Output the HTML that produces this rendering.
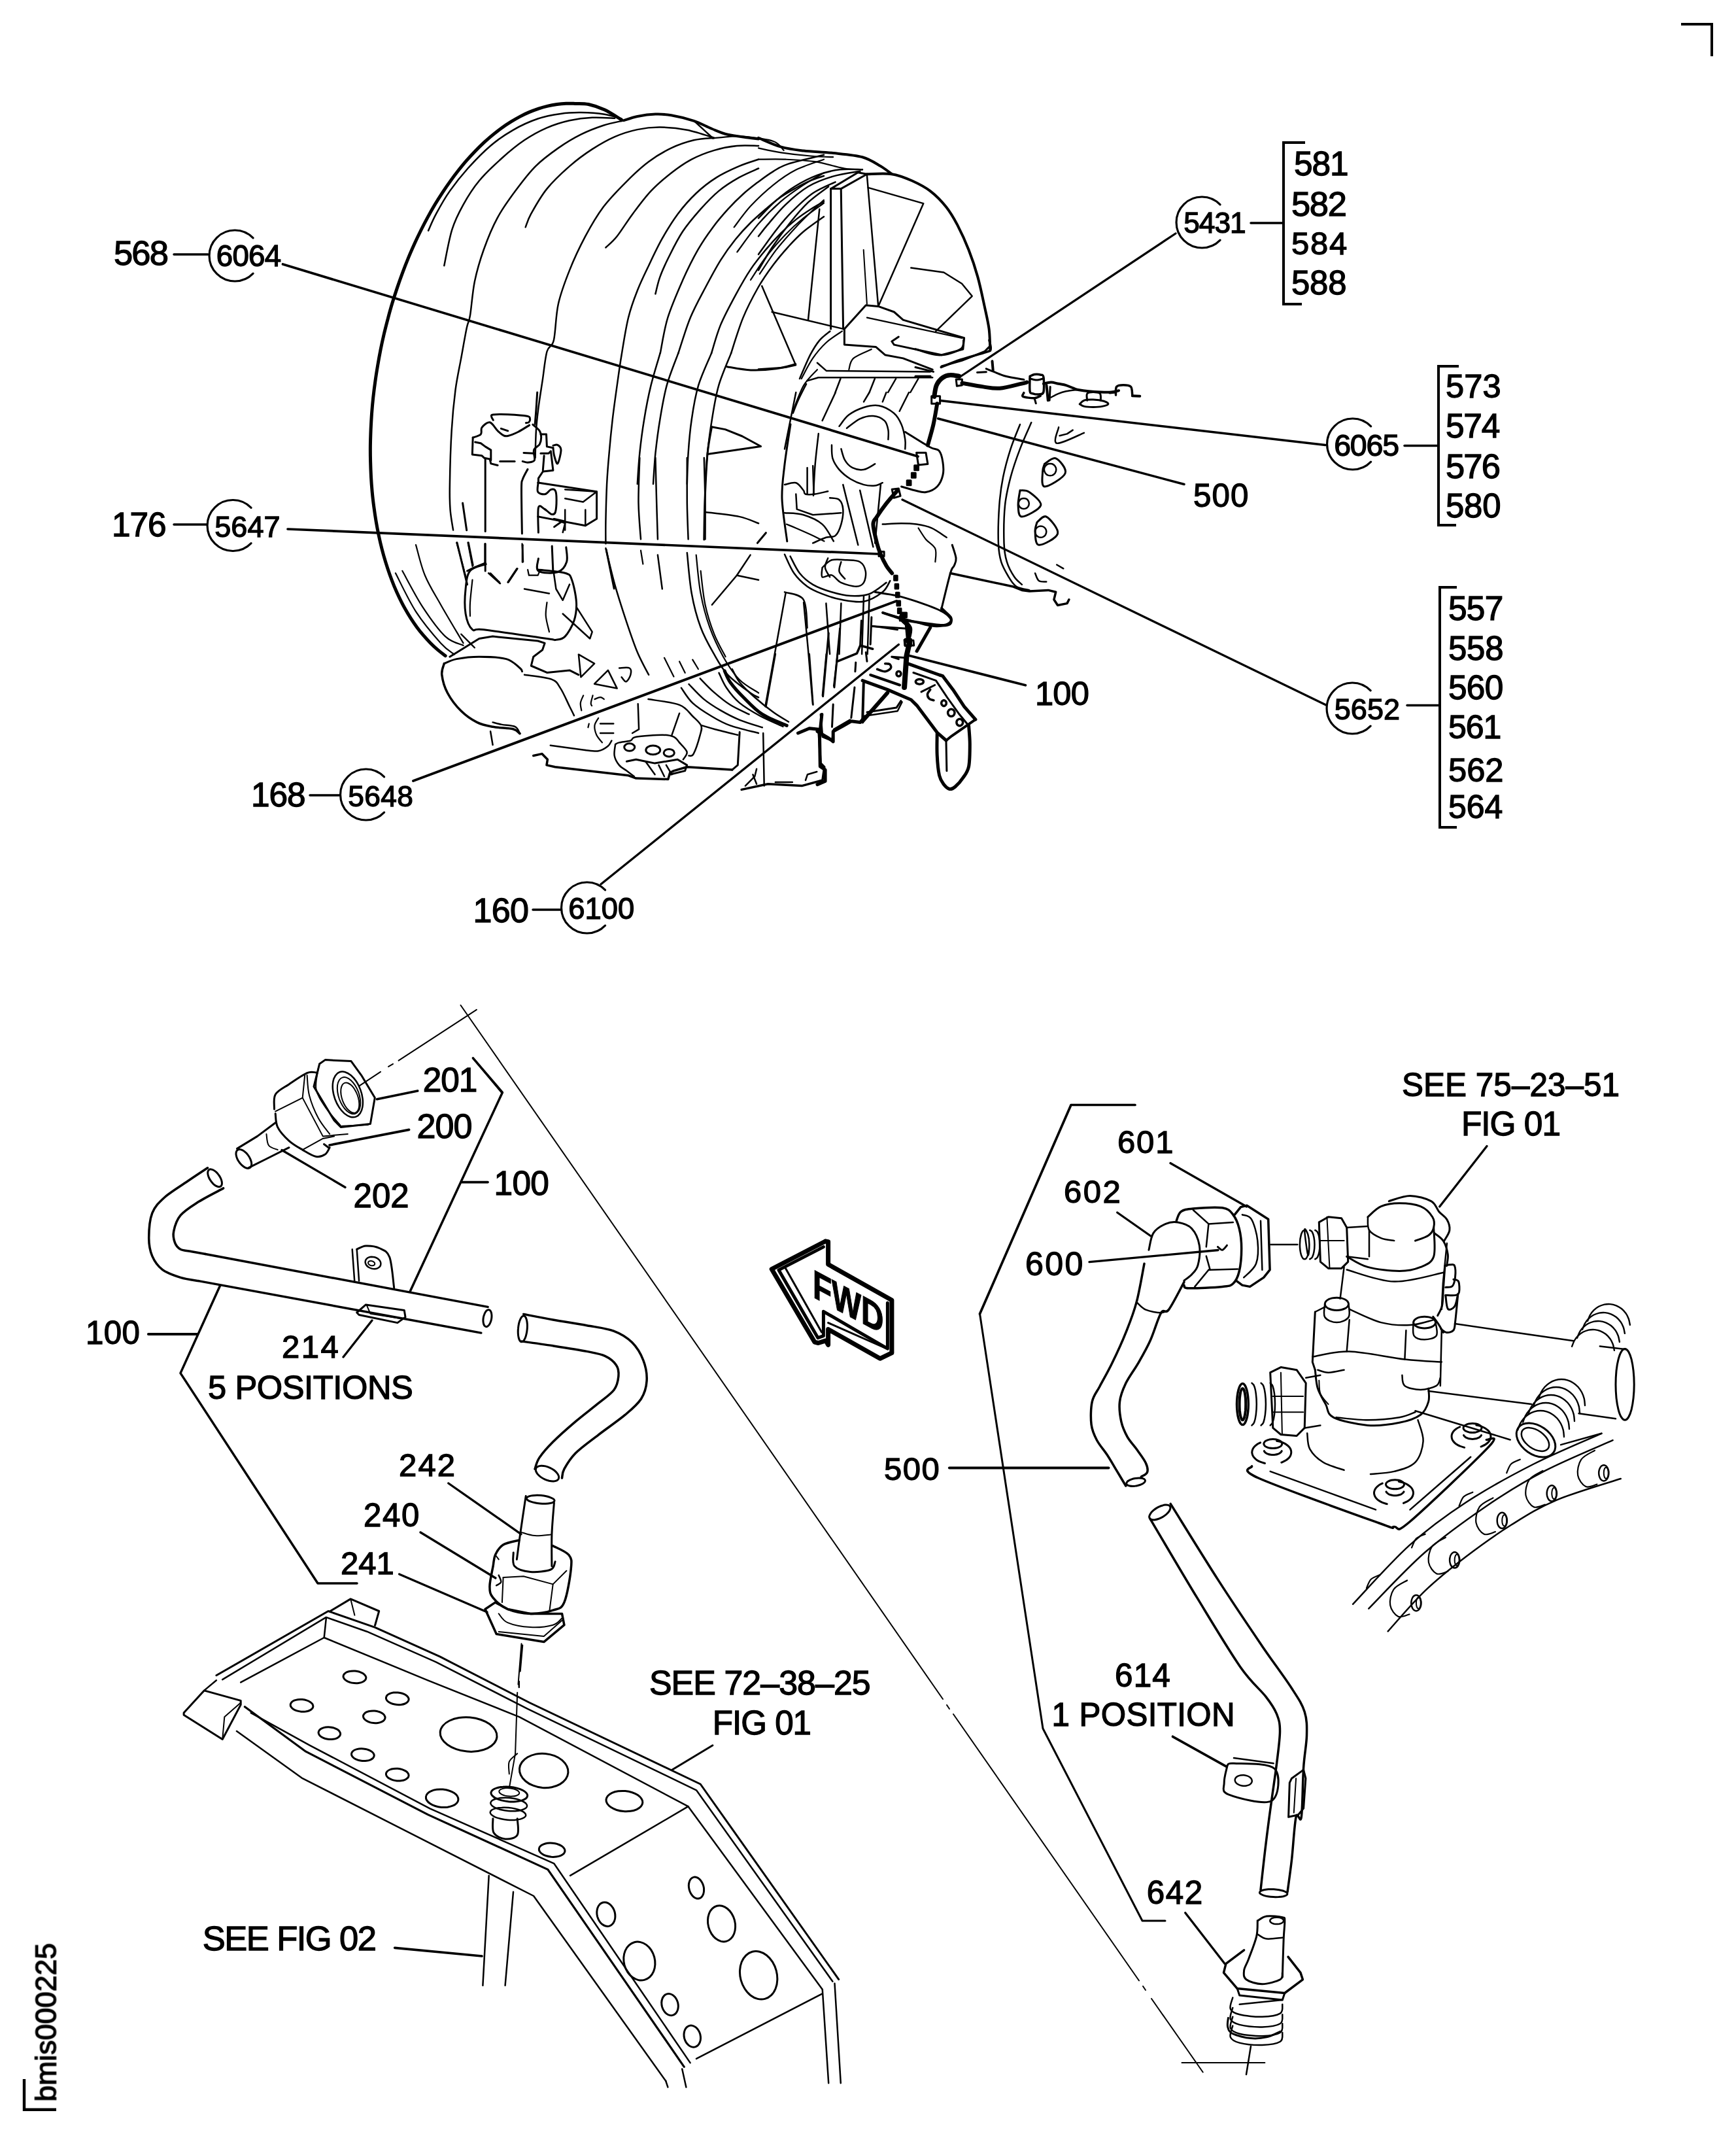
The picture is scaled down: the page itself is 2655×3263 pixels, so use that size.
<!DOCTYPE html>
<html><head><meta charset="utf-8"><style>
html,body{margin:0;padding:0;background:#fff;}
svg{display:block;}
.t{will-change:transform;}
text{font-family:"Liberation Sans",sans-serif;fill:#000;stroke:#000;stroke-width:1.3px;}
</style></head><body>
<svg width="2655" height="3263" viewBox="0 0 2655 3263">
<rect width="2655" height="3263" fill="#fff"/>
<g fill="none" stroke="#000" stroke-linecap="round" stroke-linejoin="round">
<path d="M2571.0,37.0 L2618.0,37.0 L2618.0,86.0" stroke-width="4" stroke-linecap="butt" stroke-linejoin="miter"/>
<path d="M37.0,3179.0 L37.0,3225.7 L86.0,3225.7" stroke-width="4.4" stroke-linecap="butt" stroke-linejoin="miter"/>
<path d="M1996.0,218.0 L1963.0,218.0 L1963.0,465.0 L1991.0,465.0" stroke-width="4" stroke-linecap="butt" stroke-linejoin="miter"/>
<path d="M2231.0,560.0 L2200.0,560.0 L2200.0,803.0 L2227.0,803.0" stroke-width="4" stroke-linecap="butt" stroke-linejoin="miter"/>
<path d="M2228.0,898.0 L2202.0,898.0 L2202.0,1265.0 L2228.0,1265.0" stroke-width="4" stroke-linecap="butt" stroke-linejoin="miter"/>
<path d="M387.1,363.9 A39.0,39.0 0 1 0 387.1,418.1" stroke-width="3.2"/>
<path d="M1866.1,312.9 A39.0,39.0 0 1 0 1866.1,367.1" stroke-width="3.2"/>
<path d="M2096.6,651.9 A39.0,39.0 0 1 0 2096.6,706.1" stroke-width="3.2"/>
<path d="M2096.1,1055.9 A39.0,39.0 0 1 0 2096.1,1110.1" stroke-width="3.2"/>
<path d="M384.1,776.4 A39.0,39.0 0 1 0 384.1,830.6" stroke-width="3.2"/>
<path d="M587.6,1187.9 A39.0,39.0 0 1 0 587.6,1242.1" stroke-width="3.2"/>
<path d="M925.6,1360.9 A39.0,39.0 0 1 0 925.6,1415.1" stroke-width="3.2"/>
<path d="M266.0,389.0 L318.0,389.0" stroke-width="3.5"/>
<path d="M266.0,802.0 L316.0,802.0" stroke-width="3.5"/>
<path d="M474.0,1216.0 L519.0,1216.0" stroke-width="3.5"/>
<path d="M815.0,1391.0 L858.0,1391.0" stroke-width="3.5"/>
<path d="M1913.0,341.0 L1961.0,341.0" stroke-width="3.5"/>
<path d="M2148.0,681.5 L2198.0,681.5" stroke-width="3.5"/>
<path d="M2152.0,1078.6 L2200.0,1078.6" stroke-width="3.5"/>
<path d="M432.5,404.0 L1404.0,698.0" stroke-width="3.7"/>
<path d="M440.0,809.0 L1342.0,847.0" stroke-width="3.7"/>
<path d="M632.0,1194.0 L1371.0,919.0" stroke-width="3.9"/>
<path d="M919.0,1352.0 L1374.4,985.5" stroke-width="3.3"/>
<path d="M1798.0,357.0 L1467.0,577.0" stroke-width="3.3"/>
<path d="M2027.0,680.5 L1438.0,612.6" stroke-width="3.5"/>
<path d="M1811.0,740.5 L1434.6,640.0" stroke-width="3.5"/>
<path d="M2028.0,1078.0 L1380.0,764.0" stroke-width="3.3"/>
<path d="M1568.4,1047.8 L1388.7,1002.0" stroke-width="3.7"/>
<path d="M638.7,1668.0 L576.5,1680.7" stroke-width="3.7"/>
<path d="M625.6,1727.4 L504.0,1751.0" stroke-width="3.7"/>
<path d="M528.0,1815.5 L431.0,1758.5" stroke-width="3.3"/>
<path d="M706.0,1807.6 L746.0,1807.6" stroke-width="3.7"/>
<path d="M723.4,1617.8 L768.4,1670.4 L627.0,1975.0" stroke-width="3.5"/>
<path d="M336.5,1966.0 L276.0,2099.6 L486.0,2421.0 L546.0,2421.0" stroke-width="3.5"/>
<path d="M227.0,2040.0 L302.0,2040.0" stroke-width="4.2"/>
<path d="M525.0,2075.0 L569.0,2019.0" stroke-width="3.3"/>
<path d="M685.8,2268.0 L797.0,2345.8" stroke-width="3.3"/>
<path d="M643.0,2343.0 L758.0,2413.0" stroke-width="3.3"/>
<path d="M610.6,2407.0 L745.0,2465.0" stroke-width="3.3"/>
<path d="M603.7,2978.3 L737.0,2991.0" stroke-width="3.7"/>
<path d="M1736.0,1689.5 L1638.0,1689.5 L1498.5,2009.0" stroke-width="3.7"/>
<path d="M2274.0,1752.5 L2201.7,1845.0" stroke-width="3.3"/>
<path d="M1790.0,1778.5 L1906.5,1845.0" stroke-width="3.3"/>
<path d="M1708.7,1854.0 L1760.0,1890.0" stroke-width="3.3"/>
<path d="M1666.0,1929.7 L1863.0,1911.5" stroke-width="3.3"/>
<path d="M1452.0,2244.5 L1695.4,2244.5" stroke-width="4.2"/>
<path d="M1812.7,2924.8 L1873.0,3002.6" stroke-width="3.3"/>
<path d="M1793.5,2655.3 L1875.5,2701.2" stroke-width="3.7"/>
<path d="M950.6,183.2 C946.3,180.7 933.4,171.9 925.0,168.0 C916.6,164.1 907.6,161.1 900.0,159.5 C892.4,157.9 885.2,158.6 879.5,158.4 C873.8,158.2 870.4,158.0 865.8,158.2 C861.2,158.4 856.6,158.8 851.9,159.5 C847.2,160.2 842.5,161.0 837.8,162.1 C833.1,163.2 828.4,164.5 823.7,166.1 C819.0,167.7 814.3,169.4 809.6,171.4 C804.9,173.4 800.2,175.6 795.5,178.1 C790.8,180.6 786.2,183.3 781.5,186.2 C776.8,189.1 772.1,192.2 767.5,195.5 C762.9,198.8 758.3,202.4 753.8,206.1 C749.2,209.8 744.7,213.8 740.2,217.9 C735.7,222.1 731.3,226.4 726.9,231.0 C722.5,235.6 718.1,240.3 713.8,245.2 C709.5,250.1 705.3,255.2 701.1,260.5 C696.9,265.8 692.8,271.3 688.8,276.9 C684.8,282.5 680.7,288.4 676.8,294.3 C672.9,300.2 669.0,306.3 665.3,312.6 C661.5,318.9 657.9,325.3 654.3,331.9 C650.7,338.5 647.2,345.2 643.8,352.0 C640.4,358.8 637.1,365.7 633.9,372.8 C630.7,379.9 627.5,387.1 624.5,394.4 C621.5,401.7 618.6,409.1 615.8,416.6 C613.0,424.1 610.3,431.7 607.7,439.4 C605.1,447.1 602.6,454.8 600.2,462.6 C597.8,470.4 595.6,478.4 593.5,486.3 C591.4,494.2 589.3,502.2 587.4,510.3 C585.5,518.4 583.7,526.5 582.1,534.6 C580.5,542.7 579.0,550.9 577.6,559.1 C576.2,567.3 574.9,575.4 573.8,583.6 C572.6,591.8 571.6,600.1 570.7,608.3 C569.8,616.5 569.1,624.6 568.5,632.8 C567.9,641.0 567.5,649.2 567.1,657.3 C566.8,665.4 566.5,673.5 566.4,681.5 C566.3,689.5 566.4,697.6 566.6,705.5 C566.8,713.4 567.1,721.3 567.5,729.1 C567.9,736.9 568.5,744.7 569.2,752.3 C569.9,759.9 570.8,767.4 571.8,774.9 C572.8,782.4 573.9,789.8 575.1,797.0 C576.3,804.2 577.7,811.4 579.2,818.4 C580.7,825.4 582.3,832.4 584.0,839.2 C585.7,846.0 587.6,852.6 589.6,859.1 C591.6,865.6 593.7,872.0 595.9,878.2 C598.1,884.4 600.4,890.5 602.9,896.4 C605.4,902.3 607.9,908.0 610.6,913.6 C613.3,919.2 616.0,924.6 618.9,929.8 C621.8,935.0 624.8,940.0 627.9,944.9 C631.0,949.8 634.2,954.4 637.5,958.9 C640.8,963.4 644.2,967.6 647.7,971.7 C651.2,975.8 654.7,979.6 658.3,983.3 C661.9,987.0 665.7,990.5 669.5,993.7 C673.3,997.0 679.2,1001.3 681.2,1002.8" stroke-width="5"/>
<path d="M954.1,184.2 C957.5,183.2 966.7,179.6 974.8,178.0 C982.9,176.4 993.8,174.9 1002.4,174.6 C1011.1,174.3 1016.8,174.6 1026.6,176.3 C1036.4,178.0 1050.8,181.5 1061.2,184.9 C1071.6,188.4 1080.2,193.6 1088.9,197.0 C1097.5,200.5 1103.3,203.4 1113.1,205.7 C1122.9,208.0 1139.8,209.7 1147.6,210.9 C1155.5,212.0 1158.0,212.3 1160.1,212.6" stroke-width="4"/>
<path d="M950.6,181.5 C946.0,180.3 933.3,176.1 922.9,174.6 C912.6,173.0 899.3,172.3 888.4,172.1 C877.4,172.0 868.2,172.3 857.3,173.9 C846.3,175.4 834.8,177.3 822.7,181.5 C810.6,185.6 796.8,191.8 784.7,198.8 C772.6,205.7 761.6,213.2 750.1,223.0 C738.6,232.8 725.9,246.0 715.5,257.5 C705.2,269.0 696.0,280.6 687.9,292.1 C679.8,303.6 672.6,316.6 667.2,326.7 C661.7,336.7 657.1,348.3 655.1,352.6" stroke-width="2.5"/>
<path d="M940.2,180.8 C934.5,180.6 917.2,179.2 905.7,179.8 C894.1,180.3 882.6,181.7 871.1,184.2 C859.6,186.8 848.1,190.3 836.5,195.3 C825.0,200.3 813.5,206.5 802.0,214.3 C790.4,222.1 778.9,231.6 767.4,242.0 C755.9,252.3 742.6,264.7 732.8,276.5 C723.0,288.3 715.5,300.4 708.6,312.8 C701.7,325.2 696.2,335.3 691.4,350.9 C686.5,366.4 681.3,396.9 679.3,406.2" stroke-width="2.5"/>
<path d="M954.1,184.2 C948.9,185.5 933.9,188.3 922.9,191.8 C912.0,195.4 899.9,199.9 888.4,205.7 C876.9,211.4 865.3,218.4 853.8,226.4 C842.3,234.5 830.2,243.1 819.2,254.1 C808.3,265.0 797.9,278.8 788.1,292.1 C778.3,305.3 768.5,318.6 760.5,333.6 C752.4,348.5 745.5,365.8 739.7,382.0 C734.0,398.1 729.4,413.6 725.9,430.4 C722.5,447.1 721.0,470.4 719.0,482.2 C717.0,494.0 716.1,490.3 713.8,501.2 C711.5,512.2 708.1,532.0 705.2,547.9 C702.3,563.7 699.0,577.8 696.5,596.3 C694.1,614.7 692.1,634.5 690.7,658.5 C689.2,682.5 688.2,719.9 687.9,740.1 C687.5,760.2 687.7,767.7 688.6,779.5 C689.5,791.2 692.3,805.4 693.1,810.6" stroke-width="2.5"/>
<path d="M1092.3,210.9 C1085.4,208.8 1064.7,201.5 1050.8,198.8 C1037.0,196.1 1022.0,194.7 1009.4,194.6 C996.7,194.5 986.3,195.7 974.8,198.1 C963.3,200.5 951.8,204.1 940.2,209.1 C928.7,214.1 917.2,220.7 905.7,228.1 C894.1,235.6 882.6,244.0 871.1,254.1 C859.6,264.2 846.3,276.5 836.5,288.6 C826.7,300.7 817.8,316.9 812.3,326.7 C806.9,336.5 805.1,343.9 803.7,347.4" stroke-width="2.5"/>
<path d="M1092.3,210.9 C1087.1,211.4 1072.2,211.7 1061.2,214.3 C1050.3,216.9 1038.2,220.9 1026.6,226.4 C1015.1,231.9 1003.6,238.5 992.1,247.2 C980.6,255.8 969.0,266.7 957.5,278.3 C946.0,289.8 933.3,302.5 922.9,316.3 C912.6,330.1 903.9,345.1 895.3,361.2 C886.7,377.4 878.0,395.8 871.1,413.1 C864.2,430.4 857.8,447.1 853.8,464.9 C849.8,482.8 849.8,508.1 846.9,520.2 C844.0,532.3 839.4,527.1 836.5,537.5 C833.6,547.9 831.8,568.0 829.6,582.4 C827.4,596.8 825.0,611.3 823.4,623.9 C821.8,636.6 820.7,645.8 819.9,658.5 C819.1,671.2 818.8,693.1 818.6,700.0" stroke-width="2.5"/>
<path d="M1160.1,223.0 C1154.5,223.0 1138.2,221.8 1126.9,223.0 C1115.6,224.1 1103.8,226.4 1092.3,229.9 C1080.8,233.3 1068.7,237.9 1057.8,243.7 C1046.8,249.5 1037.0,256.4 1026.6,264.4 C1016.3,272.5 1005.3,281.7 995.5,292.1 C985.7,302.5 976.5,315.1 967.9,326.7 C959.2,338.2 950.6,352.6 943.7,361.2 C936.8,369.9 929.3,375.6 926.4,378.5" stroke-width="2.5"/>
<path d="M1160.1,243.7 C1155.1,245.4 1141.1,249.5 1130.3,254.1 C1119.6,258.7 1106.7,264.4 1095.8,271.4 C1084.8,278.3 1074.5,286.3 1064.7,295.5 C1054.9,304.8 1045.7,315.1 1037.0,326.7 C1028.4,338.2 1020.3,351.4 1012.8,364.7 C1005.3,377.9 998.4,392.9 992.1,406.2 C985.7,419.4 980.0,430.9 974.8,444.2 C969.6,457.4 965.0,469.2 961.0,485.7 C956.9,502.1 953.5,525.4 950.6,542.7 C947.7,560.0 946.0,572.9 943.7,589.4 C941.4,605.8 938.8,623.9 936.8,641.2 C934.8,658.5 933.0,676.6 931.6,693.1 C930.1,709.5 929.0,722.8 928.1,740.1 C927.3,757.4 926.7,781.5 926.4,796.8 C926.1,812.0 926.4,825.6 926.4,831.3" stroke-width="2.5"/>
<path d="M1160.1,257.5 C1155.1,259.8 1140.5,265.6 1130.3,271.4 C1120.2,277.1 1109.0,284.0 1099.2,292.1 C1089.4,300.2 1080.8,309.4 1071.6,319.7 C1062.4,330.1 1052.0,342.2 1043.9,354.3 C1035.9,366.4 1028.9,380.8 1023.2,392.3 C1017.4,403.9 1012.8,413.9 1009.4,423.4 C1005.9,432.9 1003.6,445.0 1002.4,449.4" stroke-width="2.5"/>
<path d="M1062.8,186.1 L1090.4,211.4" stroke-width="2.5"/>
<path d="M1090.4,211.4 C1094.3,211.0 1105.8,209.6 1113.5,209.1 C1121.1,208.7 1125.0,207.5 1136.5,208.7 C1148.0,209.8 1172.2,212.5 1182.6,216.0 C1192.9,219.6 1196.0,227.6 1198.7,229.9" stroke-width="2.2"/>
<path d="M1009.8,540.0 C1011.7,530.9 1015.5,504.3 1021.3,485.6 C1027.1,467.0 1036.7,445.3 1044.3,428.0 C1052.0,410.7 1059.7,395.4 1067.4,381.9 C1075.1,368.5 1082.7,357.7 1090.4,347.4 C1098.1,337.0 1105.8,328.2 1113.5,319.7 C1121.1,311.3 1128.8,303.6 1136.5,296.7 C1144.2,289.8 1151.9,284.0 1159.5,278.2 C1167.2,272.5 1174.9,266.7 1182.6,262.1 C1190.3,257.5 1192.7,254.8 1205.6,250.6 C1218.5,246.4 1250.9,239.1 1260.0,236.8" stroke-width="2.5"/>
<path d="M1037.4,540.0 C1040.5,530.9 1048.9,502.4 1055.9,485.6 C1062.8,468.9 1071.2,454.1 1078.9,439.5 C1086.6,424.9 1094.3,410.4 1101.9,398.1 C1109.6,385.8 1117.3,375.4 1125.0,365.8 C1132.7,356.2 1140.3,348.1 1148.0,340.5 C1155.7,332.8 1163.4,326.3 1171.1,319.7 C1178.7,313.2 1186.4,306.7 1194.1,301.3 C1201.8,295.9 1209.5,291.7 1217.1,287.5 C1224.8,283.2 1233.0,279.0 1240.2,275.9 C1247.3,272.9 1256.7,270.2 1260.0,269.0" stroke-width="2.5"/>
<path d="M1088.1,540.0 C1090.4,532.9 1095.8,512.0 1101.9,497.1 C1108.1,482.3 1117.3,465.3 1125.0,451.1 C1132.7,436.9 1140.3,423.4 1148.0,411.9 C1155.7,400.4 1163.4,391.2 1171.1,381.9 C1178.7,372.7 1186.4,364.3 1194.1,356.6 C1201.8,348.9 1209.5,342.0 1217.1,335.9 C1224.8,329.7 1233.0,324.3 1240.2,319.7 C1247.3,315.1 1256.7,310.1 1260.0,308.2" stroke-width="2.5"/>
<path d="M1118.1,540.0 C1121.1,530.9 1129.6,502.4 1136.5,485.6 C1143.4,468.9 1151.9,453.0 1159.5,439.5 C1167.2,426.1 1174.9,415.3 1182.6,405.0 C1190.3,394.6 1197.9,385.8 1205.6,377.3 C1213.3,368.9 1219.6,362.0 1228.7,354.3 C1237.7,346.6 1254.8,335.1 1260.0,331.2" stroke-width="2.5"/>
<path d="M1122.7,347.4 C1126.9,342.0 1138.0,325.9 1148.0,315.1 C1158.0,304.4 1171.1,292.1 1182.6,282.9 C1194.1,273.6 1204.2,266.3 1217.1,259.8 C1230.0,253.3 1252.9,246.4 1260.0,243.7" stroke-width="2.2"/>
<path d="M1127.3,385.4 C1132.7,378.3 1148.4,355.6 1159.5,342.8 C1170.7,329.9 1182.6,318.2 1194.1,308.2 C1205.6,298.2 1217.7,290.2 1228.7,282.9 C1239.6,275.6 1254.8,267.5 1260.0,264.4" stroke-width="2.2"/>
<path d="M1148.0,428.0 C1151.9,422.3 1162.2,405.0 1171.1,393.5 C1179.9,381.9 1191.4,368.9 1201.0,358.9 C1210.6,348.9 1218.8,341.6 1228.7,333.5 C1238.5,325.5 1254.8,314.3 1260.0,310.5" stroke-width="2.2"/>
<path d="M1161.8,418.8 C1166.1,412.7 1178.0,393.8 1187.2,381.9 C1196.4,370.0 1208.3,357.0 1217.1,347.4 C1226.0,337.8 1233.0,331.2 1240.2,324.3 C1247.3,317.4 1256.7,309.0 1260.0,305.9" stroke-width="2.2"/>
<path d="M1009.7,539.9 C1007.3,548.2 999.6,572.5 995.5,589.4 C991.4,606.2 988.0,623.9 985.2,641.2 C982.3,658.5 980.0,676.6 978.3,693.1 C976.5,709.5 975.4,732.2 974.8,740.1" stroke-width="2.5"/>
<path d="M1037.4,539.9 C1034.4,548.2 1024.4,572.5 1019.7,589.4 C1015.1,606.2 1012.2,623.9 1009.4,641.2 C1006.5,658.5 1004.2,676.6 1002.4,693.1 C1000.7,709.5 999.6,732.2 999.0,740.1" stroke-width="2.5"/>
<path d="M1088.2,539.9 C1084.8,548.2 1073.2,572.5 1068.1,589.4 C1063.1,606.2 1060.3,623.9 1057.8,641.2 C1055.2,658.5 1053.7,676.6 1052.6,693.1 C1051.4,709.5 1051.1,732.2 1050.8,740.1" stroke-width="2.5"/>
<path d="M1118.2,539.9 C1115.1,548.2 1104.1,572.5 1099.2,589.4 C1094.3,606.2 1091.7,623.9 1088.9,641.2 C1086.0,658.5 1083.7,676.6 1081.9,693.1 C1080.2,709.5 1079.1,732.2 1078.5,740.1" stroke-width="2.5"/>
<path d="M1160.0,210.9 C1165.8,213.2 1183.0,221.4 1194.6,224.7 C1206.1,228.0 1215.9,229.0 1229.1,230.6 C1242.4,232.1 1259.1,232.4 1274.1,234.0 C1289.0,235.6 1306.9,236.9 1319.0,240.2 C1331.1,243.6 1339.2,249.7 1346.7,254.1 C1354.1,258.4 1361.1,264.2 1363.9,266.2" stroke-width="4"/>
<path d="M1325.9,266.2 C1332.3,266.2 1352.4,264.4 1363.9,266.2 C1375.5,267.9 1385.3,272.2 1395.1,276.5 C1404.8,280.9 1414.1,285.5 1422.7,292.1 C1431.3,298.7 1440.0,307.6 1446.9,316.3 C1453.8,324.9 1458.4,333.0 1464.2,343.9 C1469.9,354.9 1476.3,368.7 1481.5,382.0 C1486.7,395.2 1491.3,409.0 1495.3,423.4 C1499.3,437.8 1502.8,455.1 1505.7,468.4 C1508.5,481.6 1511.1,492.0 1512.6,502.9 C1514.0,513.9 1514.0,528.9 1514.3,534.1" stroke-width="4"/>
<path d="M1319.0,259.3 C1313.2,259.3 1296.0,257.8 1284.4,259.3 C1272.9,260.7 1261.4,263.6 1249.9,267.9 C1238.4,272.2 1225.7,278.8 1215.3,285.2 C1204.9,291.5 1196.9,297.9 1187.7,305.9 C1178.4,314.0 1164.6,329.0 1160.0,333.6" stroke-width="2.5"/>
<path d="M1315.5,261.7 C1308.6,263.0 1287.3,265.7 1274.1,269.6 C1260.8,273.5 1248.1,278.0 1236.0,285.2 C1223.9,292.4 1211.8,303.0 1201.5,312.8 C1191.1,322.6 1180.7,335.9 1173.8,343.9 C1166.9,352.0 1162.3,358.3 1160.0,361.2" stroke-width="2.5"/>
<path d="M1277.5,278.3 C1271.8,281.1 1253.9,288.1 1243.0,295.5 C1232.0,303.0 1221.1,314.0 1211.8,323.2 C1202.6,332.4 1196.3,339.9 1187.7,350.9 C1179.0,361.8 1164.6,382.5 1160.0,388.9" stroke-width="2.5"/>
<path d="M1267.2,285.2 C1262.0,289.2 1245.8,300.2 1236.0,309.4 C1226.3,318.6 1217.6,329.0 1208.4,340.5 C1199.2,352.0 1188.8,366.4 1180.7,378.5 C1172.7,390.6 1163.5,407.3 1160.0,413.1" stroke-width="2.5"/>
<path d="M1160.0,226.4 C1165.8,227.6 1181.3,231.3 1194.6,233.3 C1207.8,235.3 1226.3,237.4 1239.5,238.5 C1252.8,239.7 1268.3,240.0 1274.1,240.2" stroke-width="2.2"/>
<path d="M1160.0,243.7 C1166.9,243.7 1187.1,243.1 1201.5,243.7 C1215.9,244.3 1231.4,244.9 1246.4,247.2 C1261.4,249.5 1279.3,255.5 1291.4,257.5 C1303.4,259.5 1314.4,259.0 1319.0,259.3" stroke-width="2.2"/>
<path d="M1270.6,288.6 L1286.2,288.6 L1325.9,266.2 L1312.1,263.7 L1270.6,288.6" stroke-width="3"/>
<path d="M1270.6,288.6 L1270.6,502.9" stroke-width="3"/>
<path d="M1286.2,288.6 L1289.6,502.9" stroke-width="3"/>
<path d="M1325.9,267.9 L1343.2,468.4" stroke-width="2.5"/>
<path d="M1253.3,319.7 L1236.0,489.1" stroke-width="2.5"/>
<path d="M1320.7,382.0 L1325.9,464.9" stroke-width="2"/>
<path d="M1327.6,286.9 L1412.3,311.1 L1343.2,468.4" stroke-width="2.5"/>
<path d="M1393.3,409.6 L1443.4,416.5 L1471.1,433.8 L1486.7,452.8 L1431.3,506.4" stroke-width="2.5"/>
<path d="M1180.7,477.0 L1289.6,502.9" stroke-width="2.5"/>
<path d="M1165.2,437.3 L1217.0,558.3 L1201.5,561.7 L1160.0,564.5" stroke-width="2.5"/>
<path d="M1291.4,502.9 L1324.2,466.7 L1343.2,468.4 L1367.4,477.0 L1381.2,489.1 L1474.6,516.8 L1472.8,534.1 L1440.0,542.7 L1367.4,527.1 L1363.9,522.0 L1374.3,515.0" stroke-width="3"/>
<path d="M1291.4,502.9 L1291.4,527.1 L1339.7,530.6 L1353.6,542.7 L1381.2,547.9 L1426.2,565.2" stroke-width="3"/>
<path d="M1325.9,485.7 L1471.1,516.8" stroke-width="2.2"/>
<path d="M1249.9,554.8 L1263.7,566.9 L1422.7,568.6" stroke-width="2.5"/>
<path d="M1234.3,582.4 L1251.6,577.3 L1426.2,577.3" stroke-width="2.5"/>
<path d="M1440.0,560.0 L1471.1,551.3 L1505.7,537.5 L1512.6,530.6" stroke-width="3"/>
<path d="M1225.7,579.0 C1228.6,573.8 1236.6,557.1 1243.0,547.9 C1249.3,538.7 1256.2,530.6 1263.7,523.7 C1271.2,516.8 1283.9,509.3 1287.9,506.4" stroke-width="2.2"/>
<path d="M1211.8,630.8 C1214.7,623.9 1222.8,600.3 1229.1,589.4 C1235.5,578.4 1246.4,569.2 1249.9,565.2" stroke-width="2.2"/>
<path d="M1298.3,565.2 C1299.4,562.3 1299.4,553.1 1305.2,547.9 C1310.9,542.7 1328.2,536.4 1332.8,534.1" stroke-width="2.2"/>
<path d="M1201.5,907.4 L1185.9,993.8 L1170.4,1080.2" stroke-width="2.5"/>
<path d="M1229.1,921.2 L1236.0,993.8 L1243.0,1076.8" stroke-width="2.5"/>
<path d="M604.9,876.3 C610.1,886.1 624.5,917.2 636.0,935.1 C647.6,952.9 664.3,972.5 674.1,983.4 C683.9,994.4 691.4,997.8 694.8,1000.7" stroke-width="2.2"/>
<path d="M615.3,872.8 C620.5,882.0 635.5,911.4 646.4,928.1 C657.4,944.8 670.6,963.3 681.0,973.1 C691.4,982.9 704.0,984.6 708.6,986.9" stroke-width="2.2"/>
<path d="M636.0,833.1 C638.4,840.9 643.5,864.5 649.9,879.7 C656.2,895.0 664.3,907.4 674.1,924.7 C683.9,942.0 702.9,973.6 708.6,983.4" stroke-width="2.2"/>
<path d="M698.3,829.6 L713.8,886.7" stroke-width="2.2"/>
<path d="M715.5,829.6 L722.5,865.9" stroke-width="2.2"/>
<path d="M741.5,831.4 L741.5,862.5" stroke-width="2.2"/>
<path d="M798.5,831.4 L800.2,859.0" stroke-width="2.2"/>
<path d="M687.9,1004.2 L732.8,976.5 L753.6,973.1 L822.7,980.0 L833.1,983.4 L829.6,993.8 L815.8,1004.2 L812.3,1018.0 L836.5,1028.4 L853.8,1026.7 L871.1,1024.9 L884.9,1031.8" stroke-width="3"/>
<path d="M679.3,1014.6 C678.7,1017.4 674.9,1024.3 675.8,1031.8 C676.7,1039.3 679.5,1050.3 684.4,1059.5 C689.3,1068.7 697.7,1079.7 705.2,1087.1 C712.7,1094.6 721.3,1100.4 729.4,1104.4 C737.4,1108.5 744.4,1109.6 753.6,1111.3 C762.8,1113.1 777.8,1113.1 784.7,1114.8 C791.6,1116.5 793.3,1120.6 795.1,1121.7" stroke-width="3.5"/>
<path d="M679.3,1014.6 C682.4,1013.4 689.3,1009.4 698.3,1007.6 C707.2,1005.9 720.2,1004.2 732.8,1004.2 C745.5,1004.2 763.9,1004.8 774.3,1007.6 C784.7,1010.5 791.0,1018.3 795.1,1021.5 C799.1,1024.6 797.9,1025.8 798.5,1026.7" stroke-width="3"/>
<path d="M802.0,1031.8 C808.9,1033.0 834.2,1035.3 843.4,1038.7 C852.7,1042.2 852.7,1045.7 857.3,1052.6 C861.9,1059.5 867.6,1073.3 871.1,1080.2 C874.6,1087.1 876.9,1091.8 878.0,1094.1" stroke-width="2.5"/>
<path d="M725.9,990.4 L705.2,969.6" stroke-width="2.2"/>
<path d="M753.6,1104.4 C755.9,1105.0 761.6,1106.7 767.4,1107.9 C773.2,1109.0 783.5,1109.0 788.1,1111.3 C792.7,1113.6 793.9,1120.0 795.1,1121.7" stroke-width="2.5"/>
<path d="M750.1,1118.3 L753.6,1139.0" stroke-width="2.5"/>
<path d="M743.2,862.5 C739.2,864.2 724.2,866.5 719.0,872.8 C713.8,879.2 713.2,889.5 712.1,900.5 C710.9,911.4 710.4,928.1 712.1,938.5 C713.8,948.9 717.9,958.7 722.5,962.7 C727.1,966.7 720.7,960.4 739.7,962.7 C758.8,965.0 818.1,973.9 836.5,976.5 C855.0,979.1 845.7,978.8 850.4,978.3 C855.0,977.7 859.6,978.0 864.2,973.1 C868.8,968.2 875.1,957.5 878.0,948.9 C880.9,940.2 882.0,931.6 881.5,921.2 C880.9,910.9 877.4,894.1 874.6,886.7 C871.7,879.2 872.8,878.9 864.2,876.3 C855.5,873.7 829.6,872.0 822.7,871.1" stroke-width="3"/>
<path d="M846.9,876.3 L850.4,900.5 L860.7,917.8 L871.1,893.6" stroke-width="2.5"/>
<path d="M860.7,938.5 L902.2,976.5 L905.7,966.2 L881.5,928.1" stroke-width="2.5"/>
<path d="M802.0,900.5 L840.0,907.4" stroke-width="2.5"/>
<path d="M836.5,921.2 C836.2,924.7 834.2,934.5 834.8,942.0 C835.4,949.5 839.1,962.1 840.0,966.2" stroke-width="2.2"/>
<path d="M722.5,886.7 C721.9,892.4 719.6,912.0 719.0,921.2 C718.4,930.4 719.0,938.5 719.0,942.0" stroke-width="2.2"/>
<path d="M750.1,876.3 L763.9,890.1" stroke-width="2.2"/>
<path d="M777.8,890.1 L791.6,869.4" stroke-width="2.2"/>
<path d="M807.1,871.1 L808.9,879.7 L822.7,879.7 L826.2,871.1" stroke-width="2.2"/>
<path d="M822.7,738.0 L912.6,751.8 L912.6,793.3 L895.3,803.7 L822.7,789.9" stroke-width="3"/>
<path d="M864.2,748.4 L912.6,751.8 L891.8,767.4 L864.2,762.2" stroke-width="2.5"/>
<path d="M895.3,779.5 L895.3,803.7" stroke-width="2.5"/>
<path d="M846.9,793.3 L864.2,800.2 L860.7,814.1" stroke-width="2.5"/>
<path d="M864.2,779.5 L864.2,810.6" stroke-width="2.5"/>
<path d="M884.9,1000.7 L888.4,1035.3 L909.1,1014.6 L884.9,1000.7" stroke-width="2.5"/>
<path d="M909.1,1045.7 L929.9,1024.9 L943.7,1052.6 L909.1,1045.7" stroke-width="2.5"/>
<path d="M947.1,1021.5 C949.7,1021.5 959.8,1019.7 962.7,1021.5 C965.6,1023.2 965.3,1028.4 964.4,1031.8 C963.6,1035.3 959.8,1041.6 957.5,1042.2 C955.2,1042.8 951.8,1036.4 950.6,1035.3" stroke-width="2.5"/>
<path d="M926.4,838.3 C928.7,847.5 935.0,875.1 940.2,893.6 C945.4,912.0 951.8,931.6 957.5,948.9 C963.3,966.2 969.0,983.4 974.8,997.3 C980.6,1011.1 989.2,1026.1 992.1,1031.8" stroke-width="2.5"/>
<path d="M1005.9,848.6 L1012.8,900.5" stroke-width="2.5"/>
<path d="M980.0,841.7 L983.4,862.5" stroke-width="2.2"/>
<path d="M1050.8,845.2 C1052.0,855.5 1054.3,888.4 1057.8,907.4 C1061.2,926.4 1065.8,943.7 1071.6,959.2 C1077.3,974.8 1085.4,988.6 1092.3,1000.7 C1099.2,1012.8 1103.8,1022.0 1113.1,1031.8 C1122.3,1041.6 1139.8,1053.7 1147.6,1059.5 C1155.5,1065.2 1158.0,1065.2 1160.1,1066.4" stroke-width="2.5"/>
<path d="M1064.7,848.6 C1065.8,858.4 1068.1,889.0 1071.6,907.4 C1075.0,925.8 1079.6,943.1 1085.4,959.2 C1091.2,975.4 1098.7,990.9 1106.1,1004.2 C1113.6,1017.4 1121.4,1029.5 1130.3,1038.7 C1139.3,1048.0 1155.1,1056.0 1160.1,1059.5" stroke-width="2.2"/>
<path d="M1071.6,872.8 C1072.7,881.5 1075.0,908.5 1078.5,924.7 C1081.9,940.8 1087.1,956.4 1092.3,969.6 C1097.5,982.9 1106.7,998.4 1109.6,1004.2" stroke-width="2.2"/>
<path d="M1076.8,700.0 C1077.1,711.5 1078.2,748.4 1078.5,769.1 C1078.8,789.9 1078.5,815.2 1078.5,824.4" stroke-width="2.5"/>
<path d="M1050.8,700.0 C1050.8,711.5 1050.6,748.4 1050.8,769.1 C1051.1,789.9 1052.3,815.2 1052.6,824.4" stroke-width="2.5"/>
<path d="M1002.4,700.0 C1002.7,711.5 1003.6,748.4 1004.2,769.1 C1004.8,789.9 1005.6,815.2 1005.9,824.4" stroke-width="2.5"/>
<path d="M978.3,700.0 C978.0,711.5 976.2,748.4 976.5,769.1 C976.8,789.9 979.4,815.2 980.0,824.4" stroke-width="2.5"/>
<path d="M1078.5,783.0 C1087.1,784.1 1116.7,787.0 1130.3,789.9 C1143.9,792.8 1155.1,798.5 1160.1,800.2" stroke-width="2.5"/>
<path d="M1147.6,848.6 L1126.9,879.7 L1088.9,924.7" stroke-width="2.5"/>
<path d="M1126.9,879.7 L1160.1,886.7" stroke-width="2.5"/>
<path d="M754.3,642.3 C753.9,641.5 751.7,638.5 751.7,637.2 C751.7,635.8 750.1,634.6 754.3,634.0 C758.5,633.5 768.1,633.3 776.8,633.7 C785.4,634.1 800.5,635.1 806.1,636.3 C811.8,637.4 810.0,639.0 810.5,640.6 C810.9,642.2 809.7,644.8 808.7,645.8 C807.7,646.8 805.1,646.5 804.4,646.7" stroke-width="3"/>
<path d="M723.2,669.1 C725.2,668.3 733.0,666.5 735.3,663.9 C737.6,661.3 734.7,656.6 737.0,653.6 C739.3,650.5 745.1,644.9 749.1,645.8 C753.2,646.7 757.8,655.4 761.2,658.8 C764.7,662.1 767.3,664.4 769.9,665.7 C772.4,667.0 773.0,667.4 776.8,666.5 C780.5,665.7 786.8,663.2 792.3,660.5 C797.8,657.7 806.7,651.8 809.6,650.1" stroke-width="3"/>
<path d="M723.2,669.1 L722.3,695.0 L737.0,696.8 L740.5,700.2 L749.1,702.0 L750.8,708.9 L761.2,711.5" stroke-width="3"/>
<path d="M814.8,649.2 C816.5,650.8 823.0,655.4 825.2,658.8 C827.3,662.1 827.7,665.7 827.7,669.1 C827.7,672.6 827.0,676.3 825.2,679.5 C823.3,682.7 817.8,684.1 816.5,688.1 C815.2,692.2 818.8,700.5 817.4,703.7 C815.9,706.8 810.9,706.8 807.9,707.1 C804.8,707.4 800.7,705.7 799.2,705.4" stroke-width="3"/>
<path d="M764.7,705.4 L787.1,705.4" stroke-width="3"/>
<path d="M801.0,692.4 L816.5,693.3" stroke-width="3"/>
<path d="M766.4,655.3 L776.8,658.8" stroke-width="3"/>
<path d="M726.7,676.0 L735.3,677.8 L742.2,682.9 L750.8,688.1 L750.8,703.7" stroke-width="3"/>
<path d="M742.2,702.0 L742.2,812.5" stroke-width="3"/>
<path d="M807.0,717.5 C805.7,720.1 800.8,728.2 799.2,733.1 C797.6,738.0 797.6,733.1 797.5,746.9 C797.4,760.7 798.2,804.5 798.4,816.0" stroke-width="3"/>
<path d="M826.9,663.9 L835.5,663.9 L836.4,682.9 L845.9,684.7" stroke-width="3"/>
<path d="M845.9,681.2 C847.0,681.1 850.8,679.2 852.8,680.4 C854.8,681.5 858.0,683.4 858.0,688.1 C858.0,692.9 854.5,707.4 852.8,708.9 C851.1,710.3 848.8,700.8 847.6,696.8 C846.5,692.7 846.2,686.7 845.9,684.7" stroke-width="3"/>
<path d="M826.9,693.3 L839.0,693.3 L842.4,689.9 L845.9,719.2 L830.3,721.0 L823.4,731.3 L823.4,736.5" stroke-width="3"/>
<path d="M832.1,696.8 L830.3,719.2" stroke-width="3"/>
<path d="M823.4,736.5 C823.3,739.1 820.8,748.9 822.6,752.1 C824.3,755.2 830.5,756.1 833.8,755.5 C837.1,754.9 839.8,749.5 842.4,748.6 C845.0,747.7 847.9,747.7 849.3,750.3 C850.8,752.9 851.1,758.7 851.1,764.2 C851.1,769.6 850.5,779.4 849.3,783.2 C848.2,786.9 845.9,786.6 844.2,786.6 C842.4,786.6 841.0,784.6 839.0,783.2 C837.0,781.7 834.7,779.1 832.1,778.0 C829.5,776.8 824.9,770.2 823.4,776.3 C822.0,782.3 823.4,807.9 823.4,814.3" stroke-width="3"/>
<path d="M707.6,769.3 L713.7,810.8" stroke-width="3"/>
<path d="M821.7,600.0 C821.4,604.3 820.5,617.9 820.0,625.9 C819.4,634.0 818.5,644.6 818.2,648.4" stroke-width="3"/>
<path d="M699.0,829.8 L714.6,893.8" stroke-width="3"/>
<path d="M716.3,829.8 L723.2,864.4" stroke-width="3"/>
<path d="M742.2,831.6 L742.2,873.0" stroke-width="3"/>
<path d="M799.2,833.3 L799.2,859.2" stroke-width="3"/>
<path d="M823.4,854.0 C823.4,857.2 818.5,869.6 823.4,873.0 C828.3,876.5 845.6,877.1 852.8,874.8 C860.0,872.4 864.5,865.5 866.6,859.2 C868.8,852.9 865.9,840.5 865.8,836.7" stroke-width="3"/>
<path d="M844.2,835.0 L845.9,874.8" stroke-width="3"/>
<path d="M927.1,840.2 L939.2,900.0" stroke-width="3"/>
<path d="M714.6,873.0 L724.9,867.8 L742.2,860.9" stroke-width="3"/>
<path d="M747.4,876.5 L764.7,892.0" stroke-width="3"/>
<path d="M776.8,890.3 L790.6,869.6" stroke-width="3"/>
<path d="M847.6,793.5 L863.2,797.0" stroke-width="3"/>
<path d="M847.6,805.6 L859.7,797.0" stroke-width="3"/>
<path d="M815.8,1155.5 L828.8,1152.6 L837.4,1161.3 L836.0,1169.9 L849.0,1172.8 L961.3,1185.8 L972.8,1190.1 L1021.8,1191.5 L1024.7,1181.5 L1030.4,1178.6 L1050.6,1172.8 L1119.7,1177.1" stroke-width="3.5"/>
<path d="M841.8,1139.7 L895.0,1146.9" stroke-width="2.5"/>
<path d="M895.0,1146.9 C898.4,1147.1 909.4,1149.3 915.2,1148.3 C921.0,1147.4 926.2,1143.8 929.6,1141.1 C933.0,1138.5 934.4,1133.9 935.4,1132.5" stroke-width="2.5"/>
<path d="M941.1,1138.2 C942.1,1137.8 943.0,1136.3 946.9,1135.4 C950.7,1134.4 959.9,1133.9 964.2,1132.5 C968.5,1131.0 964.7,1128.2 972.8,1126.7 C981.0,1125.3 1003.5,1123.8 1013.1,1123.8 C1022.7,1123.8 1026.1,1124.8 1030.4,1126.7 C1034.7,1128.6 1037.6,1133.9 1039.1,1135.4" stroke-width="2.5"/>
<path d="M941.1,1138.2 C940.9,1141.1 938.7,1150.2 939.7,1155.5 C940.6,1160.8 943.8,1166.1 946.9,1169.9 C950.0,1173.8 954.6,1175.7 958.4,1178.6 C962.3,1181.5 968.0,1185.8 969.9,1187.2" stroke-width="2.5"/>
<path d="M958.4,1164.2 L972.8,1161.3 L987.2,1164.2 L1001.6,1167.1 L1036.2,1161.3 L1050.6,1169.9 L1047.7,1178.6 L1024.7,1184.3" stroke-width="3"/>
<path d="M987.2,1164.2 L1001.6,1184.3" stroke-width="2.5"/>
<path d="M1007.4,1169.9 L1016.0,1187.2" stroke-width="2.5"/>
<path d="M1018.9,1169.9 L1027.5,1184.3" stroke-width="2.5"/>
<path d="M1039.1,1135.4 C1041.0,1137.8 1049.6,1145.4 1050.6,1149.8 C1051.5,1154.1 1045.8,1159.4 1044.8,1161.3" stroke-width="2.5"/>
<path d="M970.8,1142.6 C970.8,1143.9 969.8,1145.7 968.4,1146.6 C967.1,1147.6 964.6,1148.3 962.7,1148.3 C960.8,1148.3 958.4,1147.6 957.0,1146.6 C955.7,1145.7 954.7,1143.9 954.7,1142.6 C954.7,1141.2 955.7,1139.5 957.0,1138.5 C958.4,1137.5 960.8,1136.8 962.7,1136.8 C964.6,1136.8 967.1,1137.5 968.4,1138.5 C969.8,1139.5 970.8,1141.2 970.8,1142.6 Z" stroke-width="3"/>
<path d="M1009.7,1146.9 C1009.7,1148.5 1008.3,1150.6 1006.5,1151.8 C1004.6,1152.9 1001.3,1153.8 998.7,1153.8 C996.2,1153.8 992.8,1152.9 991.0,1151.8 C989.2,1150.6 987.8,1148.5 987.8,1146.9 C987.8,1145.3 989.2,1143.2 991.0,1142.0 C992.8,1140.8 996.2,1140.0 998.7,1140.0 C1001.3,1140.0 1004.6,1140.8 1006.5,1142.0 C1008.3,1143.2 1009.7,1145.3 1009.7,1146.9 Z" stroke-width="3"/>
<path d="M1031.3,1151.2 C1031.3,1152.6 1030.3,1154.3 1028.9,1155.3 C1027.6,1156.2 1025.1,1157.0 1023.2,1157.0 C1021.3,1157.0 1018.9,1156.2 1017.5,1155.3 C1016.2,1154.3 1015.1,1152.6 1015.1,1151.2 C1015.1,1149.9 1016.2,1148.1 1017.5,1147.1 C1018.9,1146.2 1021.3,1145.4 1023.2,1145.4 C1025.1,1145.4 1027.6,1146.2 1028.9,1147.1 C1030.3,1148.1 1031.3,1149.9 1031.3,1151.2 Z" stroke-width="3"/>
<path d="M892.2,1063.4 C891.4,1065.3 888.3,1071.0 887.8,1074.9 C887.4,1078.7 889.0,1084.5 889.3,1086.4" stroke-width="2.2"/>
<path d="M906.6,1063.4 C906.1,1065.3 903.9,1072.2 903.7,1074.9 C903.4,1077.5 904.9,1078.5 905.1,1079.2" stroke-width="2.2"/>
<path d="M909.4,1069.1 C910.9,1068.6 915.7,1066.2 918.1,1066.2 C920.5,1066.2 922.9,1068.6 923.8,1069.1" stroke-width="2.2"/>
<path d="M915.2,1097.9 C914.2,1099.8 909.9,1105.1 909.4,1109.4 C909.0,1113.8 910.4,1119.5 912.3,1123.8 C914.2,1128.2 919.5,1133.4 921.0,1135.4" stroke-width="2.2"/>
<path d="M900.8,1106.6 L899.4,1112.3" stroke-width="2.2"/>
<path d="M918.1,1106.6 L938.2,1106.6" stroke-width="2.5"/>
<path d="M918.1,1121.0 L938.2,1121.0" stroke-width="2.5"/>
<path d="M975.7,1076.3 L977.1,1115.2 L967.1,1121.0" stroke-width="2.5"/>
<path d="M1039.1,1090.7 L1027.5,1123.8" stroke-width="2.5"/>
<path d="M991.5,1069.1 C999.5,1070.6 1027.8,1073.4 1039.1,1077.8 C1050.3,1082.1 1053.7,1089.8 1059.2,1095.0 C1064.7,1100.3 1070.3,1104.6 1072.2,1109.4 C1074.1,1114.2 1072.7,1116.6 1070.7,1123.8 C1068.8,1131.0 1063.5,1147.4 1060.7,1152.6 C1057.8,1157.9 1054.7,1155.0 1053.5,1155.5" stroke-width="2.5"/>
<path d="M1041.9,1051.8 C1044.8,1055.7 1051.5,1067.7 1059.2,1074.9 C1066.9,1082.1 1078.4,1089.3 1088.0,1095.0 C1097.6,1100.8 1104.8,1105.1 1116.8,1109.4 C1128.8,1113.8 1152.8,1119.0 1160.0,1121.0" stroke-width="2.5"/>
<path d="M1053.5,1046.1 C1057.3,1049.9 1068.3,1062.4 1076.5,1069.1 C1084.7,1075.8 1093.3,1081.1 1102.4,1086.4 C1111.5,1091.7 1120.7,1096.5 1131.2,1100.8 C1141.8,1105.1 1160.0,1110.4 1165.8,1112.3" stroke-width="2.5"/>
<path d="M1108.2,1025.9 C1109.6,1028.8 1112.0,1036.5 1116.8,1043.2 C1121.6,1049.9 1128.8,1058.1 1137.0,1066.2 C1145.1,1074.4 1154.7,1085.0 1165.8,1092.2 C1176.8,1099.4 1197.0,1106.6 1203.2,1109.4" stroke-width="5"/>
<path d="M1099.5,1028.8 C1101.5,1032.6 1105.8,1044.2 1111.1,1051.8 C1116.3,1059.5 1122.6,1067.7 1131.2,1074.9 C1139.9,1082.1 1151.9,1089.0 1162.9,1095.0 C1173.9,1101.0 1191.7,1108.2 1197.5,1110.9" stroke-width="2.5"/>
<path d="M1119.7,1023.0 C1121.6,1026.4 1125.5,1036.0 1131.2,1043.2 C1137.0,1050.4 1145.6,1058.6 1154.3,1066.2 C1162.9,1073.9 1174.4,1083.0 1183.1,1089.3 C1191.7,1095.5 1202.3,1101.3 1206.1,1103.7" stroke-width="2.5"/>
<path d="M1070.7,1037.4 C1074.1,1040.8 1083.2,1050.9 1090.9,1057.6 C1098.6,1064.3 1107.7,1072.0 1116.8,1077.8 C1125.9,1083.5 1140.8,1089.8 1145.6,1092.2" stroke-width="2.5"/>
<path d="M1016.0,1005.8 L1030.4,1034.6" stroke-width="2.2"/>
<path d="M1039.1,1011.5 L1047.7,1028.8" stroke-width="2.2"/>
<path d="M1059.2,1008.6 L1067.9,1023.0" stroke-width="2.2"/>
<path d="M1073.6,1109.4 C1077.0,1110.4 1084.7,1112.8 1093.8,1115.2 C1102.9,1117.6 1122.6,1122.4 1128.3,1123.8" stroke-width="2.5"/>
<path d="M1131.2,1119.5 L1128.3,1169.9 L1119.7,1177.1" stroke-width="3"/>
<path d="M1167.2,1121.0 L1168.7,1201.6" stroke-width="2.5"/>
<path d="M1134.1,1207.4 L1174.4,1198.7 L1226.3,1201.6 L1257.9,1193.0 L1260.8,1172.8 L1255.1,1167.1 L1252.2,1121.0" stroke-width="3.5"/>
<path d="M1185.9,1195.9 L1211.9,1195.9" stroke-width="2.5"/>
<path d="M1232.0,1193.0 L1234.9,1184.3 L1249.3,1180.0" stroke-width="2.5"/>
<path d="M1185.9,1000.0 L1171.5,1080.6" stroke-width="2.5"/>
<path d="M1237.8,1000.0 L1243.5,1077.8" stroke-width="2.5"/>
<path d="M1263.7,1000.0 L1257.9,1063.4" stroke-width="2.5"/>
<path d="M1281.0,1000.0 L1275.2,1049.0" stroke-width="2.5"/>
<path d="M1255.1,1092.2 L1257.9,1126.7 L1272.4,1132.5 L1275.2,1115.2 L1300.0,1100.8" stroke-width="3"/>
<path d="M1220.5,1121.0 L1237.8,1113.8 L1252.2,1115.2" stroke-width="5"/>
<path d="M1139.9,1201.6 L1154.3,1187.2 L1157.1,1175.7" stroke-width="2.5"/>
<path d="M1151.4,1184.3 L1157.1,1198.7" stroke-width="2.5"/>
<path d="M1433.3,617.3 C1432.3,622.6 1429.9,638.4 1427.5,649.0 C1425.1,659.5 1420.3,675.4 1418.9,680.6" stroke-width="6"/>
<path d="M1424.7,605.8 L1437.6,605.8 L1437.6,617.3 L1424.7,617.3 L1424.7,605.8" stroke-width="3"/>
<path d="M1372.8,749.8 C1369.9,753.1 1360.8,763.2 1355.5,769.9 C1350.2,776.7 1344.5,784.8 1341.1,790.1 C1337.8,795.4 1335.4,794.9 1335.4,801.6 C1335.4,808.3 1339.2,822.7 1341.1,830.4 C1343.0,838.1 1344.5,841.9 1346.9,847.7 C1349.3,853.5 1352.6,860.2 1355.5,865.0 C1358.4,869.8 1362.7,874.6 1364.2,876.5" stroke-width="6"/>
<path d="M1364.2,748.3 L1374.3,746.9 L1377.1,758.4 L1367.1,761.3 L1364.2,748.3" stroke-width="3"/>
<path d="M1344.0,843.4 L1352.1,843.4 L1352.1,850.6 L1344.0,850.6 L1344.0,843.4" stroke-width="3"/>
<path d="M1367.6,880.2 L1372.2,880.2 L1372.2,887.2 L1367.6,887.2 L1367.6,880.2 Z" fill="#000" stroke-width="3"/>
<path d="M1369.1,893.2 L1373.7,893.2 L1373.7,900.1 L1369.1,900.1 L1369.1,893.2 Z" fill="#000" stroke-width="3"/>
<path d="M1370.5,906.2 L1375.1,906.2 L1375.1,913.1 L1370.5,913.1 L1370.5,906.2 Z" fill="#000" stroke-width="3"/>
<path d="M1371.9,919.1 L1376.6,919.1 L1376.6,926.0 L1371.9,926.0 L1371.9,919.1 Z" fill="#000" stroke-width="3"/>
<path d="M1373.4,930.6 L1378.0,930.6 L1378.0,937.6 L1373.4,937.6 L1373.4,930.6 Z" fill="#000" stroke-width="3"/>
<path d="M1376.3,942.2 L1380.9,942.2 L1380.9,949.1 L1376.3,949.1 L1376.3,942.2 Z" fill="#000" stroke-width="3"/>
<path d="M1387.2,954.3 L1390.1,985.9" stroke-width="7"/>
<path d="M1384.3,977.3 L1393.5,977.3 L1393.5,987.4 L1384.3,987.4 L1384.3,977.3" stroke-width="3"/>
<path d="M1401.6,692.2 L1416.0,692.2 L1418.9,709.4 L1404.5,710.9 L1401.6,692.2" stroke-width="3"/>
<path d="M1398.7,711.8 L1404.5,711.8 L1404.5,718.7 L1398.7,718.7 L1398.7,711.8 Z" fill="#000" stroke-width="3"/>
<path d="M1394.4,723.3 L1400.2,723.3 L1400.2,730.2 L1394.4,730.2 L1394.4,723.3 Z" fill="#000" stroke-width="3"/>
<path d="M1387.2,734.8 L1393.0,734.8 L1393.0,741.7 L1387.2,741.7 L1387.2,734.8 Z" fill="#000" stroke-width="3"/>
<path d="M1384.3,660.5 C1390.6,664.3 1413.1,678.7 1421.8,683.5 C1430.4,688.3 1432.8,685.4 1436.2,689.3 C1439.5,693.1 1441.0,700.3 1441.9,706.6 C1442.9,712.8 1443.4,720.5 1441.9,726.7 C1440.5,733.0 1437.6,739.7 1433.3,744.0 C1429.0,748.3 1421.8,751.7 1416.0,752.6 C1410.3,753.6 1405.0,751.2 1398.7,749.8 C1392.5,748.3 1381.9,745.0 1378.6,744.0" stroke-width="3"/>
<path d="M1283.5,651.8 C1285.9,649.0 1291.7,639.4 1297.9,634.6 C1304.2,629.8 1313.3,625.4 1321.0,623.0 C1328.6,620.6 1336.3,618.7 1344.0,620.2 C1351.7,621.6 1361.3,626.9 1367.1,631.7 C1372.8,636.5 1375.7,642.2 1378.6,649.0 C1381.5,655.7 1383.4,665.8 1384.3,672.0 C1385.3,678.2 1384.3,684.0 1384.3,686.4" stroke-width="2.5"/>
<path d="M1295.0,654.7 C1298.4,652.3 1308.5,643.4 1315.2,640.3 C1321.9,637.2 1329.1,635.5 1335.4,636.0 C1341.6,636.5 1348.8,639.6 1352.6,643.2 C1356.5,646.8 1357.5,652.8 1358.4,657.6 C1359.4,662.4 1358.4,669.6 1358.4,672.0" stroke-width="2.5"/>
<path d="M1272.0,680.6 C1272.2,684.0 1271.5,694.6 1273.4,700.8 C1275.4,707.0 1279.0,712.8 1283.5,718.1 C1288.1,723.4 1294.6,728.6 1300.8,732.5 C1307.0,736.3 1314.7,739.4 1321.0,741.1 C1327.2,742.8 1333.4,743.0 1338.2,742.6 C1343.0,742.1 1347.8,739.0 1349.8,738.2" stroke-width="2.5"/>
<path d="M1286.4,686.4 C1287.4,689.3 1289.3,698.9 1292.2,703.7 C1295.0,708.5 1298.9,712.8 1303.7,715.2 C1308.5,717.6 1315.2,719.0 1321.0,718.1 C1326.7,717.1 1335.4,710.9 1338.2,709.4" stroke-width="2.5"/>
<path d="M1349.8,801.6 C1354.6,801.4 1369.9,800.2 1378.6,800.2 C1387.2,800.2 1393.9,800.4 1401.6,801.6 C1409.3,802.8 1417.0,804.0 1424.7,807.4 C1432.3,810.7 1443.9,819.4 1447.7,821.8" stroke-width="2.5"/>
<path d="M1456.3,833.3 C1457.3,836.7 1461.6,848.2 1462.1,853.5 C1462.6,858.7 1460.7,861.1 1459.2,865.0 C1457.8,868.8 1456.8,865.0 1453.5,876.5 C1450.1,888.0 1441.5,924.5 1439.1,934.1" stroke-width="3"/>
<path d="M1404.5,807.4 C1406.4,810.3 1411.7,819.4 1416.0,824.7 C1420.3,829.9 1428.0,833.3 1430.4,839.1 C1432.8,844.8 1430.4,855.9 1430.4,859.2" stroke-width="2.2"/>
<path d="M1338.2,905.3 C1344.0,906.3 1362.3,908.7 1372.8,911.1 C1383.4,913.5 1390.6,915.9 1401.6,919.7 C1412.7,923.5 1430.4,929.8 1439.1,934.1 C1447.7,938.4 1451.1,942.3 1453.5,945.6 C1455.9,949.0 1455.4,952.3 1453.5,954.3 C1451.5,956.2 1446.7,956.7 1441.9,957.1 C1437.1,957.6 1431.4,958.1 1424.7,957.1 C1417.9,956.2 1414.1,954.7 1401.6,951.4 C1389.1,948.0 1358.4,939.4 1349.8,937.0" stroke-width="3"/>
<path d="M1200.0,741.1 C1202.9,740.6 1212.5,736.8 1217.3,738.2 C1222.1,739.7 1226.4,746.9 1228.8,749.8 C1231.2,752.6 1228.8,754.6 1231.7,755.5 C1234.6,756.5 1240.3,756.3 1246.1,755.5 C1251.8,754.8 1262.9,751.9 1266.2,751.2" stroke-width="2.5"/>
<path d="M1217.3,755.5 L1218.7,778.6 L1243.2,787.2 L1286.4,784.3" stroke-width="2.5"/>
<path d="M1269.1,761.3 C1271.5,761.8 1280.2,761.3 1283.5,764.2 C1286.9,767.1 1288.8,772.3 1289.3,778.6 C1289.8,784.8 1288.3,794.9 1286.4,801.6 C1284.5,808.3 1281.6,815.5 1277.8,818.9 C1273.9,822.3 1269.1,819.9 1263.4,821.8 C1257.6,823.7 1246.6,829.0 1243.2,830.4" stroke-width="2.5"/>
<path d="M1234.6,715.2 L1234.6,755.5" stroke-width="2.5"/>
<path d="M1243.2,712.3 L1244.6,755.5" stroke-width="2.5"/>
<path d="M1200.0,784.3 C1204.8,784.8 1219.2,784.3 1228.8,787.2 C1238.4,790.1 1249.9,794.9 1257.6,801.6 C1265.3,808.3 1272.0,823.2 1274.9,827.5" stroke-width="2.5"/>
<path d="M1202.9,801.6 C1205.3,802.6 1210.6,804.5 1217.3,807.4 C1224.0,810.3 1236.0,815.5 1243.2,818.9 C1250.4,822.3 1257.6,826.1 1260.5,827.5" stroke-width="2.2"/>
<path d="M1200.0,847.7 C1202.4,852.5 1208.6,868.3 1214.4,876.5 C1220.2,884.7 1227.4,891.4 1234.6,896.7 C1241.8,901.9 1249.0,904.8 1257.6,908.2 C1266.2,911.5 1275.8,914.9 1286.4,916.8 C1297.0,918.7 1310.4,921.6 1321.0,919.7 C1331.5,917.8 1343.0,910.6 1349.8,905.3 C1356.5,900.0 1359.4,890.9 1361.3,888.0" stroke-width="2.5"/>
<path d="M1208.6,850.6 C1211.0,854.9 1217.3,869.3 1223.0,876.5 C1228.8,883.7 1235.0,889.0 1243.2,893.8 C1251.4,898.6 1262.4,902.4 1272.0,905.3 C1281.6,908.2 1291.2,910.6 1300.8,911.1 C1310.4,911.5 1320.5,911.5 1329.6,908.2 C1338.7,904.8 1351.2,893.8 1355.5,890.9" stroke-width="2.5"/>
<path d="M1257.6,867.9 C1260.0,865.9 1265.8,858.3 1272.0,856.3 C1278.2,854.4 1287.8,855.9 1295.0,856.3 C1302.2,856.8 1310.4,856.3 1315.2,859.2 C1320.0,862.1 1322.9,868.3 1323.8,873.6 C1324.8,878.9 1323.4,887.1 1321.0,890.9 C1318.6,894.7 1315.2,896.7 1309.4,896.7 C1303.7,896.7 1292.6,893.8 1286.4,890.9 C1280.2,888.0 1276.8,880.8 1272.0,879.4 C1267.2,877.9 1260.0,884.2 1257.6,882.3 C1255.2,880.3 1257.6,870.3 1257.6,867.9" stroke-width="2.5"/>
<path d="M1266.2,853.5 C1265.5,855.9 1261.4,863.1 1261.9,867.9 C1262.4,872.7 1267.9,879.9 1269.1,882.3" stroke-width="2.5"/>
<path d="M1286.4,859.2 C1285.9,861.6 1282.6,869.3 1283.5,873.6 C1284.5,877.9 1290.7,883.2 1292.2,885.1" stroke-width="2.5"/>
<path d="M1289.3,741.1 L1312.3,833.3" stroke-width="2.5"/>
<path d="M1315.2,749.8 L1335.4,836.2" stroke-width="2.5"/>
<path d="M1346.9,741.1 L1338.2,830.4" stroke-width="2.5"/>
<path d="M1560.0,649.0 C1557.6,655.2 1549.9,673.0 1545.6,686.4 C1541.3,699.8 1537.0,715.2 1534.1,729.6 C1531.2,744.0 1529.5,756.0 1528.3,772.8 C1527.1,789.6 1526.4,816.0 1526.9,830.4 C1527.4,844.8 1528.6,850.6 1531.2,859.2 C1533.9,867.9 1538.9,876.0 1542.7,882.3 C1546.6,888.5 1549.0,893.3 1554.3,896.7 C1559.5,900.0 1571.1,901.5 1574.4,902.4" stroke-width="2.5"/>
<path d="M1577.3,646.1 C1574.4,652.8 1565.3,672.5 1560.0,686.4 C1554.7,700.3 1549.5,715.2 1545.6,729.6 C1541.8,744.0 1538.7,756.0 1537.0,772.8 C1535.3,789.6 1535.1,816.0 1535.5,830.4 C1536.0,844.8 1537.2,850.6 1539.9,859.2 C1542.5,867.9 1547.5,876.5 1551.4,882.3 C1555.2,888.0 1561.0,891.9 1562.9,893.8" stroke-width="2.5"/>
<path d="M1453.5,876.5 L1548.5,896.7 L1562.9,902.4 L1574.4,903.9 L1603.2,902.4 L1614.7,905.3 L1611.9,916.8 L1617.6,925.5 L1632.0,922.6 L1634.9,916.8" stroke-width="3.5"/>
<path d="M1597.5,709.4 C1600.3,708.0 1609.5,698.4 1614.7,700.8 C1620.0,703.2 1632.0,716.6 1629.1,723.8 C1626.3,731.0 1603.2,744.5 1597.5,744.0 C1591.7,743.5 1594.6,726.7 1594.6,721.0 C1594.6,715.2 1597.0,711.4 1597.5,709.4" stroke-width="3"/>
<path d="M1560.0,749.8 C1562.4,750.2 1569.1,748.8 1574.4,752.6 C1579.7,756.5 1593.6,766.6 1591.7,772.8 C1589.8,779.1 1568.7,790.1 1562.9,790.1 C1557.1,790.1 1557.6,779.5 1557.1,772.8 C1556.7,766.1 1559.5,753.6 1560.0,749.8" stroke-width="3"/>
<path d="M1585.9,798.7 C1588.3,797.3 1595.1,787.2 1600.3,790.1 C1605.6,793.0 1619.5,808.8 1617.6,816.0 C1615.7,823.2 1594.6,833.8 1588.8,833.3 C1583.1,832.8 1583.5,818.9 1583.1,813.1 C1582.6,807.4 1585.5,801.1 1585.9,798.7" stroke-width="3"/>
<path d="M1615.3,718.1 C1615.3,719.9 1614.6,722.0 1613.6,723.5 C1612.5,725.0 1610.7,726.3 1609.0,726.9 C1607.2,727.4 1605.0,727.4 1603.3,726.9 C1601.5,726.3 1599.7,725.0 1598.7,723.5 C1597.6,722.0 1596.9,719.9 1596.9,718.1 C1596.9,716.3 1597.6,714.1 1598.6,712.7 C1599.7,711.2 1601.5,709.9 1603.3,709.3 C1605.0,708.8 1607.2,708.8 1609.0,709.3 C1610.7,709.9 1612.5,711.2 1613.6,712.7 C1614.6,714.1 1615.3,716.3 1615.3,718.1 Z" stroke-width="2.5"/>
<path d="M1573.8,769.9 C1573.8,771.5 1573.2,773.4 1572.3,774.7 C1571.4,775.9 1569.8,777.1 1568.3,777.6 C1566.8,778.1 1564.8,778.1 1563.3,777.6 C1561.8,777.1 1560.2,775.9 1559.3,774.7 C1558.3,773.4 1557.7,771.5 1557.7,769.9 C1557.7,768.4 1558.3,766.5 1559.3,765.2 C1560.2,763.9 1561.8,762.7 1563.3,762.3 C1564.8,761.8 1566.8,761.8 1568.3,762.3 C1569.8,762.7 1571.4,763.9 1572.3,765.2 C1573.2,766.5 1573.8,768.4 1573.8,769.9 Z" stroke-width="2.5"/>
<path d="M1600.3,813.1 C1600.3,814.8 1599.7,816.8 1598.7,818.2 C1597.7,819.6 1596.0,820.8 1594.4,821.4 C1592.8,821.9 1590.6,821.9 1589.0,821.4 C1587.4,820.8 1585.7,819.6 1584.7,818.2 C1583.7,816.8 1583.1,814.8 1583.1,813.1 C1583.1,811.4 1583.7,809.4 1584.7,808.1 C1585.7,806.7 1587.4,805.4 1589.0,804.9 C1590.6,804.4 1592.8,804.4 1594.4,804.9 C1596.0,805.4 1597.7,806.7 1598.7,808.1 C1599.7,809.4 1600.3,811.4 1600.3,813.1 Z" stroke-width="2.5"/>
<path d="M1619.1,653.3 C1618.6,657.4 1609.7,676.3 1616.2,677.8 C1622.7,679.2 1651.0,664.6 1657.9,661.9" stroke-width="2.5"/>
<path d="M1620.5,666.2 L1632.0,663.4 L1640.7,657.6" stroke-width="2.5"/>
<path d="M1583.1,876.5 C1584.0,878.4 1585.9,885.9 1588.8,888.0 C1591.7,890.2 1598.4,889.2 1600.3,889.5" stroke-width="2.5"/>
<path d="M1616.2,863.5 L1626.3,869.3" stroke-width="2.5"/>
<path d="M1332.5,957.1 L1372.8,962.9" stroke-width="2.5"/>
<path d="M1257.6,643.2 L1277.8,600.0" stroke-width="2.5"/>
<path d="M1321.0,614.4 L1329.6,600.0" stroke-width="2.5"/>
<path d="M1349.8,614.4 L1355.5,600.0" stroke-width="2.5"/>
<path d="M1375.7,628.8 L1390.1,600.0" stroke-width="2.5"/>
<path d="M1217.3,600.0 L1200.0,686.4" stroke-width="2.5"/>
<path d="M1200.0,905.3 C1204.8,907.2 1223.0,907.7 1228.8,916.8 C1234.6,925.9 1233.6,952.8 1234.6,960.0" stroke-width="2.5"/>
<path d="M1263.4,922.6 L1269.1,1000.1" stroke-width="2.5"/>
<path d="M1286.4,922.6 L1283.5,1000.1" stroke-width="2.5"/>
<path d="M1321.0,911.1 L1318.1,1000.1" stroke-width="2.5"/>
<path d="M1329.6,911.1 L1326.7,1000.1" stroke-width="2.5"/>
<path d="M1381.3,949.0 C1383.1,951.0 1390.5,955.9 1391.7,961.1 C1392.8,966.3 1388.8,976.9 1388.2,980.1" stroke-width="7"/>
<path d="M1383.1,978.4 L1396.9,979.2 L1397.7,987.0 L1383.9,987.0 L1383.1,978.4" stroke-width="3"/>
<path d="M1390.0,987.0 L1386.5,1002.6 L1383.1,1051.0" stroke-width="8"/>
<path d="M1350.2,936.9 C1353.7,938.1 1364.6,941.8 1371.0,943.8 C1377.3,945.8 1379.6,947.3 1388.2,949.0 C1396.9,950.7 1413.6,953.0 1422.8,954.2 C1432.0,955.3 1438.4,956.5 1443.5,955.9 C1448.7,955.3 1452.2,952.8 1453.9,950.7 C1455.6,948.7 1455.3,946.4 1453.9,943.8 C1452.5,941.2 1447.6,937.5 1445.3,935.2 C1443.0,932.9 1440.9,930.9 1440.1,930.0" stroke-width="4"/>
<path d="M1377.0,936.9 L1386.5,936.9 L1386.5,943.8 L1377.9,943.8 Z" fill="#000" stroke-width="3"/>
<path d="M1332.9,957.6 L1384.8,961.1" stroke-width="3"/>
<path d="M1332.9,943.8 L1331.2,985.3" stroke-width="3"/>
<path d="M1317.4,949.0 L1315.7,985.3" stroke-width="3"/>
<path d="M1422.8,959.4 L1402.1,995.7" stroke-width="5"/>
<path d="M1364.0,1004.3 L1388.2,1006.0" stroke-width="3"/>
<path d="M1388.2,1014.7 L1436.6,1032.0 L1441.8,1033.7 L1457.4,1054.4 L1474.6,1080.3 L1491.9,1100.2" stroke-width="5"/>
<path d="M1319.1,1040.6 L1357.1,1054.4 L1393.4,1070.0 L1402.1,1078.6 L1433.2,1120.1 L1447.0,1132.2" stroke-width="5"/>
<path d="M1447.0,1132.2 L1455.6,1125.3 L1491.9,1100.2" stroke-width="4"/>
<path d="M1331.2,1032.0 L1376.1,1047.5" stroke-width="4"/>
<path d="M1396.9,1028.5 L1431.4,1040.6 L1448.7,1066.5 L1466.0,1090.7 L1481.6,1109.7" stroke-width="3"/>
<path d="M1409.0,1057.9 L1429.7,1047.5" stroke-width="3"/>
<path d="M1364.0,1004.3 L1374.4,1007.8" stroke-width="3"/>
<path d="M1377.9,1030.2 C1377.9,1031.0 1377.6,1031.9 1377.2,1032.5 C1376.8,1033.1 1376.1,1033.6 1375.5,1033.8 C1374.8,1034.1 1374.0,1034.1 1373.3,1033.8 C1372.7,1033.6 1372.0,1033.1 1371.6,1032.5 C1371.2,1031.9 1371.0,1031.0 1371.0,1030.2 C1371.0,1029.5 1371.2,1028.6 1371.6,1028.0 C1372.0,1027.4 1372.7,1026.8 1373.3,1026.6 C1374.0,1026.4 1374.8,1026.4 1375.5,1026.6 C1376.1,1026.8 1376.8,1027.4 1377.2,1028.0 C1377.6,1028.6 1377.9,1029.5 1377.9,1030.2 Z" stroke-width="3.5"/>
<path d="M1412.4,1042.3 C1412.4,1043.1 1412.0,1044.0 1411.3,1044.6 C1410.6,1045.2 1409.4,1045.7 1408.3,1045.9 C1407.1,1046.2 1405.6,1046.2 1404.5,1045.9 C1403.4,1045.7 1402.2,1045.2 1401.5,1044.6 C1400.8,1044.0 1400.3,1043.1 1400.3,1042.3 C1400.3,1041.6 1400.8,1040.7 1401.5,1040.1 C1402.2,1039.5 1403.4,1038.9 1404.5,1038.7 C1405.6,1038.5 1407.1,1038.5 1408.3,1038.7 C1409.4,1038.9 1410.6,1039.5 1411.3,1040.1 C1412.0,1040.7 1412.4,1041.6 1412.4,1042.3 Z" stroke-width="3.5"/>
<path d="M1447.3,1075.2 C1447.3,1076.0 1447.1,1077.0 1446.6,1077.7 C1446.2,1078.4 1445.4,1079.0 1444.7,1079.3 C1444.0,1079.5 1443.1,1079.5 1442.4,1079.3 C1441.7,1079.0 1440.9,1078.4 1440.5,1077.7 C1440.0,1077.0 1439.7,1076.0 1439.7,1075.2 C1439.7,1074.3 1440.0,1073.3 1440.5,1072.6 C1440.9,1071.9 1441.7,1071.3 1442.4,1071.0 C1443.1,1070.8 1444.0,1070.8 1444.7,1071.0 C1445.4,1071.3 1446.2,1071.9 1446.6,1072.6 C1447.1,1073.3 1447.3,1074.3 1447.3,1075.2 Z" stroke-width="3.5"/>
<path d="M1460.0,1089.8 C1460.0,1090.9 1459.6,1092.2 1459.0,1093.1 C1458.4,1094.0 1457.3,1094.8 1456.4,1095.1 C1455.4,1095.4 1454.1,1095.4 1453.2,1095.1 C1452.2,1094.8 1451.2,1094.0 1450.6,1093.1 C1450.0,1092.2 1449.6,1090.9 1449.6,1089.8 C1449.6,1088.8 1450.0,1087.5 1450.6,1086.6 C1451.2,1085.7 1452.2,1084.9 1453.2,1084.6 C1454.1,1084.2 1455.4,1084.2 1456.4,1084.6 C1457.3,1084.9 1458.4,1085.7 1459.0,1086.6 C1459.6,1087.5 1460.0,1088.8 1460.0,1089.8 Z" stroke-width="3.5"/>
<path d="M1472.6,1104.5 C1472.6,1105.5 1472.2,1106.8 1471.6,1107.6 C1471.1,1108.4 1470.1,1109.1 1469.2,1109.5 C1468.3,1109.8 1467.1,1109.8 1466.2,1109.5 C1465.3,1109.1 1464.4,1108.4 1463.8,1107.6 C1463.3,1106.8 1462.9,1105.5 1462.9,1104.5 C1462.9,1103.5 1463.3,1102.3 1463.8,1101.5 C1464.4,1100.7 1465.3,1099.9 1466.2,1099.6 C1467.1,1099.3 1468.3,1099.3 1469.2,1099.6 C1470.1,1099.9 1471.1,1100.7 1471.6,1101.5 C1472.2,1102.3 1472.6,1103.5 1472.6,1104.5 Z" stroke-width="3.5"/>
<path d="M1422.8,1054.4 C1422.1,1055.6 1418.8,1059.0 1418.5,1061.3 C1418.2,1063.6 1419.5,1066.7 1421.1,1068.2 C1422.7,1069.8 1426.8,1070.4 1428.0,1070.8" stroke-width="3.5"/>
<path d="M1341.6,1023.3 C1343.6,1023.9 1350.2,1027.1 1353.7,1026.8 C1357.1,1026.5 1361.2,1023.5 1362.3,1021.6 C1363.5,1019.7 1362.0,1016.7 1360.6,1015.5 C1359.2,1014.4 1354.8,1014.8 1353.7,1014.7" stroke-width="3.5"/>
<path d="M1433.2,1121.8 C1433.2,1127.3 1432.6,1144.0 1433.2,1154.6 C1433.7,1165.3 1434.9,1178.3 1436.6,1185.7 C1438.4,1193.2 1440.9,1196.1 1443.5,1199.6 C1446.1,1203.0 1449.3,1205.9 1452.2,1206.5 C1455.1,1207.1 1457.4,1205.9 1460.8,1203.0 C1464.3,1200.1 1469.5,1194.4 1472.9,1189.2 C1476.4,1184.0 1479.8,1180.6 1481.6,1171.9 C1483.3,1163.3 1483.3,1147.7 1483.3,1137.4 C1483.3,1127.0 1481.8,1114.3 1481.6,1109.7" stroke-width="5"/>
<path d="M1447.0,1133.9 L1447.9,1178.8" stroke-width="3"/>
<path d="M1250.0,1118.4 L1267.3,1128.7 L1274.2,1133.9 L1274.2,1118.4 L1289.7,1109.7 L1301.8,1102.8 L1315.7,1104.5 L1322.6,1095.9" stroke-width="5"/>
<path d="M1256.9,1092.4 L1253.5,1125.3 L1254.3,1171.9 L1262.1,1177.1 L1262.1,1194.4 L1250.0,1199.6" stroke-width="5"/>
<path d="M1267.3,968.0 L1258.6,1064.8" stroke-width="3"/>
<path d="M1284.6,961.1 L1275.9,1051.0" stroke-width="3"/>
<path d="M1307.0,1051.0 L1301.8,1097.6" stroke-width="3"/>
<path d="M1320.8,1044.0 L1319.1,1104.5" stroke-width="4"/>
<path d="M1319.1,1102.8 L1357.1,1059.6" stroke-width="6"/>
<path d="M1326.0,1089.0 L1371.0,1082.1 L1377.9,1071.7" stroke-width="3"/>
<path d="M1326.0,1094.2 L1372.7,1087.2 L1379.6,1073.4" stroke-width="2.5"/>
<path d="M1281.1,1011.2 L1310.5,999.1 L1315.7,987.0 L1334.7,992.2" stroke-width="3.5"/>
<path d="M1324.3,997.4 L1326.0,1011.2" stroke-width="3"/>
<path d="M1308.8,1012.9 L1307.9,1026.8" stroke-width="3"/>
<path d="M1274.2,1076.9 L1272.5,1111.4" stroke-width="3"/>
<path d="M1466.8,575.3 C1464.5,575.0 1457.2,573.1 1453.0,573.5 C1448.8,573.8 1444.9,575.0 1441.5,577.6 C1438.0,580.2 1434.4,584.3 1432.3,589.1 C1430.1,593.9 1429.4,603.5 1428.8,606.4" stroke-width="7"/>
<path d="M1462.2,579.9 L1471.4,579.9 L1471.4,589.1 L1463.4,590.3 L1462.2,579.9" stroke-width="3"/>
<path d="M1471.4,585.7 C1476.8,586.6 1494.1,590.1 1503.7,591.4 C1513.3,592.8 1519.4,594.5 1529.0,593.7 C1538.6,593.0 1554.4,588.4 1561.3,586.8 C1568.2,585.3 1569.0,584.9 1570.5,584.5" stroke-width="6"/>
<path d="M1575.1,575.3 C1576.3,574.8 1579.3,572.9 1582.0,572.5 C1584.7,572.2 1588.9,572.3 1591.2,573.0 C1593.5,573.6 1595.1,572.0 1595.9,576.5 C1596.6,580.9 1597.0,595.1 1595.9,599.5 C1594.7,603.9 1591.6,602.6 1588.9,602.9 C1586.3,603.3 1582.0,602.6 1579.7,601.8 C1577.4,601.0 1575.9,602.8 1575.1,598.3 C1574.3,593.9 1575.1,579.1 1575.1,575.3" stroke-width="3.5"/>
<path d="M1575.1,578.8 C1576.8,579.1 1582.0,581.1 1585.5,581.1 C1588.9,581.1 1594.1,579.1 1595.9,578.8" stroke-width="3"/>
<path d="M1565.9,600.6 C1565.7,601.6 1562.1,605.1 1564.7,606.4 C1567.4,607.7 1577.6,608.9 1582.0,608.7 C1586.4,608.5 1589.7,605.8 1591.2,605.3" stroke-width="3.5"/>
<path d="M1582.0,608.7 L1584.3,616.8" stroke-width="3"/>
<path d="M1595.9,586.8 C1597.8,586.4 1603.5,584.5 1607.4,584.5 C1611.2,584.5 1615.1,586.1 1618.9,586.8 C1622.7,587.6 1626.6,588.0 1630.4,589.1 C1634.3,590.3 1638.9,592.6 1641.9,593.7 C1645.0,594.9 1645.0,595.3 1648.8,596.0 C1652.7,596.8 1659.2,597.8 1665.0,598.3 C1670.7,598.9 1677.6,599.3 1683.4,599.5 C1689.2,599.7 1694.9,599.9 1699.5,599.5 C1704.1,599.1 1709.1,597.6 1711.1,597.2" stroke-width="4"/>
<path d="M1600.5,589.1 L1602.8,612.2" stroke-width="4"/>
<path d="M1606.2,591.4 L1605.1,612.2" stroke-width="3"/>
<path d="M1607.4,607.6 C1609.3,606.6 1615.1,603.3 1618.9,601.8 C1622.7,600.3 1625.8,599.3 1630.4,598.3 C1635.0,597.4 1643.9,596.4 1646.5,596.0" stroke-width="2.5"/>
<path d="M1651.2,617.9 C1652.3,617.0 1654.6,613.3 1658.1,612.2 C1661.5,611.0 1666.9,610.8 1671.9,611.0 C1676.9,611.2 1684.2,612.2 1688.0,613.3 C1691.9,614.5 1695.3,616.6 1694.9,617.9 C1694.5,619.3 1689.6,620.6 1685.7,621.4 C1681.9,622.2 1676.5,622.5 1671.9,622.5 C1667.3,622.5 1661.5,622.2 1658.1,621.4 C1654.6,620.6 1652.3,618.5 1651.2,617.9" stroke-width="3"/>
<path d="M1662.7,612.2 C1662.7,610.4 1661.1,603.9 1662.7,601.8 C1664.2,599.7 1668.6,599.5 1671.9,599.5 C1675.2,599.5 1680.3,599.7 1682.3,601.8 C1684.2,603.9 1683.2,610.4 1683.4,612.2" stroke-width="3"/>
<path d="M1706.5,604.1 C1706.6,602.0 1705.7,594.0 1707.6,591.4 C1709.5,588.9 1714.3,588.7 1718.0,588.7 C1721.6,588.7 1727.2,588.9 1729.5,591.4 C1731.8,594.0 1731.4,602.0 1731.8,604.1" stroke-width="3.5"/>
<path d="M1697.2,600.6 L1706.5,599.5" stroke-width="4"/>
<path d="M1731.8,605.3 L1743.3,605.7" stroke-width="4"/>
<path d="M1508.3,563.8 C1510.2,564.5 1514.8,566.5 1519.8,568.4 C1524.8,570.3 1530.6,573.3 1538.2,575.3 C1545.9,577.3 1561.3,579.5 1565.9,580.4" stroke-width="3"/>
<path d="M1517.5,552.3 L1518.7,566.1" stroke-width="4"/>
<path d="M1494.5,569.5 L1508.3,568.8" stroke-width="3"/>
<path d="M1400.0,533.8 C1406.1,535.4 1425.3,543.0 1436.9,543.0 C1448.4,543.0 1463.0,537.7 1469.1,533.8 C1475.3,530.0 1473.0,522.3 1473.7,520.0" stroke-width="3"/>
<path d="M1439.2,561.5 C1444.2,559.6 1457.6,553.8 1469.1,550.0 C1480.6,546.1 1500.6,541.1 1508.3,538.4 C1516.0,535.7 1514.4,536.9 1515.2,533.8 C1516.0,530.8 1513.3,522.3 1512.9,520.0" stroke-width="3.5"/>
<path d="M1400.0,561.5 L1427.6,568.4" stroke-width="3"/>
<path d="M1400.0,575.3 L1423.0,575.3" stroke-width="3"/>
<path d="M1088.5,652.7 L1109.2,656.6 L1135.1,667.0 L1163.6,682.5 L1083.3,694.2" stroke-width="3"/>
<path d="M1088.5,652.7 C1087.4,659.6 1083.7,675.8 1082.0,694.2 C1080.3,712.6 1079.0,741.1 1078.1,762.9 C1077.2,784.7 1077.0,814.7 1076.8,825.1" stroke-width="3"/>
<path d="M1111.8,560.7 C1117.8,561.6 1135.6,565.4 1148.1,565.9 C1160.6,566.4 1175.5,565.3 1187.0,563.8 C1198.4,562.3 1211.8,558.0 1216.8,556.8" stroke-width="3"/>
<path d="M1209.0,648.8 C1207.5,659.2 1202.1,692.0 1199.9,711.0 C1197.8,730.1 1195.4,743.4 1196.0,762.9 C1196.7,782.3 1202.5,816.9 1203.8,827.7" stroke-width="3"/>
<path d="M1251.8,663.1 C1250.9,671.1 1247.9,695.3 1246.6,711.0 C1245.3,726.8 1244.4,749.9 1244.0,757.7" stroke-width="2.5"/>
<path d="M1171.4,814.7 L1158.4,830.3" stroke-width="3"/>
<path d="M1285.5,579.0 L1277.4,600.2" stroke-width="2.5"/>
<path d="M1337.9,579.0 L1329.6,600.0" stroke-width="2.5"/>
<path d="M1370.2,579.0 L1358.1,600.0" stroke-width="2.5"/>
<path d="M1404.4,579.0 L1392.3,600.0" stroke-width="2.5"/>
<path d="M1269.4,506.5 C1266.7,508.8 1258.3,514.5 1253.2,520.6 C1248.2,526.6 1244.2,533.0 1239.1,542.7 C1234.1,552.5 1225.7,573.0 1223.0,579.0" stroke-width="2.5"/>
<path d="M1233.1,587.1 C1231.0,591.1 1224.3,603.9 1221.0,611.3 C1217.6,618.7 1214.2,628.1 1212.9,631.5" stroke-width="2.5"/>
<path d="M704.5,1537.0 L1442.0,2598.0" stroke-width="2"/>
<path d="M1448.0,2607.0 L1452.0,2613.0" stroke-width="2"/>
<path d="M1458.0,2621.0 L1742.0,3028.5" stroke-width="2"/>
<path d="M1748.0,3037.0 L1752.0,3043.0" stroke-width="2"/>
<path d="M1761.0,3056.0 L1839.7,3168.5" stroke-width="2"/>
<path d="M1807.5,3154.0 L1934.4,3154.0" stroke-width="2"/>
<path d="M1913.0,3128.7 L1906.0,3172.0" stroke-width="2.5"/>
<path d="M1498.5,2009.0 L1595.0,2643.0 L1747.0,2937.0 L1782.0,2937.0" stroke-width="3"/>
<path d="M728.9,1543.8 L609.6,1621.6" stroke-width="2"/>
<path d="M601.0,1626.8 L594.1,1630.9" stroke-width="2"/>
<path d="M582.0,1638.9 L549.1,1660.7" stroke-width="2"/>
<path d="M317.5,1785.8 C312.3,1789.2 297.4,1799.0 286.4,1806.5 C275.5,1814.0 260.8,1822.7 251.8,1830.7 C242.9,1838.8 236.9,1844.6 232.8,1854.9 C228.8,1865.3 227.7,1882.0 227.7,1892.9 C227.7,1903.9 229.4,1912.5 232.8,1920.6 C236.3,1928.7 241.2,1935.9 248.4,1941.3 C255.6,1946.8 266.8,1950.6 276.0,1953.4 C285.3,1956.3 299.1,1957.8 303.7,1958.6" stroke-width="3.5"/>
<path d="M303.7,1958.6 L735.8,2038.1" stroke-width="3.5"/>
<path d="M341.7,1816.9 C335.4,1820.4 314.6,1830.7 303.7,1837.6 C292.8,1844.6 282.4,1850.9 276.0,1858.4 C269.7,1865.9 267.1,1875.7 265.7,1882.6 C264.2,1889.5 265.7,1895.2 267.4,1899.9 C269.1,1904.5 271.7,1907.9 276.0,1910.2 C280.4,1912.5 287.0,1912.5 293.3,1913.7 C299.7,1914.9 310.6,1916.9 314.1,1917.5" stroke-width="3.5"/>
<path d="M314.1,1917.5 L746.1,1998.4" stroke-width="3.5"/>
<path d="M334.8,1797.0 C336.0,1798.6 337.0,1800.5 337.8,1802.2 C338.5,1803.9 339.1,1805.7 339.3,1807.3 C339.5,1808.8 339.5,1810.3 339.2,1811.4 C338.9,1812.6 338.3,1813.5 337.5,1814.1 C336.7,1814.6 335.6,1814.9 334.4,1814.8 C333.3,1814.7 331.9,1814.2 330.5,1813.4 C329.1,1812.7 327.6,1811.5 326.2,1810.3 C324.9,1809.0 323.5,1807.3 322.4,1805.7 C321.2,1804.1 320.2,1802.2 319.4,1800.5 C318.7,1798.8 318.1,1797.0 317.9,1795.4 C317.6,1793.9 317.7,1792.4 318.0,1791.2 C318.3,1790.1 318.9,1789.2 319.7,1788.6 C320.5,1788.0 321.6,1787.8 322.7,1787.9 C323.9,1788.0 325.3,1788.5 326.7,1789.3 C328.0,1790.0 329.6,1791.2 330.9,1792.4 C332.3,1793.7 333.7,1795.4 334.8,1797.0 Z" stroke-width="3"/>
<path d="M751.6,2016.7 C751.3,2018.4 750.8,2020.1 750.2,2021.6 C749.7,2023.1 748.9,2024.5 748.2,2025.6 C747.4,2026.6 746.5,2027.5 745.7,2028.0 C744.9,2028.5 744.0,2028.7 743.2,2028.6 C742.4,2028.5 741.6,2028.0 741.0,2027.2 C740.4,2026.4 739.9,2025.3 739.5,2024.0 C739.2,2022.8 739.0,2021.2 738.9,2019.6 C738.9,2018.0 739.0,2016.2 739.3,2014.6 C739.6,2012.9 740.1,2011.2 740.7,2009.7 C741.2,2008.2 742.0,2006.8 742.7,2005.7 C743.5,2004.7 744.4,2003.8 745.2,2003.3 C746.1,2002.8 747.0,2002.6 747.7,2002.7 C748.5,2002.9 749.3,2003.4 749.9,2004.1 C750.5,2004.9 751.1,2006.0 751.4,2007.3 C751.7,2008.5 752.0,2010.1 752.0,2011.7 C752.0,2013.3 751.9,2015.1 751.6,2016.7 Z" stroke-width="3"/>
<path d="M545.7,2007.0 L559.5,1994.9 L618.3,2003.6 L620.0,2013.9 L607.9,2022.6 L549.1,2010.5 L545.7,2007.0" stroke-width="3"/>
<path d="M561.2,1996.6 L566.4,2008.7 L611.3,2015.7" stroke-width="2"/>
<path d="M538.7,1910.2 L542.2,1958.6" stroke-width="2.5"/>
<path d="M545.7,1910.2 C548.0,1909.4 553.7,1905.3 559.5,1905.0 C565.2,1904.8 574.2,1905.6 580.2,1908.5 C586.3,1911.4 592.0,1912.2 595.8,1922.3 C599.5,1932.4 601.5,1961.2 602.7,1969.0" stroke-width="3"/>
<path d="M545.7,1910.2 L549.1,1958.6" stroke-width="2.5"/>
<path d="M582.2,1934.1 C581.9,1935.2 581.3,1936.3 580.5,1937.2 C579.6,1938.1 578.4,1938.8 577.2,1939.3 C575.9,1939.8 574.4,1940.1 572.9,1940.2 C571.4,1940.2 569.7,1940.0 568.2,1939.6 C566.7,1939.2 565.2,1938.6 563.9,1937.8 C562.7,1937.0 561.5,1936.0 560.6,1934.9 C559.8,1933.8 559.2,1932.6 558.9,1931.4 C558.6,1930.2 558.6,1928.9 558.9,1927.8 C559.2,1926.7 559.8,1925.6 560.6,1924.8 C561.5,1923.9 562.7,1923.1 563.9,1922.6 C565.2,1922.1 566.7,1921.8 568.2,1921.7 C569.7,1921.7 571.4,1921.9 572.9,1922.3 C574.4,1922.7 575.9,1923.4 577.2,1924.1 C578.4,1924.9 579.6,1926.0 580.5,1927.0 C581.3,1928.1 581.9,1929.4 582.2,1930.5 C582.5,1931.7 582.5,1933.0 582.2,1934.1 Z" stroke-width="2.5"/>
<path d="M573.1,1933.0 C573.0,1933.4 572.8,1933.8 572.4,1934.2 C572.1,1934.5 571.6,1934.8 571.0,1935.0 C570.5,1935.1 569.9,1935.3 569.2,1935.3 C568.6,1935.3 567.9,1935.2 567.2,1935.0 C566.6,1934.8 565.9,1934.6 565.4,1934.2 C564.8,1933.9 564.3,1933.5 564.0,1933.1 C563.6,1932.6 563.3,1932.2 563.2,1931.7 C563.0,1931.2 563.0,1930.7 563.1,1930.3 C563.2,1929.9 563.5,1929.5 563.8,1929.1 C564.2,1928.8 564.7,1928.5 565.2,1928.3 C565.8,1928.2 566.4,1928.1 567.0,1928.1 C567.7,1928.1 568.4,1928.1 569.0,1928.3 C569.7,1928.5 570.3,1928.8 570.9,1929.1 C571.4,1929.4 571.9,1929.8 572.3,1930.2 C572.7,1930.7 573.0,1931.2 573.1,1931.6 C573.2,1932.1 573.3,1932.6 573.1,1933.0 Z" stroke-width="2"/>
<path d="M488.6,1626.8 L497.3,1620.6 L537.0,1622.6 L552.6,1644.1 L573.3,1678.6 L566.4,1718.4 L521.5,1723.6 L511.1,1713.2 L480.0,1661.4 L488.6,1626.8" stroke-width="3"/>
<path d="M551.3,1666.4 C552.9,1670.7 554.1,1675.6 554.6,1679.9 C555.1,1684.3 555.0,1688.8 554.4,1692.6 C553.8,1696.3 552.5,1699.7 550.8,1702.2 C549.1,1704.7 546.7,1706.7 544.2,1707.6 C541.8,1708.5 538.7,1708.5 535.8,1707.7 C532.9,1706.8 529.7,1705.0 526.8,1702.6 C524.0,1700.1 521.0,1696.7 518.6,1693.1 C516.2,1689.4 513.9,1684.9 512.3,1680.5 C510.8,1676.2 509.6,1671.3 509.1,1667.0 C508.6,1662.6 508.6,1658.1 509.3,1654.3 C509.9,1650.6 511.2,1647.2 512.9,1644.7 C514.6,1642.2 516.9,1640.2 519.4,1639.3 C521.9,1638.4 524.9,1638.4 527.8,1639.2 C530.7,1640.1 534.0,1641.9 536.8,1644.3 C539.7,1646.8 542.7,1650.2 545.1,1653.8 C547.5,1657.5 549.7,1662.0 551.3,1666.4 Z" stroke-width="2.5"/>
<path d="M548.2,1669.9 C549.5,1673.4 550.4,1677.3 550.9,1680.8 C551.4,1684.3 551.4,1688.0 551.0,1690.9 C550.6,1693.9 549.7,1696.7 548.4,1698.6 C547.2,1700.6 545.5,1702.1 543.6,1702.8 C541.7,1703.5 539.5,1703.4 537.3,1702.7 C535.0,1702.0 532.6,1700.5 530.3,1698.5 C528.1,1696.5 525.8,1693.7 523.9,1690.7 C522.0,1687.7 520.2,1684.0 518.9,1680.5 C517.7,1677.0 516.7,1673.0 516.2,1669.5 C515.7,1666.0 515.7,1662.4 516.1,1659.4 C516.5,1656.4 517.5,1653.7 518.7,1651.7 C519.9,1649.7 521.7,1648.2 523.5,1647.6 C525.4,1646.9 527.7,1646.9 529.9,1647.6 C532.1,1648.4 534.6,1649.9 536.8,1651.9 C539.0,1653.9 541.3,1656.7 543.2,1659.7 C545.1,1662.7 546.9,1666.3 548.2,1669.9 Z" stroke-width="2"/>
<path d="M546.7,1674.5 C547.7,1677.4 548.5,1680.6 549.0,1683.5 C549.4,1686.4 549.5,1689.4 549.2,1691.8 C548.9,1694.2 548.2,1696.5 547.3,1698.1 C546.4,1699.7 545.0,1700.8 543.6,1701.4 C542.1,1701.9 540.3,1701.8 538.6,1701.2 C536.8,1700.6 534.9,1699.3 533.1,1697.6 C531.3,1696.0 529.5,1693.6 528.0,1691.2 C526.4,1688.7 525.0,1685.7 523.9,1682.8 C522.9,1679.9 522.0,1676.6 521.6,1673.8 C521.2,1670.9 521.1,1667.9 521.4,1665.5 C521.7,1663.1 522.4,1660.8 523.3,1659.2 C524.2,1657.6 525.6,1656.4 527.0,1655.9 C528.5,1655.4 530.3,1655.4 532.0,1656.0 C533.7,1656.7 535.7,1658.0 537.5,1659.6 C539.3,1661.3 541.1,1663.6 542.6,1666.1 C544.2,1668.6 545.6,1671.6 546.7,1674.5 Z" stroke-width="2"/>
<path d="M486.9,1633.7 C486.3,1638.9 481.7,1655.0 483.4,1664.8 C485.2,1674.6 490.9,1683.0 497.3,1692.5 C503.6,1702.0 517.4,1716.9 521.5,1721.8" stroke-width="2"/>
<path d="M523.2,1721.8 L562.9,1720.1" stroke-width="2"/>
<path d="M419.5,1695.9 C419.8,1692.2 417.5,1679.8 421.2,1673.4 C425.0,1667.1 433.9,1663.4 442.0,1657.9 C450.0,1652.4 462.7,1643.6 469.6,1640.6 C476.5,1637.6 481.1,1640.0 483.4,1639.9" stroke-width="3"/>
<path d="M421.2,1702.8 C421.8,1706.3 421.2,1716.7 424.7,1723.6 C428.1,1730.5 435.6,1738.5 442.0,1744.3 C448.3,1750.1 455.8,1754.1 462.7,1758.1 C469.6,1762.2 477.7,1767.4 483.4,1768.5 C489.2,1769.7 493.8,1767.4 497.3,1765.1 C500.7,1762.7 503.0,1756.4 504.2,1754.7" stroke-width="3"/>
<path d="M421.2,1699.4 L462.7,1678.6 L493.8,1737.4 L531.8,1733.9" stroke-width="2"/>
<path d="M462.7,1678.6 L466.2,1644.1" stroke-width="2"/>
<path d="M469.6,1644.1 C470.2,1649.3 470.2,1664.2 473.1,1675.2 C476.0,1686.1 481.7,1700.0 486.9,1709.7 C492.1,1719.5 501.3,1729.9 504.2,1733.9" stroke-width="2"/>
<path d="M462.7,1758.1 L493.8,1740.9 L511.1,1737.4" stroke-width="2"/>
<path d="M495.5,1749.5 L502.5,1754.7" stroke-width="3"/>
<path d="M362.5,1756.4 L393.6,1737.4 L421.2,1716.7" stroke-width="3"/>
<path d="M379.7,1785.8 L407.4,1772.0 L442.0,1754.7" stroke-width="3"/>
<path d="M379.9,1767.0 C381.1,1768.7 382.2,1770.7 383.0,1772.6 C383.8,1774.4 384.3,1776.4 384.6,1778.1 C384.8,1779.7 384.7,1781.4 384.3,1782.6 C384.0,1783.9 383.3,1784.9 382.3,1785.6 C381.4,1786.2 380.2,1786.5 378.9,1786.4 C377.6,1786.3 376.1,1785.9 374.6,1785.1 C373.1,1784.3 371.4,1783.1 369.9,1781.7 C368.5,1780.4 367.0,1778.7 365.8,1776.9 C364.5,1775.2 363.4,1773.2 362.6,1771.3 C361.9,1769.5 361.3,1767.5 361.1,1765.9 C360.9,1764.2 361.0,1762.6 361.3,1761.3 C361.7,1760.1 362.4,1759.0 363.3,1758.4 C364.2,1757.7 365.4,1757.4 366.7,1757.5 C368.0,1757.6 369.6,1758.1 371.1,1758.8 C372.6,1759.6 374.3,1760.8 375.7,1762.2 C377.2,1763.5 378.7,1765.3 379.9,1767.0 Z" stroke-width="3"/>
<path d="M407.4,1733.9 C408.0,1736.8 408.0,1747.2 410.9,1751.2 C413.7,1755.3 422.4,1757.0 424.7,1758.1" stroke-width="2"/>
<path d="M723.7,1618.1 L766.9,1670.0" stroke-width="2.8"/>
<path d="M800.7,2009.4 C808.2,2010.8 829.5,2015.1 845.7,2018.0 C861.8,2020.9 882.0,2023.8 897.5,2026.7 C913.1,2029.5 927.5,2031.0 939.0,2035.3 C950.5,2039.6 959.2,2045.1 966.6,2052.6 C974.1,2060.1 980.2,2070.4 983.9,2080.2 C987.7,2090.0 989.7,2101.6 989.1,2111.4 C988.5,2121.1 985.9,2130.4 980.5,2139.0 C975.0,2147.6 967.2,2154.0 956.3,2163.2 C945.3,2172.4 927.5,2184.5 914.8,2194.3 C902.1,2204.1 888.9,2213.3 880.2,2222.0 C871.6,2230.6 866.4,2239.8 862.9,2246.2 C859.5,2252.5 860.1,2257.7 859.5,2260.0" stroke-width="3.5"/>
<path d="M797.3,2050.9 C805.3,2052.0 829.0,2055.2 845.7,2057.8 C862.4,2060.4 884.3,2063.8 897.5,2066.4 C910.8,2069.0 917.7,2069.9 925.2,2073.3 C932.7,2076.8 939.0,2082.0 942.4,2087.2 C945.9,2092.3 946.5,2098.1 945.9,2104.4 C945.3,2110.8 944.2,2118.3 939.0,2125.2 C933.8,2132.1 924.6,2137.9 914.8,2145.9 C905.0,2154.0 891.8,2163.8 880.2,2173.6 C868.7,2183.4 854.9,2195.5 845.7,2204.7 C836.4,2213.9 829.5,2222.0 824.9,2228.9 C820.3,2235.8 819.2,2243.3 818.0,2246.2" stroke-width="3.5"/>
<path d="M806.2,2032.5 C806.0,2035.0 805.6,2037.7 805.0,2040.0 C804.5,2042.4 803.8,2044.7 803.0,2046.4 C802.2,2048.1 801.3,2049.6 800.4,2050.5 C799.5,2051.4 798.5,2051.9 797.6,2051.8 C796.7,2051.7 795.8,2051.1 795.1,2050.1 C794.4,2049.0 793.7,2047.4 793.2,2045.5 C792.8,2043.7 792.4,2041.3 792.3,2038.9 C792.2,2036.6 792.2,2033.8 792.5,2031.2 C792.7,2028.7 793.1,2026.0 793.6,2023.6 C794.2,2021.3 794.9,2019.0 795.7,2017.3 C796.5,2015.6 797.4,2014.1 798.3,2013.2 C799.2,2012.3 800.2,2011.8 801.1,2011.9 C802.0,2012.0 802.9,2012.6 803.6,2013.6 C804.3,2014.7 805.0,2016.3 805.4,2018.2 C805.9,2020.0 806.2,2022.4 806.4,2024.8 C806.5,2027.1 806.5,2029.9 806.2,2032.5 Z" stroke-width="3"/>
<path d="M854.3,2261.1 C853.7,2262.2 852.7,2263.2 851.4,2263.9 C850.1,2264.5 848.2,2264.9 846.3,2265.0 C844.4,2265.0 842.1,2264.8 839.8,2264.3 C837.6,2263.7 835.1,2262.9 832.9,2261.8 C830.7,2260.8 828.5,2259.5 826.6,2258.1 C824.8,2256.7 823.1,2255.1 821.9,2253.6 C820.8,2252.1 819.9,2250.4 819.5,2249.0 C819.2,2247.6 819.3,2246.2 819.8,2245.0 C820.3,2243.9 821.3,2242.9 822.7,2242.3 C824.0,2241.7 825.8,2241.3 827.7,2241.2 C829.7,2241.1 832.0,2241.4 834.2,2241.9 C836.4,2242.4 838.9,2243.3 841.1,2244.3 C843.3,2245.3 845.6,2246.7 847.4,2248.0 C849.2,2249.4 850.9,2251.0 852.1,2252.6 C853.3,2254.1 854.1,2255.7 854.5,2257.1 C854.9,2258.6 854.8,2260.0 854.3,2261.1 Z" stroke-width="3"/>
<path d="M804.2,2287.6 C802.7,2297.4 797.8,2330.3 795.5,2346.4 C793.2,2362.5 791.2,2378.1 790.4,2384.4" stroke-width="3"/>
<path d="M847.4,2298.0 C846.8,2306.1 844.5,2330.3 843.9,2346.4 C843.4,2362.5 843.9,2386.7 843.9,2394.8" stroke-width="3"/>
<path d="M848.0,2294.7 C847.9,2295.5 847.3,2296.3 846.2,2296.9 C845.1,2297.6 843.3,2298.1 841.4,2298.5 C839.4,2298.9 836.9,2299.2 834.3,2299.3 C831.8,2299.3 828.8,2299.3 826.1,2299.0 C823.4,2298.8 820.5,2298.4 818.0,2297.8 C815.5,2297.3 813.0,2296.6 811.2,2295.9 C809.3,2295.2 807.7,2294.3 806.7,2293.5 C805.7,2292.6 805.2,2291.7 805.3,2291.0 C805.4,2290.2 806.0,2289.4 807.1,2288.7 C808.2,2288.1 810.0,2287.5 811.9,2287.1 C813.9,2286.7 816.4,2286.5 819.0,2286.4 C821.5,2286.3 824.5,2286.4 827.2,2286.6 C829.9,2286.9 832.8,2287.3 835.3,2287.8 C837.8,2288.3 840.3,2289.0 842.1,2289.8 C844.0,2290.5 845.6,2291.4 846.6,2292.2 C847.6,2293.0 848.1,2293.9 848.0,2294.7 Z" stroke-width="3"/>
<path d="M797.3,2342.9 C800.7,2343.8 810.5,2347.6 818.0,2348.1 C825.5,2348.7 838.2,2346.7 842.2,2346.4" stroke-width="2"/>
<path d="M785.2,2374.1 C785.5,2377.5 782.6,2389.9 786.9,2394.8 C791.2,2399.7 801.9,2402.6 811.1,2403.4 C820.3,2404.3 835.9,2402.6 842.2,2400.0 C848.5,2397.4 848.0,2389.9 849.1,2387.9" stroke-width="3"/>
<path d="M793.8,2355.0 C789.8,2356.2 775.7,2358.2 769.6,2362.0 C763.6,2365.7 760.1,2372.0 757.5,2377.5 C754.9,2383.0 755.5,2386.7 754.1,2394.8 C752.6,2402.9 748.9,2417.8 748.9,2425.9 C748.9,2434.0 749.5,2437.4 754.1,2443.2 C758.7,2448.9 767.0,2456.4 776.5,2460.5 C786.0,2464.5 799.6,2467.1 811.1,2467.4 C822.6,2467.7 837.0,2465.1 845.7,2462.2 C854.3,2459.3 858.3,2460.8 862.9,2450.1 C867.6,2439.4 872.2,2410.3 873.3,2398.3 C874.5,2386.2 874.5,2383.3 869.9,2377.5 C865.2,2371.8 849.7,2366.0 845.7,2363.7" stroke-width="3.5"/>
<path d="M757.5,2377.5 L762.7,2384.4" stroke-width="2"/>
<path d="M769.6,2412.1 L800.7,2410.3 L845.7,2422.4 L866.4,2401.7" stroke-width="2"/>
<path d="M769.6,2412.1 L767.9,2450.1" stroke-width="2"/>
<path d="M845.7,2422.4 L840.5,2462.2" stroke-width="2"/>
<path d="M742.0,2460.5 L757.5,2450.1 L776.5,2460.5 L811.1,2467.4 L859.5,2467.4 L862.9,2484.7 L831.8,2510.6 L759.2,2498.5 L742.0,2460.5" stroke-width="3.5"/>
<path d="M762.7,2495.0 L831.8,2501.9 L859.5,2477.8" stroke-width="2"/>
<path d="M762.7,2467.4 C765.0,2469.7 768.5,2477.8 776.5,2481.2 C784.6,2484.7 799.6,2487.5 811.1,2488.1 C822.6,2488.7 837.6,2487.0 845.7,2484.7 C853.7,2482.4 857.2,2476.0 859.5,2474.3" stroke-width="2"/>
<path d="M762.7,2408.6 C763.3,2410.3 766.7,2416.4 766.2,2419.0 C765.6,2421.6 760.4,2423.3 759.2,2424.2" stroke-width="2.5"/>
<path d="M799.0,2515.8 L795.5,2555.5" stroke-width="2.5"/>
<path d="M793.8,2571.1 L793.8,2580.1" stroke-width="2.5"/>
<path d="M330.9,2561.8 L502.0,2463.5 L573.5,2488.4 L673.0,2533.2 L809.9,2603.5 L1071.2,2728.0 L1282.7,3026.6" stroke-width="3"/>
<path d="M340.2,2568.1 L498.8,2472.9 L561.1,2494.7 L666.8,2541.3 L806.8,2612.9 L1065.0,2737.3 L1273.4,3029.7" stroke-width="2.5"/>
<path d="M368.2,2572.4 L495.7,2504.0 L498.8,2474.7" stroke-width="2.5"/>
<path d="M495.7,2504.0 L654.4,2569.3 L794.4,2625.3 L1052.5,2762.2" stroke-width="2.5"/>
<path d="M1052.5,2762.2 L872.1,2867.9" stroke-width="2.5"/>
<path d="M1052.5,2762.2 L1257.8,3042.1" stroke-width="2.5"/>
<path d="M505.1,2463.5 L536.2,2444.9 L579.7,2463.5 L573.5,2485.3" stroke-width="3"/>
<path d="M536.2,2444.9 L542.4,2469.8" stroke-width="2"/>
<path d="M281.1,2619.1 L312.2,2584.9 L368.2,2600.4 L368.2,2606.6 L340.2,2659.5 L281.1,2622.2 L281.1,2619.1" stroke-width="3"/>
<path d="M312.2,2584.9 L330.9,2569.3" stroke-width="2.5"/>
<path d="M340.2,2659.5 L343.3,2625.3 L368.2,2603.5" stroke-width="2"/>
<path d="M374.4,2609.7 L467.7,2678.2 L654.4,2774.6 L837.9,2858.6 L1046.3,3160.3" stroke-width="3.2"/>
<path d="M383.8,2619.1 L474.0,2668.8 L657.5,2765.3 L847.2,2849.3 L1055.6,3154.1" stroke-width="2.5"/>
<path d="M362.0,2647.1 L461.5,2718.6 L816.1,2899.0 L1018.3,3182.1" stroke-width="2.5"/>
<path d="M1065.0,3147.9 L1257.8,3048.3" stroke-width="2.5"/>
<path d="M1257.8,3042.1 L1267.2,3185.2" stroke-width="2.5"/>
<path d="M1276.5,3032.8 L1285.8,3185.2" stroke-width="2.5"/>
<path d="M747.7,2867.9 L738.4,3035.9" stroke-width="2.5"/>
<path d="M785.0,2892.8 L772.6,3035.9" stroke-width="2.5"/>
<path d="M1043.2,3163.4 L1049.4,3191.4" stroke-width="2.5"/>
<path d="M1018.3,3182.1 L1021.4,3191.4" stroke-width="2.5"/>
<path d="M559.8,2565.9 C559.6,2567.0 559.1,2568.3 558.1,2569.3 C557.2,2570.3 555.7,2571.3 554.1,2572.0 C552.5,2572.7 550.4,2573.2 548.3,2573.5 C546.2,2573.8 543.8,2573.8 541.6,2573.6 C539.4,2573.4 537.0,2573.0 535.0,2572.3 C533.0,2571.7 531.0,2570.8 529.6,2569.8 C528.1,2568.9 526.8,2567.7 526.1,2566.5 C525.3,2565.3 524.9,2564.0 525.0,2562.8 C525.1,2561.6 525.7,2560.4 526.7,2559.4 C527.6,2558.4 529.1,2557.4 530.7,2556.7 C532.3,2556.0 534.4,2555.4 536.5,2555.2 C538.6,2554.9 541.0,2554.8 543.2,2555.0 C545.4,2555.2 547.8,2555.7 549.8,2556.3 C551.8,2557.0 553.8,2557.9 555.2,2558.8 C556.7,2559.8 558.0,2561.0 558.7,2562.2 C559.5,2563.3 559.9,2564.7 559.8,2565.9 Z" stroke-width="3"/>
<path d="M625.1,2598.8 C625.0,2600.0 624.4,2601.2 623.4,2602.3 C622.5,2603.3 621.1,2604.3 619.4,2605.0 C617.8,2605.7 615.7,2606.2 613.6,2606.5 C611.5,2606.7 609.1,2606.8 606.9,2606.6 C604.7,2606.4 602.3,2605.9 600.3,2605.3 C598.3,2604.7 596.4,2603.8 594.9,2602.8 C593.4,2601.8 592.1,2600.6 591.4,2599.5 C590.6,2598.3 590.3,2597.0 590.4,2595.8 C590.5,2594.6 591.1,2593.4 592.0,2592.3 C592.9,2591.3 594.4,2590.4 596.0,2589.7 C597.7,2589.0 599.7,2588.4 601.8,2588.1 C603.9,2587.9 606.3,2587.8 608.5,2588.0 C610.7,2588.2 613.1,2588.7 615.1,2589.3 C617.1,2589.9 619.1,2590.8 620.6,2591.8 C622.1,2592.8 623.3,2594.0 624.1,2595.2 C624.8,2596.3 625.2,2597.6 625.1,2598.8 Z" stroke-width="3"/>
<path d="M478.9,2609.4 C478.8,2610.6 478.2,2611.8 477.2,2612.8 C476.3,2613.9 474.9,2614.8 473.2,2615.5 C471.6,2616.2 469.5,2616.8 467.4,2617.1 C465.3,2617.3 462.9,2617.4 460.7,2617.2 C458.5,2617.0 456.1,2616.5 454.1,2615.9 C452.1,2615.3 450.2,2614.4 448.7,2613.4 C447.2,2612.4 445.9,2611.2 445.2,2610.0 C444.4,2608.9 444.1,2607.5 444.2,2606.4 C444.3,2605.2 444.9,2603.9 445.8,2602.9 C446.7,2601.9 448.2,2600.9 449.8,2600.2 C451.5,2599.5 453.5,2599.0 455.6,2598.7 C457.7,2598.4 460.1,2598.4 462.3,2598.6 C464.5,2598.8 466.9,2599.2 468.9,2599.9 C470.9,2600.5 472.9,2601.4 474.4,2602.4 C475.9,2603.4 477.1,2604.6 477.9,2605.7 C478.6,2606.9 479.0,2608.2 478.9,2609.4 Z" stroke-width="3"/>
<path d="M589.0,2626.8 C588.9,2628.0 588.3,2629.2 587.4,2630.2 C586.5,2631.2 585.1,2632.2 583.5,2632.9 C581.9,2633.6 579.9,2634.2 577.9,2634.4 C575.9,2634.7 573.6,2634.8 571.4,2634.6 C569.3,2634.4 567.0,2634.0 565.1,2633.3 C563.2,2632.7 561.3,2631.8 559.9,2630.8 C558.4,2629.9 557.2,2628.7 556.5,2627.5 C555.8,2626.3 555.4,2625.0 555.5,2623.8 C555.6,2622.7 556.2,2621.4 557.1,2620.4 C558.0,2619.4 559.4,2618.4 561.0,2617.7 C562.6,2617.0 564.6,2616.4 566.6,2616.2 C568.6,2615.9 570.9,2615.8 573.1,2616.0 C575.2,2616.2 577.5,2616.6 579.4,2617.3 C581.3,2617.9 583.2,2618.8 584.7,2619.8 C586.1,2620.7 587.3,2621.9 588.0,2623.1 C588.8,2624.3 589.1,2625.6 589.0,2626.8 Z" stroke-width="3"/>
<path d="M520.6,2651.6 C520.5,2652.8 519.9,2654.1 519.0,2655.1 C518.1,2656.1 516.7,2657.1 515.1,2657.8 C513.5,2658.5 511.5,2659.1 509.5,2659.3 C507.5,2659.6 505.1,2659.7 503.0,2659.5 C500.9,2659.3 498.6,2658.8 496.7,2658.2 C494.7,2657.6 492.9,2656.7 491.4,2655.7 C490.0,2654.8 488.8,2653.6 488.1,2652.4 C487.3,2651.2 487.0,2649.9 487.1,2648.7 C487.2,2647.5 487.8,2646.3 488.7,2645.3 C489.6,2644.3 491.0,2643.3 492.6,2642.6 C494.2,2641.9 496.2,2641.3 498.2,2641.0 C500.2,2640.8 502.5,2640.7 504.6,2640.9 C506.8,2641.1 509.0,2641.5 511.0,2642.2 C512.9,2642.8 514.8,2643.7 516.2,2644.6 C517.7,2645.6 518.9,2646.8 519.6,2648.0 C520.3,2649.1 520.7,2650.5 520.6,2651.6 Z" stroke-width="3"/>
<path d="M572.2,2684.7 C572.1,2685.9 571.5,2687.1 570.6,2688.1 C569.6,2689.1 568.2,2690.1 566.5,2690.8 C564.9,2691.5 562.8,2692.1 560.7,2692.3 C558.6,2692.6 556.2,2692.6 554.0,2692.5 C551.8,2692.3 549.5,2691.8 547.4,2691.2 C545.4,2690.5 543.5,2689.6 542.0,2688.7 C540.5,2687.7 539.2,2686.5 538.5,2685.3 C537.7,2684.1 537.4,2682.8 537.5,2681.6 C537.6,2680.5 538.2,2679.2 539.1,2678.2 C540.1,2677.2 541.5,2676.2 543.1,2675.5 C544.8,2674.8 546.9,2674.3 549.0,2674.0 C551.0,2673.7 553.4,2673.7 555.7,2673.9 C557.9,2674.1 560.2,2674.5 562.2,2675.2 C564.2,2675.8 566.2,2676.7 567.7,2677.7 C569.2,2678.6 570.4,2679.8 571.2,2681.0 C571.9,2682.2 572.3,2683.5 572.2,2684.7 Z" stroke-width="3"/>
<path d="M625.1,2715.2 C625.0,2716.3 624.4,2717.6 623.4,2718.6 C622.5,2719.6 621.1,2720.6 619.4,2721.3 C617.8,2722.0 615.7,2722.5 613.6,2722.8 C611.5,2723.1 609.1,2723.1 606.9,2722.9 C604.7,2722.7 602.3,2722.3 600.3,2721.6 C598.3,2721.0 596.4,2720.1 594.9,2719.1 C593.4,2718.2 592.1,2717.0 591.4,2715.8 C590.6,2714.6 590.3,2713.3 590.4,2712.1 C590.5,2710.9 591.1,2709.7 592.0,2708.7 C592.9,2707.7 594.4,2706.7 596.0,2706.0 C597.7,2705.3 599.7,2704.7 601.8,2704.5 C603.9,2704.2 606.3,2704.2 608.5,2704.3 C610.7,2704.5 613.1,2705.0 615.1,2705.6 C617.1,2706.3 619.1,2707.2 620.6,2708.1 C622.1,2709.1 623.3,2710.3 624.1,2711.5 C624.8,2712.7 625.2,2714.0 625.1,2715.2 Z" stroke-width="3"/>
<path d="M700.9,2751.9 C700.8,2753.6 700.0,2755.4 698.6,2756.9 C697.2,2758.4 695.2,2759.9 692.8,2760.9 C690.5,2761.9 687.5,2762.7 684.5,2763.2 C681.6,2763.6 678.1,2763.6 675.0,2763.4 C671.8,2763.1 668.4,2762.4 665.6,2761.5 C662.7,2760.6 659.9,2759.3 657.8,2757.8 C655.7,2756.4 653.9,2754.7 652.8,2752.9 C651.7,2751.2 651.2,2749.3 651.4,2747.6 C651.5,2745.8 652.4,2744.0 653.7,2742.5 C655.1,2741.0 657.1,2739.6 659.5,2738.6 C661.8,2737.5 664.8,2736.7 667.8,2736.3 C670.7,2735.9 674.2,2735.8 677.3,2736.1 C680.5,2736.4 683.9,2737.0 686.7,2738.0 C689.6,2738.9 692.4,2740.2 694.5,2741.6 C696.7,2743.0 698.4,2744.8 699.5,2746.5 C700.6,2748.2 701.1,2750.2 700.9,2751.9 Z" stroke-width="3"/>
<path d="M760.0,2655.8 C759.7,2659.2 758.2,2662.6 755.8,2665.5 C753.4,2668.4 749.8,2671.1 745.7,2673.1 C741.5,2675.1 736.3,2676.7 731.1,2677.6 C725.9,2678.4 719.8,2678.6 714.3,2678.1 C708.8,2677.6 702.9,2676.4 697.9,2674.6 C692.9,2672.9 688.0,2670.5 684.3,2667.8 C680.6,2665.1 677.5,2661.8 675.6,2658.5 C673.8,2655.3 672.9,2651.6 673.2,2648.3 C673.5,2644.9 675.0,2641.5 677.4,2638.6 C679.8,2635.7 683.4,2633.0 687.5,2631.0 C691.6,2629.0 696.9,2627.4 702.1,2626.6 C707.3,2625.7 713.3,2625.5 718.9,2626.0 C724.4,2626.5 730.3,2627.7 735.3,2629.5 C740.3,2631.2 745.2,2633.6 748.9,2636.3 C752.6,2639.0 755.7,2642.3 757.5,2645.6 C759.4,2648.9 760.3,2652.5 760.0,2655.8 Z" stroke-width="3"/>
<path d="M868.9,2710.7 C868.6,2714.0 867.3,2717.5 865.2,2720.4 C863.1,2723.3 859.9,2726.1 856.4,2728.1 C852.8,2730.2 848.3,2731.8 843.8,2732.7 C839.3,2733.6 834.2,2733.9 829.4,2733.5 C824.7,2733.0 819.6,2731.9 815.4,2730.2 C811.1,2728.6 806.9,2726.2 803.8,2723.5 C800.6,2720.9 798.0,2717.6 796.5,2714.4 C794.9,2711.1 794.2,2707.5 794.5,2704.2 C794.8,2700.8 796.1,2697.4 798.2,2694.5 C800.3,2691.5 803.4,2688.8 807.0,2686.7 C810.6,2684.7 815.1,2683.0 819.6,2682.1 C824.1,2681.2 829.2,2681.0 834.0,2681.4 C838.7,2681.8 843.7,2683.0 848.0,2684.6 C852.3,2686.3 856.4,2688.7 859.6,2691.3 C862.7,2694.0 865.4,2697.2 866.9,2700.5 C868.5,2703.7 869.2,2707.4 868.9,2710.7 Z" stroke-width="3"/>
<path d="M982.8,2756.5 C982.6,2758.5 981.6,2760.6 980.1,2762.3 C978.6,2764.0 976.3,2765.6 973.6,2766.8 C971.0,2767.9 967.6,2768.9 964.3,2769.3 C960.9,2769.8 957.1,2769.9 953.5,2769.6 C950.0,2769.3 946.2,2768.5 942.9,2767.5 C939.7,2766.4 936.6,2764.9 934.2,2763.3 C931.8,2761.7 929.8,2759.7 928.6,2757.8 C927.4,2755.8 926.8,2753.6 927.0,2751.6 C927.1,2749.7 928.1,2747.6 929.6,2745.9 C931.1,2744.2 933.5,2742.6 936.1,2741.4 C938.7,2740.2 942.1,2739.3 945.4,2738.8 C948.8,2738.4 952.7,2738.3 956.2,2738.6 C959.8,2738.9 963.6,2739.7 966.8,2740.7 C970.0,2741.7 973.2,2743.2 975.5,2744.8 C977.9,2746.5 979.9,2748.5 981.1,2750.4 C982.4,2752.3 982.9,2754.5 982.8,2756.5 Z" stroke-width="3"/>
<path d="M864.0,2830.5 C863.8,2831.8 863.2,2833.2 862.1,2834.4 C861.0,2835.5 859.4,2836.6 857.5,2837.4 C855.6,2838.2 853.2,2838.8 850.9,2839.1 C848.5,2839.4 845.7,2839.5 843.2,2839.3 C840.7,2839.0 838.0,2838.5 835.7,2837.8 C833.4,2837.1 831.2,2836.1 829.5,2835.0 C827.7,2833.9 826.3,2832.5 825.5,2831.2 C824.6,2829.8 824.2,2828.3 824.3,2827.0 C824.4,2825.7 825.1,2824.3 826.2,2823.1 C827.2,2821.9 828.9,2820.9 830.8,2820.1 C832.6,2819.3 835.0,2818.6 837.4,2818.3 C839.8,2818.0 842.5,2818.0 845.0,2818.2 C847.6,2818.4 850.3,2818.9 852.6,2819.7 C854.9,2820.4 857.1,2821.4 858.8,2822.5 C860.5,2823.6 861.9,2825.0 862.8,2826.3 C863.7,2827.6 864.1,2829.1 864.0,2830.5 Z" stroke-width="3"/>
<path d="M1075.8,2883.7 C1076.4,2885.8 1076.7,2888.1 1076.6,2890.1 C1076.6,2892.2 1076.3,2894.3 1075.7,2896.0 C1075.1,2897.7 1074.2,2899.3 1073.1,2900.5 C1072.1,2901.6 1070.7,2902.4 1069.3,2902.8 C1067.9,2903.2 1066.3,2903.1 1064.9,2902.7 C1063.4,2902.2 1061.8,2901.3 1060.4,2900.1 C1059.0,2898.9 1057.7,2897.2 1056.7,2895.5 C1055.6,2893.7 1054.7,2891.6 1054.2,2889.5 C1053.6,2887.4 1053.3,2885.1 1053.3,2883.1 C1053.3,2881.0 1053.7,2878.9 1054.3,2877.2 C1054.8,2875.4 1055.8,2873.8 1056.8,2872.7 C1057.9,2871.6 1059.3,2870.7 1060.6,2870.4 C1062.0,2870.0 1063.6,2870.0 1065.1,2870.5 C1066.6,2870.9 1068.2,2871.9 1069.6,2873.1 C1070.9,2874.3 1072.3,2875.9 1073.3,2877.7 C1074.4,2879.5 1075.2,2881.6 1075.8,2883.7 Z" stroke-width="3"/>
<path d="M940.1,2923.5 C940.7,2925.8 941.0,2928.4 940.9,2930.7 C940.9,2933.0 940.4,2935.3 939.6,2937.3 C938.9,2939.2 937.7,2941.0 936.4,2942.3 C935.1,2943.6 933.4,2944.6 931.7,2945.1 C930.0,2945.5 928.1,2945.5 926.3,2945.0 C924.5,2944.6 922.6,2943.6 920.9,2942.3 C919.3,2941.0 917.7,2939.2 916.5,2937.2 C915.3,2935.2 914.3,2932.9 913.6,2930.6 C913.0,2928.3 912.7,2925.7 912.8,2923.4 C912.9,2921.1 913.3,2918.7 914.1,2916.8 C914.9,2914.8 916.0,2913.0 917.3,2911.7 C918.7,2910.4 920.4,2909.5 922.0,2909.0 C923.7,2908.6 925.7,2908.6 927.5,2909.0 C929.3,2909.5 931.2,2910.5 932.8,2911.8 C934.4,2913.1 936.0,2914.9 937.2,2916.9 C938.4,2918.8 939.5,2921.2 940.1,2923.5 Z" stroke-width="3"/>
<path d="M1123.4,2936.0 C1124.3,2939.5 1124.8,2943.3 1124.6,2946.8 C1124.5,2950.2 1123.8,2953.8 1122.7,2956.7 C1121.6,2959.6 1119.8,2962.3 1117.8,2964.3 C1115.9,2966.2 1113.3,2967.7 1110.8,2968.4 C1108.3,2969.1 1105.3,2969.0 1102.7,2968.4 C1100.0,2967.7 1097.1,2966.2 1094.7,2964.2 C1092.2,2962.3 1089.8,2959.5 1088.0,2956.6 C1086.2,2953.7 1084.6,2950.1 1083.7,2946.7 C1082.8,2943.2 1082.3,2939.3 1082.5,2935.9 C1082.6,2932.5 1083.3,2928.9 1084.4,2926.0 C1085.5,2923.1 1087.3,2920.3 1089.3,2918.4 C1091.3,2916.4 1093.8,2915.0 1096.3,2914.3 C1098.8,2913.6 1101.8,2913.6 1104.4,2914.3 C1107.1,2915.0 1110.0,2916.5 1112.5,2918.5 C1114.9,2920.4 1117.3,2923.2 1119.1,2926.1 C1120.9,2929.0 1122.5,2932.6 1123.4,2936.0 Z" stroke-width="3"/>
<path d="M1000.7,2992.5 C1001.7,2996.1 1002.1,3000.3 1001.9,3004.0 C1001.7,3007.7 1000.9,3011.5 999.5,3014.6 C998.1,3017.8 996.1,3020.8 993.8,3022.9 C991.4,3025.0 988.5,3026.6 985.6,3027.4 C982.7,3028.2 979.4,3028.3 976.3,3027.6 C973.2,3026.9 970.0,3025.3 967.2,3023.3 C964.4,3021.2 961.8,3018.4 959.7,3015.3 C957.7,3012.2 956.0,3008.4 955.0,3004.7 C954.1,3001.0 953.6,2996.9 953.8,2993.2 C954.0,2989.5 954.9,2985.7 956.3,2982.5 C957.6,2979.4 959.7,2976.4 962.0,2974.3 C964.3,2972.1 967.2,2970.5 970.2,2969.7 C973.1,2968.9 976.4,2968.9 979.5,2969.6 C982.6,2970.3 985.8,2971.8 988.6,2973.9 C991.3,2975.9 994.0,2978.8 996.0,2981.9 C998.0,2985.0 999.7,2988.8 1000.7,2992.5 Z" stroke-width="3"/>
<path d="M1187.2,3013.1 C1188.4,3017.7 1189.0,3022.8 1188.8,3027.5 C1188.7,3032.1 1187.7,3036.8 1186.1,3040.7 C1184.6,3044.6 1182.2,3048.3 1179.4,3050.9 C1176.7,3053.5 1173.3,3055.5 1169.8,3056.4 C1166.4,3057.3 1162.4,3057.3 1158.7,3056.4 C1155.1,3055.5 1151.2,3053.6 1147.9,3051.0 C1144.6,3048.4 1141.3,3044.7 1138.9,3040.8 C1136.4,3036.9 1134.4,3032.2 1133.1,3027.6 C1131.9,3023.0 1131.3,3017.8 1131.5,3013.2 C1131.7,3008.6 1132.6,3003.9 1134.2,3000.0 C1135.8,2996.1 1138.2,2992.4 1140.9,2989.8 C1143.6,2987.2 1147.1,2985.2 1150.5,2984.3 C1154.0,2983.4 1157.9,2983.4 1161.6,2984.3 C1165.2,2985.2 1169.1,2987.1 1172.5,2989.7 C1175.8,2992.3 1179.0,2996.0 1181.5,2999.9 C1183.9,3003.8 1186.0,3008.5 1187.2,3013.1 Z" stroke-width="3"/>
<path d="M1036.6,3061.9 C1037.1,3064.0 1037.4,3066.3 1037.3,3068.4 C1037.2,3070.4 1036.8,3072.6 1036.1,3074.3 C1035.4,3076.1 1034.4,3077.7 1033.2,3078.9 C1032.0,3080.1 1030.4,3081.0 1028.9,3081.4 C1027.4,3081.8 1025.6,3081.8 1024.0,3081.4 C1022.3,3081.0 1020.6,3080.1 1019.1,3078.9 C1017.6,3077.7 1016.2,3076.1 1015.1,3074.3 C1014.0,3072.6 1013.1,3070.4 1012.5,3068.4 C1012.0,3066.3 1011.7,3064.0 1011.8,3061.9 C1011.8,3059.8 1012.3,3057.7 1013.0,3055.9 C1013.7,3054.2 1014.7,3052.6 1015.9,3051.4 C1017.1,3050.2 1018.7,3049.3 1020.2,3048.9 C1021.7,3048.5 1023.5,3048.5 1025.1,3048.9 C1026.8,3049.3 1028.5,3050.2 1030.0,3051.4 C1031.4,3052.6 1032.9,3054.2 1034.0,3056.0 C1035.1,3057.7 1036.0,3059.9 1036.6,3061.9 Z" stroke-width="3"/>
<path d="M1070.8,3110.4 C1071.3,3112.5 1071.6,3114.8 1071.5,3116.9 C1071.5,3119.0 1071.0,3121.1 1070.3,3122.9 C1069.6,3124.6 1068.6,3126.3 1067.4,3127.4 C1066.2,3128.6 1064.6,3129.5 1063.1,3129.9 C1061.6,3130.3 1059.8,3130.3 1058.2,3129.9 C1056.5,3129.5 1054.8,3128.6 1053.3,3127.4 C1051.9,3126.2 1050.4,3124.6 1049.3,3122.9 C1048.2,3121.1 1047.3,3119.0 1046.7,3116.9 C1046.2,3114.8 1045.9,3112.5 1046.0,3110.4 C1046.1,3108.4 1046.5,3106.2 1047.2,3104.5 C1047.9,3102.7 1048.9,3101.1 1050.1,3099.9 C1051.3,3098.7 1052.9,3097.9 1054.4,3097.4 C1055.9,3097.0 1057.7,3097.0 1059.3,3097.4 C1061.0,3097.9 1062.7,3098.7 1064.2,3099.9 C1065.7,3101.1 1067.1,3102.7 1068.2,3104.5 C1069.3,3106.2 1070.2,3108.4 1070.8,3110.4 Z" stroke-width="3"/>
<path d="M806.7,2745.9 C806.6,2747.4 805.7,2748.8 804.2,2750.0 C802.7,2751.2 800.4,2752.3 797.8,2753.1 C795.2,2753.9 791.9,2754.5 788.6,2754.7 C785.2,2755.0 781.4,2755.0 777.8,2754.7 C774.3,2754.3 770.5,2753.7 767.2,2752.9 C764.0,2752.0 760.8,2750.9 758.4,2749.7 C756.0,2748.4 753.9,2747.0 752.7,2745.5 C751.4,2744.1 750.8,2742.5 750.9,2741.1 C751.0,2739.6 751.9,2738.2 753.4,2737.0 C754.9,2735.8 757.2,2734.7 759.8,2733.9 C762.4,2733.1 765.7,2732.5 769.0,2732.3 C772.4,2732.0 776.2,2732.0 779.8,2732.3 C783.3,2732.7 787.1,2733.3 790.4,2734.1 C793.6,2735.0 796.8,2736.1 799.2,2737.3 C801.6,2738.6 803.7,2740.1 804.9,2741.5 C806.2,2742.9 806.8,2744.5 806.7,2745.9 Z" stroke-width="3"/>
<path d="M806.1,2761.5 C806.0,2762.8 805.1,2764.1 803.6,2765.1 C802.2,2766.2 799.9,2767.1 797.3,2767.8 C794.7,2768.5 791.4,2769.0 788.1,2769.2 C784.7,2769.3 780.9,2769.3 777.3,2769.0 C773.8,2768.7 770.0,2768.1 766.7,2767.3 C763.5,2766.5 760.3,2765.5 757.8,2764.3 C755.4,2763.2 753.3,2761.9 752.1,2760.6 C750.8,2759.3 750.2,2757.9 750.3,2756.6 C750.4,2755.4 751.3,2754.1 752.7,2753.0 C754.2,2752.0 756.5,2751.0 759.1,2750.3 C761.7,2749.6 765.0,2749.2 768.3,2749.0 C771.6,2748.8 775.5,2748.8 779.0,2749.1 C782.6,2749.5 786.4,2750.1 789.7,2750.8 C792.9,2751.6 796.1,2752.7 798.5,2753.8 C801.0,2754.9 803.0,2756.2 804.3,2757.5 C805.5,2758.8 806.2,2760.2 806.1,2761.5 Z" stroke-width="2.5"/>
<path d="M804.2,2775.8 C804.1,2776.9 803.2,2778.1 801.8,2779.1 C800.4,2780.1 798.2,2781.0 795.6,2781.6 C793.1,2782.2 789.9,2782.7 786.6,2782.9 C783.4,2783.0 779.6,2783.0 776.1,2782.7 C772.6,2782.4 768.9,2781.8 765.8,2781.0 C762.6,2780.3 759.5,2779.3 757.1,2778.3 C754.7,2777.2 752.7,2775.9 751.4,2774.7 C750.2,2773.5 749.6,2772.2 749.7,2771.0 C749.8,2769.8 750.6,2768.6 752.1,2767.6 C753.5,2766.6 755.7,2765.7 758.2,2765.1 C760.8,2764.5 764.0,2764.0 767.3,2763.9 C770.5,2763.7 774.3,2763.8 777.8,2764.1 C781.2,2764.4 785.0,2765.0 788.1,2765.7 C791.3,2766.4 794.4,2767.4 796.8,2768.5 C799.2,2769.5 801.2,2770.8 802.4,2772.0 C803.7,2773.2 804.3,2774.6 804.2,2775.8 Z" stroke-width="2.5"/>
<path d="M753.9,2780.8 C754.1,2784.5 752.1,2797.4 755.2,2802.6 C758.3,2807.8 766.6,2811.4 772.6,2811.9 C778.6,2812.5 788.1,2810.9 791.2,2805.7 C794.4,2800.5 791.2,2785.0 791.2,2780.8" stroke-width="3"/>
<path d="M794.3,2741.7 C794.2,2742.5 793.7,2743.4 792.9,2744.0 C792.1,2744.7 790.8,2745.3 789.4,2745.7 C787.9,2746.2 786.1,2746.5 784.2,2746.6 C782.4,2746.8 780.2,2746.8 778.3,2746.6 C776.3,2746.4 774.2,2746.1 772.4,2745.6 C770.6,2745.1 768.8,2744.5 767.5,2743.8 C766.1,2743.1 765.0,2742.3 764.3,2741.5 C763.6,2740.7 763.2,2739.8 763.3,2739.0 C763.4,2738.2 763.9,2737.4 764.7,2736.8 C765.5,2736.1 766.8,2735.5 768.2,2735.1 C769.7,2734.6 771.5,2734.3 773.4,2734.1 C775.2,2734.0 777.4,2734.0 779.3,2734.2 C781.3,2734.4 783.4,2734.7 785.2,2735.2 C787.0,2735.6 788.8,2736.3 790.1,2737.0 C791.5,2737.7 792.6,2738.5 793.3,2739.3 C794.0,2740.1 794.4,2741.0 794.3,2741.7 Z" stroke-width="2"/>
<path d="M797.5,2513.3 L792.5,2575.5" stroke-width="2"/>
<path d="M791.2,2588.0 L788.1,2681.3 L778.8,2734.2" stroke-width="2"/>
<path d="M1089.9,2668.8 L1027.7,2706.2" stroke-width="3"/>
<path d="M791.2,2681.3 C789.2,2683.4 780.9,2688.5 778.8,2693.7 C776.7,2698.9 778.8,2709.3 778.8,2712.4" stroke-width="2"/>
<path d="M1750.0,1932.3 C1748.0,1942.1 1742.9,1973.3 1738.2,1990.9 C1733.6,2008.4 1728.1,2022.1 1721.8,2037.7 C1715.6,2053.4 1707.4,2070.9 1700.7,2084.6 C1694.1,2098.3 1687.1,2110.0 1682.0,2119.7 C1676.9,2129.5 1672.4,2133.4 1670.3,2143.2 C1668.1,2152.9 1667.9,2168.6 1669.1,2178.3 C1670.3,2188.1 1673.2,2193.9 1677.3,2201.7 C1681.4,2209.6 1688.6,2217.4 1693.7,2225.2 C1698.8,2233.0 1703.1,2240.8 1707.8,2248.6 C1712.5,2256.4 1719.5,2268.1 1721.8,2272.0" stroke-width="3.5"/>
<path d="M1810.9,1960.4 C1807.0,1967.4 1793.3,1994.8 1787.4,2002.6 C1781.6,2010.4 1780.4,1999.5 1775.7,2007.3 C1771.0,2015.1 1765.2,2036.6 1759.3,2049.4 C1753.5,2062.3 1746.8,2073.7 1740.6,2084.6 C1734.3,2095.5 1726.5,2105.3 1721.8,2115.1 C1717.2,2124.8 1713.6,2133.4 1712.5,2143.2 C1711.3,2152.9 1712.9,2164.6 1714.8,2173.6 C1716.8,2182.6 1720.3,2190.0 1724.2,2197.1 C1728.1,2204.1 1733.6,2209.2 1738.2,2215.8 C1742.9,2222.4 1749.6,2231.0 1752.3,2236.9 C1755.0,2242.7 1755.8,2247.4 1754.6,2250.9 C1753.5,2254.5 1746.8,2256.8 1745.3,2258.0" stroke-width="3.5"/>
<path d="M1751.4,2263.7 C1751.5,2264.4 1751.3,2265.3 1750.7,2266.1 C1750.1,2266.9 1749.1,2267.7 1747.9,2268.5 C1746.7,2269.2 1745.1,2270.0 1743.5,2270.5 C1741.8,2271.1 1739.9,2271.6 1738.1,2271.9 C1736.3,2272.3 1734.3,2272.5 1732.5,2272.5 C1730.8,2272.5 1729.1,2272.3 1727.7,2272.0 C1726.3,2271.7 1725.1,2271.3 1724.2,2270.7 C1723.4,2270.2 1722.9,2269.4 1722.8,2268.7 C1722.6,2268.0 1722.9,2267.1 1723.5,2266.3 C1724.0,2265.5 1725.0,2264.6 1726.2,2263.9 C1727.4,2263.1 1729.0,2262.4 1730.7,2261.8 C1732.3,2261.2 1734.2,2260.7 1736.0,2260.4 C1737.9,2260.1 1739.9,2259.9 1741.6,2259.9 C1743.3,2259.9 1745.1,2260.0 1746.5,2260.3 C1747.8,2260.6 1749.1,2261.1 1749.9,2261.6 C1750.7,2262.2 1751.2,2262.9 1751.4,2263.7 Z" stroke-width="3"/>
<path d="M1738.2,1990.9 C1740.6,1992.8 1746.0,1999.9 1752.3,2002.6 C1758.5,2005.3 1769.9,2007.3 1775.7,2007.3 C1781.6,2007.3 1785.5,2003.4 1787.4,2002.6" stroke-width="2.5"/>
<path d="M1757.0,1911.2 C1758.2,1906.9 1759.7,1892.1 1764.0,1885.4 C1768.3,1878.8 1776.5,1874.1 1782.8,1871.4 C1789.0,1868.6 1794.9,1867.9 1801.5,1869.0 C1808.1,1870.2 1817.1,1872.5 1822.6,1878.4 C1828.1,1884.3 1832.7,1894.8 1834.3,1904.2 C1835.9,1913.6 1833.9,1927.2 1832.0,1934.6 C1830.0,1942.1 1826.1,1944.8 1822.6,1948.7 C1819.1,1952.6 1812.8,1956.5 1810.9,1958.1" stroke-width="3"/>
<path d="M1799.2,1866.7 C1800.3,1864.3 1801.9,1855.8 1806.2,1852.6 C1810.5,1849.5 1814.4,1848.9 1824.9,1847.9 C1835.5,1847.0 1859.3,1845.2 1869.4,1846.8 C1879.6,1848.3 1881.6,1852.0 1885.8,1857.3 C1890.1,1862.6 1893.1,1869.8 1895.2,1878.4 C1897.4,1887.0 1898.7,1897.9 1898.7,1908.9 C1898.7,1919.8 1897.4,1935.0 1895.2,1944.0 C1893.1,1953.0 1890.1,1958.9 1885.8,1962.8 C1881.6,1966.7 1880.8,1966.3 1869.4,1967.4 C1858.1,1968.6 1827.7,1970.2 1817.9,1969.8 C1808.1,1969.4 1812.0,1965.9 1810.9,1965.1" stroke-width="3.5"/>
<path d="M1824.9,1850.3 L1848.4,1871.4 L1844.8,1906.5" stroke-width="2.5"/>
<path d="M1848.4,1871.4 L1885.8,1869.0" stroke-width="2.5"/>
<path d="M1848.4,1941.7 L1892.9,1940.5" stroke-width="2.5"/>
<path d="M1848.4,1941.7 L1827.3,1967.4" stroke-width="2.5"/>
<path d="M1844.8,1920.6 L1850.7,1941.7" stroke-width="2.5"/>
<path d="M1862.4,1906.5 C1863.6,1907.3 1867.1,1911.6 1869.4,1911.2 C1871.8,1910.8 1875.3,1905.4 1876.5,1904.2" stroke-width="3"/>
<path d="M1888.2,1857.3 L1897.6,1845.6 L1906.9,1843.3 L1939.7,1864.3 L1942.1,1941.7 L1932.7,1953.4 L1911.6,1967.4 L1899.9,1965.1 L1890.5,1958.1" stroke-width="3.5"/>
<path d="M1928.0,1866.7 L1930.4,1941.7" stroke-width="2.5"/>
<path d="M1899.9,1857.3 C1902.2,1858.5 1910.1,1857.7 1914.0,1864.3 C1917.9,1871.0 1922.2,1885.8 1923.3,1897.2 C1924.5,1908.5 1924.5,1922.9 1921.0,1932.3 C1917.5,1941.7 1905.4,1949.9 1902.2,1953.4" stroke-width="2.5"/>
<path d="M1943.3,1903.0 L1984.3,1903.0" stroke-width="2.5"/>
<path d="M2091.9,1860.8 C2095.3,1858.1 2104.0,1848.2 2112.1,1844.7 C2120.2,1841.2 2130.2,1839.8 2140.3,1839.8 C2150.4,1839.8 2164.2,1841.2 2172.6,1844.7 C2181.0,1848.2 2187.4,1855.4 2190.7,1860.8 C2194.1,1866.2 2193.8,1872.2 2192.7,1876.9 C2191.7,1881.6 2189.4,1885.7 2184.7,1889.0 C2180.0,1892.4 2167.9,1895.8 2164.5,1897.1" stroke-width="3"/>
<path d="M2091.9,1860.8 C2092.3,1864.2 2090.6,1875.6 2094.0,1881.0 C2097.3,1886.3 2105.7,1890.4 2112.1,1893.1 C2118.5,1895.8 2128.9,1896.4 2132.3,1897.1" stroke-width="2.5"/>
<path d="M2124.2,1836.6 C2129.6,1835.3 2145.7,1828.5 2156.5,1828.5 C2167.2,1828.5 2181.3,1832.6 2188.7,1836.6 C2196.1,1840.6 2196.8,1848.0 2200.8,1852.7 C2204.8,1857.4 2210.2,1860.1 2212.9,1864.8 C2215.6,1869.5 2217.6,1875.6 2216.9,1881.0 C2216.3,1886.3 2210.2,1894.4 2208.9,1897.1" stroke-width="3"/>
<path d="M2192.7,1876.9 C2192.7,1884.3 2196.1,1911.2 2192.7,1921.3 C2189.4,1931.4 2181.3,1933.7 2172.6,1937.4 C2163.8,1941.1 2153.8,1943.5 2140.3,1943.5 C2126.9,1943.5 2105.4,1941.1 2091.9,1937.4 C2078.5,1933.7 2065.1,1924.0 2059.7,1921.3" stroke-width="3"/>
<path d="M2059.7,1876.9 L2091.9,1874.9" stroke-width="2.5"/>
<path d="M2059.7,1921.3 L2091.9,1925.3" stroke-width="2.5"/>
<path d="M2094.0,1881.0 L2094.0,1921.3" stroke-width="2.5"/>
<path d="M2017.3,1868.9 L2031.5,1860.8 L2051.6,1862.8 L2059.7,1876.9 L2061.7,1929.4 L2051.6,1939.4 L2031.5,1939.4 L2019.4,1929.4 L2017.3,1868.9" stroke-width="3"/>
<path d="M2029.4,1860.8 L2033.5,1939.4" stroke-width="2"/>
<path d="M2019.4,1897.1 L2055.6,1897.1" stroke-width="2"/>
<path d="M1995.2,1881.0 C1995.2,1875.7 1999.1,1883.8 2000.3,1887.5 C2001.5,1891.2 2002.4,1897.9 2002.4,1903.1 C2002.4,1908.4 2001.5,1915.1 2000.3,1918.8 C1999.1,1922.5 1996.9,1925.3 1995.2,1925.3 C1993.5,1925.3 1991.2,1922.5 1990.0,1918.8 C1988.8,1915.1 1987.9,1908.4 1987.9,1903.1 C1987.9,1897.9 1988.8,1891.2 1990.0,1887.5 C1991.2,1883.8 1993.5,1881.0 1995.2,1881.0 C1996.9,1881.0 1999.1,1883.8 2000.3,1887.5 C2001.5,1891.2 2002.4,1897.9 2002.4,1903.1 C2002.4,1908.4 2001.5,1922.5 2000.3,1918.8 C1999.1,1915.1 1995.2,1886.2 1995.2,1881.0 Z" stroke-width="2.5"/>
<path d="M2003.2,1881.0 C2003.8,1881.5 2005.8,1882.1 2006.9,1883.9 C2007.9,1885.8 2008.9,1888.9 2009.5,1892.1 C2010.1,1895.3 2010.5,1899.4 2010.5,1903.1 C2010.5,1906.8 2010.1,1911.0 2009.5,1914.2 C2008.9,1917.4 2007.9,1920.5 2006.9,1922.4 C2005.8,1924.2 2003.8,1924.8 2003.2,1925.3" stroke-width="2.5"/>
<path d="M2011.3,1881.0 C2011.9,1881.5 2013.9,1882.1 2014.9,1883.9 C2016.0,1885.8 2017.0,1888.9 2017.6,1892.1 C2018.2,1895.3 2018.5,1899.4 2018.5,1903.1 C2018.5,1906.8 2018.2,1911.0 2017.6,1914.2 C2017.0,1917.4 2016.0,1920.5 2014.9,1922.4 C2013.9,1924.2 2011.9,1924.8 2011.3,1925.3" stroke-width="2.5"/>
<path d="M2055.6,1937.4 L2049.6,1985.8" stroke-width="2.5"/>
<path d="M2212.9,1901.1 L2206.9,1961.6 L2204.8,2001.9" stroke-width="2.5"/>
<path d="M2059.7,1941.5 C2071.8,1944.5 2107.4,1958.9 2132.3,1959.6 C2157.1,1960.3 2196.1,1947.8 2208.9,1945.5" stroke-width="2.5"/>
<path d="M2011.3,2006.0 L2007.3,2082.6 L2011.3,2094.7" stroke-width="3"/>
<path d="M2011.3,2006.0 L2027.4,1997.9" stroke-width="2.5"/>
<path d="M2063.7,2001.9 C2071.8,2005.3 2096.6,2018.1 2112.1,2022.1 C2127.6,2026.1 2143.0,2026.8 2156.5,2026.1 C2169.9,2025.5 2186.7,2019.4 2192.7,2018.1" stroke-width="2.5"/>
<path d="M2007.3,2074.5 C2016.7,2073.2 2040.2,2065.8 2063.7,2066.5 C2087.2,2067.1 2124.9,2075.9 2148.4,2078.5 C2171.9,2081.2 2195.4,2081.9 2204.8,2082.6" stroke-width="2.5"/>
<path d="M2204.8,2034.2 L2202.8,2118.9" stroke-width="2.5"/>
<path d="M2063.7,2018.1 L2059.7,2066.5" stroke-width="2.5"/>
<path d="M2150.4,2034.2 L2148.4,2078.5" stroke-width="2.5"/>
<path d="M2062.5,1993.9 C2062.5,1995.1 2062.0,1996.4 2061.1,1997.6 C2060.2,1998.7 2058.8,1999.8 2057.2,2000.7 C2055.5,2001.6 2053.4,2002.3 2051.3,2002.8 C2049.2,2003.3 2046.7,2003.5 2044.4,2003.5 C2042.0,2003.5 2039.5,2003.3 2037.4,2002.8 C2035.3,2002.3 2033.2,2001.6 2031.5,2000.7 C2029.9,1999.8 2028.5,1998.7 2027.6,1997.6 C2026.7,1996.4 2026.2,1995.1 2026.2,1993.9 C2026.2,1992.6 2026.7,1991.3 2027.6,1990.2 C2028.5,1989.0 2029.9,1987.9 2031.5,1987.0 C2033.2,1986.2 2035.3,1985.4 2037.4,1984.9 C2039.5,1984.5 2042.0,1984.2 2044.4,1984.2 C2046.7,1984.2 2049.2,1984.5 2051.3,1984.9 C2053.4,1985.4 2055.5,1986.2 2057.2,1987.0 C2058.8,1987.9 2060.2,1989.0 2061.1,1990.2 C2062.0,1991.3 2062.5,1992.6 2062.5,1993.9 Z" stroke-width="3"/>
<path d="M2026.2,1993.9 C2026.2,1997.2 2023.2,2009.3 2026.2,2014.0 C2029.2,2018.7 2038.3,2022.1 2044.4,2022.1 C2050.4,2022.1 2059.5,2018.7 2062.5,2014.0 C2065.5,2009.3 2062.5,1997.2 2062.5,1993.9" stroke-width="2.5"/>
<path d="M2195.6,2022.1 C2195.6,2023.2 2195.1,2024.4 2194.3,2025.5 C2193.4,2026.5 2192.1,2027.6 2190.6,2028.4 C2189.1,2029.2 2187.1,2029.9 2185.1,2030.3 C2183.1,2030.7 2180.8,2031.0 2178.6,2031.0 C2176.5,2031.0 2174.1,2030.7 2172.1,2030.3 C2170.2,2029.9 2168.2,2029.2 2166.7,2028.4 C2165.1,2027.6 2163.8,2026.5 2163.0,2025.5 C2162.2,2024.4 2161.7,2023.2 2161.7,2022.1 C2161.7,2021.0 2162.2,2019.7 2163.0,2018.7 C2163.8,2017.7 2165.1,2016.6 2166.7,2015.8 C2168.2,2015.0 2170.2,2014.3 2172.1,2013.9 C2174.1,2013.5 2176.5,2013.2 2178.6,2013.2 C2180.8,2013.2 2183.1,2013.5 2185.1,2013.9 C2187.1,2014.3 2189.1,2015.0 2190.6,2015.8 C2192.1,2016.6 2193.4,2017.7 2194.3,2018.7 C2195.1,2019.7 2195.6,2021.0 2195.6,2022.1 Z" stroke-width="3"/>
<path d="M2161.7,2022.1 C2161.8,2025.5 2159.7,2037.9 2162.5,2042.3 C2165.3,2046.6 2172.9,2048.3 2178.6,2048.3 C2184.3,2048.3 2194.0,2046.6 2196.8,2042.3 C2199.6,2037.9 2195.8,2025.5 2195.6,2022.1" stroke-width="2.5"/>
<path d="M2144.4,2102.7 C2145.0,2105.4 2143.7,2115.2 2148.4,2118.9 C2153.1,2122.6 2164.5,2124.9 2172.6,2124.9 C2180.6,2124.9 2191.7,2121.9 2196.8,2118.9 C2201.8,2115.8 2201.8,2108.8 2202.8,2106.8" stroke-width="2.5"/>
<path d="M2011.3,2094.7 C2012.0,2099.4 2012.6,2114.2 2015.3,2122.9 C2018.0,2131.6 2023.4,2139.7 2027.4,2147.1 C2031.5,2154.5 2028.8,2161.9 2039.5,2167.3 C2050.3,2172.6 2075.1,2178.0 2091.9,2179.4 C2108.7,2180.7 2126.9,2178.0 2140.3,2175.3 C2153.8,2172.6 2165.2,2168.6 2172.6,2163.2 C2180.0,2157.8 2182.7,2149.8 2184.7,2143.1 C2186.7,2136.3 2184.7,2126.3 2184.7,2122.9" stroke-width="3"/>
<path d="M2015.3,2094.7 C2018.0,2095.3 2024.7,2098.7 2031.5,2098.7 C2038.2,2098.7 2051.6,2095.3 2055.6,2094.7" stroke-width="2.5"/>
<path d="M2017.3,2110.8 C2017.7,2114.2 2017.0,2124.9 2019.4,2131.0 C2021.7,2137.0 2029.4,2144.4 2031.5,2147.1" stroke-width="2"/>
<path d="M2043.5,2167.3 C2051.6,2167.9 2075.8,2171.3 2091.9,2171.3 C2108.1,2171.3 2128.2,2169.3 2140.3,2167.3 C2152.4,2165.2 2160.5,2160.5 2164.5,2159.2" stroke-width="2.5"/>
<path d="M1942.7,2098.7 L1958.9,2090.6 L1983.1,2094.7 L1997.2,2114.8 L1995.2,2183.4 L1983.1,2195.5 L1958.9,2193.5 L1946.8,2183.4 L1942.7,2098.7" stroke-width="3"/>
<path d="M1958.9,2098.7 L1960.9,2193.5" stroke-width="2"/>
<path d="M1946.8,2135.0 L1993.1,2135.0" stroke-width="2"/>
<path d="M1946.8,2159.2 L1993.1,2159.2" stroke-width="2"/>
<path d="M1909.3,2147.1 C1909.3,2151.1 1909.0,2155.4 1908.6,2159.1 C1908.2,2162.8 1907.5,2166.5 1906.7,2169.3 C1905.9,2172.2 1904.8,2174.6 1903.8,2176.2 C1902.8,2177.7 1901.5,2178.5 1900.4,2178.5 C1899.3,2178.5 1898.1,2177.7 1897.0,2176.2 C1896.0,2174.6 1894.9,2172.2 1894.1,2169.3 C1893.3,2166.5 1892.6,2162.8 1892.2,2159.1 C1891.8,2155.4 1891.5,2151.1 1891.5,2147.1 C1891.5,2143.1 1891.8,2138.8 1892.2,2135.1 C1892.6,2131.4 1893.3,2127.7 1894.1,2124.9 C1894.9,2122.0 1896.0,2119.6 1897.0,2118.0 C1898.1,2116.5 1899.3,2115.6 1900.4,2115.6 C1901.5,2115.6 1902.8,2116.5 1903.8,2118.0 C1904.8,2119.6 1905.9,2122.0 1906.7,2124.9 C1907.5,2127.7 1908.2,2131.4 1908.6,2135.1 C1909.0,2138.8 1909.3,2143.1 1909.3,2147.1 Z" stroke-width="3.5"/>
<path d="M1905.2,2147.1 C1905.2,2150.2 1905.1,2153.5 1904.9,2156.4 C1904.6,2159.2 1904.3,2162.0 1903.8,2164.2 C1903.4,2166.4 1902.8,2168.3 1902.3,2169.4 C1901.7,2170.6 1901.0,2171.3 1900.4,2171.3 C1899.8,2171.3 1899.1,2170.6 1898.6,2169.4 C1898.0,2168.3 1897.4,2166.4 1897.0,2164.2 C1896.5,2162.0 1896.2,2159.2 1895.9,2156.4 C1895.7,2153.5 1895.6,2150.2 1895.6,2147.1 C1895.6,2144.0 1895.7,2140.7 1895.9,2137.8 C1896.2,2135.0 1896.5,2132.2 1897.0,2130.0 C1897.4,2127.8 1898.0,2125.9 1898.6,2124.7 C1899.1,2123.6 1899.8,2122.9 1900.4,2122.9 C1901.0,2122.9 1901.7,2123.6 1902.3,2124.7 C1902.8,2125.9 1903.4,2127.8 1903.8,2130.0 C1904.3,2132.2 1904.6,2135.0 1904.9,2137.8 C1905.1,2140.7 1905.2,2144.0 1905.2,2147.1 Z" stroke-width="4"/>
<path d="M1914.5,2114.8 C1915.1,2115.6 1917.1,2116.5 1918.1,2119.2 C1919.2,2121.8 1920.2,2126.3 1920.8,2131.0 C1921.4,2135.6 1921.8,2141.7 1921.8,2147.1 C1921.8,2152.5 1921.4,2158.6 1920.8,2163.2 C1920.2,2167.9 1919.2,2172.3 1918.1,2175.0 C1917.1,2177.7 1915.1,2178.6 1914.5,2179.4" stroke-width="2.5"/>
<path d="M1928.6,2114.8 C1929.2,2115.6 1931.2,2116.5 1932.3,2119.2 C1933.3,2121.8 1934.3,2126.3 1934.9,2131.0 C1935.5,2135.6 1935.9,2141.7 1935.9,2147.1 C1935.9,2152.5 1935.5,2158.6 1934.9,2163.2 C1934.3,2167.9 1933.3,2172.3 1932.3,2175.0 C1931.2,2177.7 1929.2,2178.6 1928.6,2179.4" stroke-width="2.5"/>
<path d="M1942.7,2114.8 C1943.3,2115.6 1945.3,2116.5 1946.4,2119.2 C1947.4,2121.8 1948.4,2126.3 1949.0,2131.0 C1949.6,2135.6 1950.0,2141.7 1950.0,2147.1 C1950.0,2152.5 1949.6,2158.6 1949.0,2163.2 C1948.4,2167.9 1947.4,2172.3 1946.4,2175.0 C1945.3,2177.7 1943.3,2178.6 1942.7,2179.4" stroke-width="2.5"/>
<path d="M1997.2,2106.8 L2019.4,2102.7" stroke-width="2.5"/>
<path d="M1995.2,2183.4 L2019.4,2179.4" stroke-width="2.5"/>
<path d="M1914.5,2241.9 C1916.2,2244.9 1892.3,2245.6 1924.6,2260.0 C1956.9,2274.4 2073.5,2316.1 2108.1,2328.5 C2142.7,2341.0 2124.2,2334.9 2132.3,2334.6 C2140.3,2334.3 2132.3,2347.0 2156.5,2326.5 C2180.6,2306.0 2257.9,2232.4 2277.4,2211.6 C2296.9,2190.8 2274.1,2203.2 2273.4,2201.5" stroke-width="3.5"/>
<path d="M1942.7,2249.9 L2104.0,2308.4" stroke-width="2.5"/>
<path d="M2156.5,2308.4 L2249.2,2227.7" stroke-width="2.5"/>
<path d="M1999.2,2191.5 C1999.9,2195.5 1999.2,2208.3 2003.2,2215.6 C2007.3,2223.0 2014.7,2230.4 2023.4,2235.8 C2032.1,2241.2 2050.3,2245.9 2055.6,2247.9" stroke-width="2.5"/>
<path d="M2096.0,2254.0 C2102.0,2253.3 2120.8,2252.9 2132.3,2249.9 C2143.7,2246.9 2157.1,2243.5 2164.5,2235.8 C2171.9,2228.1 2175.9,2214.3 2176.6,2203.5 C2177.3,2192.8 2169.9,2176.7 2168.5,2171.3" stroke-width="2.5"/>
<path d="M1960.8,2207.6 C1960.8,2208.5 1960.4,2209.5 1959.7,2210.3 C1959.1,2211.1 1958.0,2211.9 1956.7,2212.5 C1955.4,2213.2 1953.8,2213.7 1952.2,2214.1 C1950.5,2214.4 1948.6,2214.6 1946.8,2214.6 C1945.0,2214.6 1943.1,2214.4 1941.4,2214.1 C1939.8,2213.7 1938.2,2213.2 1936.9,2212.5 C1935.6,2211.9 1934.5,2211.1 1933.9,2210.3 C1933.2,2209.5 1932.8,2208.5 1932.8,2207.6 C1932.8,2206.7 1933.2,2205.7 1933.9,2204.9 C1934.5,2204.1 1935.6,2203.3 1936.9,2202.7 C1938.2,2202.0 1939.8,2201.5 1941.4,2201.1 C1943.1,2200.8 1945.0,2200.6 1946.8,2200.6 C1948.6,2200.6 1950.5,2200.8 1952.2,2201.1 C1953.8,2201.5 1955.4,2202.0 1956.7,2202.7 C1958.0,2203.3 1959.1,2204.1 1959.7,2204.9 C1960.4,2205.7 1960.8,2206.7 1960.8,2207.6 Z" stroke-width="3"/>
<path d="M1960.3,2218.7 C1960.1,2219.0 1959.5,2220.0 1958.9,2220.6 C1958.3,2221.2 1957.6,2221.8 1956.7,2222.3 C1955.8,2222.7 1954.8,2223.2 1953.8,2223.5 C1952.8,2223.9 1951.6,2224.1 1950.4,2224.3 C1949.3,2224.5 1948.0,2224.6 1946.8,2224.6 C1945.6,2224.6 1944.3,2224.5 1943.2,2224.3 C1942.0,2224.1 1940.8,2223.9 1939.8,2223.5 C1938.8,2223.2 1937.8,2222.7 1936.9,2222.3 C1936.0,2221.8 1935.3,2221.2 1934.7,2220.6 C1934.1,2220.0 1933.5,2219.0 1933.3,2218.7" stroke-width="3"/>
<path d="M1934.5,2237.5 C1933.3,2237.1 1929.5,2236.2 1927.3,2235.2 C1925.1,2234.3 1923.1,2233.1 1921.4,2231.9 C1919.7,2230.6 1918.3,2229.2 1917.2,2227.7 C1916.2,2226.2 1915.4,2224.6 1915.1,2222.9 C1914.7,2221.3 1914.7,2219.7 1915.1,2218.1 C1915.5,2216.5 1916.3,2214.8 1917.3,2213.4 C1918.4,2211.9 1919.9,2210.4 1921.6,2209.2 C1923.3,2207.9 1926.6,2206.4 1927.6,2205.9" stroke-width="3"/>
<path d="M1952.6,2203.2 C1953.8,2203.5 1957.6,2204.2 1959.8,2205.0 C1962.0,2205.8 1964.2,2206.8 1966.0,2207.9 C1967.8,2209.0 1969.5,2210.3 1970.8,2211.6 C1972.1,2212.9 1973.1,2214.4 1973.8,2215.9 C1974.4,2217.4 1974.8,2219.0 1974.8,2220.6 C1974.8,2222.2 1974.4,2223.8 1973.8,2225.3 C1973.1,2226.8 1972.1,2228.3 1970.8,2229.6 C1969.5,2230.9 1967.8,2232.2 1966.0,2233.3 C1964.2,2234.4 1960.8,2235.7 1959.8,2236.2" stroke-width="3"/>
<path d="M2147.5,2269.8 C2147.5,2270.7 2147.1,2271.7 2146.4,2272.5 C2145.8,2273.3 2144.7,2274.1 2143.4,2274.7 C2142.1,2275.4 2140.5,2275.9 2138.9,2276.3 C2137.2,2276.6 2135.3,2276.8 2133.5,2276.8 C2131.7,2276.8 2129.8,2276.6 2128.1,2276.3 C2126.5,2275.9 2124.9,2275.4 2123.6,2274.7 C2122.3,2274.1 2121.2,2273.3 2120.6,2272.5 C2119.9,2271.7 2119.5,2270.7 2119.5,2269.8 C2119.5,2268.9 2119.9,2267.9 2120.6,2267.1 C2121.2,2266.3 2122.3,2265.5 2123.6,2264.9 C2124.9,2264.2 2126.5,2263.7 2128.1,2263.3 C2129.8,2263.0 2131.7,2262.8 2133.5,2262.8 C2135.3,2262.8 2137.2,2263.0 2138.9,2263.3 C2140.5,2263.7 2142.1,2264.2 2143.4,2264.9 C2144.7,2265.5 2145.8,2266.3 2146.4,2267.1 C2147.1,2267.9 2147.5,2268.9 2147.5,2269.8 Z" stroke-width="3"/>
<path d="M2147.0,2280.9 C2146.8,2281.2 2146.2,2282.2 2145.6,2282.8 C2145.0,2283.4 2144.3,2284.0 2143.4,2284.5 C2142.5,2284.9 2141.5,2285.4 2140.5,2285.7 C2139.5,2286.1 2138.3,2286.3 2137.1,2286.5 C2136.0,2286.7 2134.7,2286.8 2133.5,2286.8 C2132.3,2286.8 2131.0,2286.7 2129.9,2286.5 C2128.7,2286.3 2127.5,2286.1 2126.5,2285.7 C2125.5,2285.4 2124.5,2284.9 2123.6,2284.5 C2122.7,2284.0 2122.0,2283.4 2121.4,2282.8 C2120.8,2282.2 2120.2,2281.2 2120.0,2280.9" stroke-width="3"/>
<path d="M2121.2,2299.7 C2120.0,2299.3 2116.2,2298.4 2114.0,2297.4 C2111.8,2296.5 2109.8,2295.3 2108.1,2294.1 C2106.4,2292.8 2105.0,2291.4 2103.9,2289.9 C2102.9,2288.4 2102.1,2286.8 2101.8,2285.1 C2101.4,2283.5 2101.4,2281.9 2101.8,2280.3 C2102.2,2278.7 2103.0,2277.0 2104.0,2275.6 C2105.1,2274.1 2106.6,2272.6 2108.3,2271.4 C2110.0,2270.1 2113.3,2268.6 2114.3,2268.1" stroke-width="3"/>
<path d="M2139.3,2265.4 C2140.5,2265.7 2144.3,2266.4 2146.5,2267.2 C2148.7,2268.0 2150.9,2269.0 2152.7,2270.1 C2154.5,2271.2 2156.2,2272.5 2157.5,2273.8 C2158.8,2275.1 2159.8,2276.6 2160.5,2278.1 C2161.1,2279.6 2161.5,2281.2 2161.5,2282.8 C2161.5,2284.4 2161.1,2286.0 2160.5,2287.5 C2159.8,2289.0 2158.8,2290.5 2157.5,2291.8 C2156.2,2293.1 2154.5,2294.4 2152.7,2295.5 C2150.9,2296.6 2147.5,2297.9 2146.5,2298.4" stroke-width="3"/>
<path d="M2266.0,2183.4 C2266.0,2184.3 2265.6,2185.3 2264.9,2186.1 C2264.3,2186.9 2263.2,2187.7 2261.9,2188.3 C2260.6,2189.0 2259.0,2189.5 2257.4,2189.9 C2255.7,2190.2 2253.8,2190.4 2252.0,2190.4 C2250.2,2190.4 2248.3,2190.2 2246.6,2189.9 C2245.0,2189.5 2243.4,2189.0 2242.1,2188.3 C2240.8,2187.7 2239.7,2186.9 2239.1,2186.1 C2238.4,2185.3 2238.0,2184.3 2238.0,2183.4 C2238.0,2182.5 2238.4,2181.5 2239.1,2180.7 C2239.7,2179.9 2240.8,2179.1 2242.1,2178.5 C2243.4,2177.8 2245.0,2177.3 2246.6,2176.9 C2248.3,2176.6 2250.2,2176.4 2252.0,2176.4 C2253.8,2176.4 2255.7,2176.6 2257.4,2176.9 C2259.0,2177.3 2260.6,2177.8 2261.9,2178.5 C2263.2,2179.1 2264.3,2179.9 2264.9,2180.7 C2265.6,2181.5 2266.0,2182.5 2266.0,2183.4 Z" stroke-width="3"/>
<path d="M2265.5,2194.5 C2265.3,2194.8 2264.7,2195.8 2264.1,2196.4 C2263.5,2197.0 2262.8,2197.6 2261.9,2198.1 C2261.0,2198.5 2260.0,2199.0 2259.0,2199.3 C2258.0,2199.7 2256.8,2199.9 2255.6,2200.1 C2254.5,2200.3 2253.2,2200.4 2252.0,2200.4 C2250.8,2200.4 2249.5,2200.3 2248.4,2200.1 C2247.2,2199.9 2246.0,2199.7 2245.0,2199.3 C2244.0,2199.0 2243.0,2198.5 2242.1,2198.1 C2241.2,2197.6 2240.5,2197.0 2239.9,2196.4 C2239.3,2195.8 2238.7,2194.8 2238.5,2194.5" stroke-width="3"/>
<path d="M2239.7,2213.3 C2238.5,2212.9 2234.7,2212.0 2232.5,2211.0 C2230.3,2210.1 2228.3,2208.9 2226.6,2207.7 C2224.9,2206.4 2223.5,2205.0 2222.4,2203.5 C2221.4,2202.0 2220.6,2200.4 2220.3,2198.7 C2219.9,2197.1 2219.9,2195.5 2220.3,2193.9 C2220.7,2192.3 2221.5,2190.6 2222.5,2189.2 C2223.6,2187.7 2225.1,2186.2 2226.8,2185.0 C2228.5,2183.7 2231.8,2182.2 2232.8,2181.7" stroke-width="3"/>
<path d="M2257.8,2179.0 C2259.0,2179.3 2262.8,2180.0 2265.0,2180.8 C2267.2,2181.6 2269.4,2182.6 2271.2,2183.7 C2273.0,2184.8 2274.7,2186.1 2276.0,2187.4 C2277.3,2188.7 2278.3,2190.2 2279.0,2191.7 C2279.6,2193.2 2280.0,2194.8 2280.0,2196.4 C2280.0,2198.0 2279.6,2199.6 2279.0,2201.1 C2278.3,2202.6 2277.3,2204.1 2276.0,2205.4 C2274.7,2206.7 2273.0,2208.0 2271.2,2209.1 C2269.4,2210.2 2266.0,2211.5 2265.0,2212.0" stroke-width="3"/>
<path d="M2225.0,2024.1 L2406.5,2050.3" stroke-width="2.5"/>
<path d="M2184.7,2126.9 L2341.9,2147.1" stroke-width="2.5"/>
<path d="M2499.2,2116.9 C2499.2,2123.8 2498.8,2131.3 2498.1,2137.7 C2497.4,2144.1 2496.3,2150.4 2495.1,2155.3 C2493.8,2160.3 2492.1,2164.5 2490.5,2167.1 C2488.8,2169.8 2486.9,2171.3 2485.1,2171.3 C2483.3,2171.3 2481.3,2169.8 2479.7,2167.1 C2478.0,2164.5 2476.4,2160.3 2475.1,2155.3 C2473.8,2150.4 2472.7,2144.1 2472.0,2137.7 C2471.4,2131.3 2471.0,2123.8 2471.0,2116.9 C2471.0,2109.9 2471.4,2102.4 2472.0,2096.0 C2472.7,2089.6 2473.8,2083.3 2475.1,2078.4 C2476.4,2073.5 2478.0,2069.2 2479.7,2066.6 C2481.3,2063.9 2483.3,2062.4 2485.1,2062.4 C2486.9,2062.4 2488.8,2063.9 2490.5,2066.6 C2492.1,2069.2 2493.8,2073.5 2495.1,2078.4 C2496.3,2083.3 2497.4,2089.6 2498.1,2096.0 C2498.8,2102.4 2499.2,2109.9 2499.2,2116.9 Z" stroke-width="3"/>
<path d="M2446.8,2058.4 L2487.1,2063.2" stroke-width="2.5"/>
<path d="M2414.5,2161.2 L2471.0,2169.3" stroke-width="2.5"/>
<path d="M2404.1,2058.9 C2404.7,2057.4 2406.2,2052.7 2407.7,2050.0 C2409.3,2047.2 2411.3,2044.6 2413.5,2042.4 C2415.7,2040.2 2418.3,2038.3 2421.0,2036.8 C2423.7,2035.4 2426.7,2034.3 2429.7,2033.6 C2432.7,2033.0 2435.9,2032.9 2438.9,2033.1 C2441.9,2033.4 2445.0,2034.2 2447.8,2035.3 C2450.7,2036.5 2453.4,2038.1 2455.9,2040.0 C2458.3,2042.0 2460.5,2044.4 2462.4,2046.9 C2464.2,2049.5 2465.7,2052.5 2466.8,2055.5 C2467.9,2058.5 2468.5,2063.4 2468.9,2064.9" stroke-width="2.4"/>
<path d="M2412.1,2045.9 C2412.7,2044.4 2414.2,2039.7 2415.7,2037.0 C2417.3,2034.2 2419.3,2031.6 2421.5,2029.4 C2423.7,2027.2 2426.3,2025.3 2429.0,2023.8 C2431.7,2022.4 2434.7,2021.3 2437.7,2020.6 C2440.7,2020.0 2443.9,2019.9 2446.9,2020.1 C2449.9,2020.4 2453.0,2021.2 2455.8,2022.3 C2458.7,2023.5 2461.4,2025.1 2463.9,2027.0 C2466.3,2029.0 2468.5,2031.4 2470.4,2033.9 C2472.2,2036.5 2473.7,2039.5 2474.8,2042.5 C2475.9,2045.5 2476.5,2050.4 2476.9,2051.9" stroke-width="2.4"/>
<path d="M2420.1,2032.9 C2420.7,2031.4 2422.2,2026.7 2423.7,2024.0 C2425.3,2021.2 2427.3,2018.6 2429.5,2016.4 C2431.7,2014.2 2434.3,2012.3 2437.0,2010.8 C2439.7,2009.4 2442.7,2008.3 2445.7,2007.6 C2448.7,2007.0 2451.9,2006.9 2454.9,2007.1 C2457.9,2007.4 2461.0,2008.2 2463.8,2009.3 C2466.7,2010.5 2469.4,2012.1 2471.9,2014.0 C2474.3,2016.0 2476.5,2018.4 2478.4,2020.9 C2480.2,2023.5 2481.7,2026.5 2482.8,2029.5 C2483.9,2032.5 2484.5,2037.4 2484.9,2038.9" stroke-width="2.4"/>
<path d="M2428.1,2019.9 C2428.7,2018.4 2430.2,2013.7 2431.7,2011.0 C2433.3,2008.2 2435.3,2005.6 2437.5,2003.4 C2439.7,2001.2 2442.3,1999.3 2445.0,1997.8 C2447.7,1996.4 2450.7,1995.3 2453.7,1994.6 C2456.7,1994.0 2459.9,1993.9 2462.9,1994.1 C2465.9,1994.4 2469.0,1995.2 2471.8,1996.3 C2474.7,1997.5 2477.4,1999.1 2479.9,2001.0 C2482.3,2003.0 2484.5,2005.4 2486.4,2007.9 C2488.2,2010.5 2489.7,2013.5 2490.8,2016.5 C2491.9,2019.5 2492.5,2024.4 2492.9,2025.9" stroke-width="2.4"/>
<path d="M2321.2,2186.6 C2321.8,2185.0 2323.3,2180.0 2324.8,2177.0 C2326.4,2174.0 2328.3,2171.2 2330.5,2168.7 C2332.7,2166.3 2335.3,2164.1 2338.0,2162.4 C2340.7,2160.6 2343.7,2159.3 2346.7,2158.4 C2349.7,2157.5 2352.9,2157.0 2356.0,2157.0 C2359.1,2157.0 2362.3,2157.5 2365.3,2158.4 C2368.3,2159.3 2371.3,2160.6 2374.0,2162.4 C2376.7,2164.1 2379.3,2166.3 2381.5,2168.7 C2383.7,2171.2 2385.6,2174.0 2387.2,2177.0 C2388.7,2180.0 2390.0,2183.3 2390.8,2186.6 C2391.6,2190.0 2391.8,2195.3 2392.0,2197.0" stroke-width="2.4"/>
<path d="M2329.2,2174.6 C2329.8,2173.0 2331.3,2168.0 2332.8,2165.0 C2334.4,2162.0 2336.3,2159.2 2338.5,2156.7 C2340.7,2154.3 2343.3,2152.1 2346.0,2150.4 C2348.7,2148.6 2351.7,2147.3 2354.7,2146.4 C2357.7,2145.5 2360.9,2145.0 2364.0,2145.0 C2367.1,2145.0 2370.3,2145.5 2373.3,2146.4 C2376.3,2147.3 2379.3,2148.6 2382.0,2150.4 C2384.7,2152.1 2387.3,2154.3 2389.5,2156.7 C2391.7,2159.2 2393.6,2162.0 2395.2,2165.0 C2396.7,2168.0 2398.0,2171.3 2398.8,2174.6 C2399.6,2178.0 2399.8,2183.3 2400.0,2185.0" stroke-width="2.4"/>
<path d="M2337.2,2162.6 C2337.8,2161.0 2339.3,2156.0 2340.8,2153.0 C2342.4,2150.0 2344.3,2147.2 2346.5,2144.7 C2348.7,2142.3 2351.3,2140.1 2354.0,2138.4 C2356.7,2136.6 2359.7,2135.3 2362.7,2134.4 C2365.7,2133.5 2368.9,2133.0 2372.0,2133.0 C2375.1,2133.0 2378.3,2133.5 2381.3,2134.4 C2384.3,2135.3 2387.3,2136.6 2390.0,2138.4 C2392.7,2140.1 2395.3,2142.3 2397.5,2144.7 C2399.7,2147.2 2401.6,2150.0 2403.2,2153.0 C2404.7,2156.0 2406.0,2159.3 2406.8,2162.6 C2407.6,2166.0 2407.8,2171.3 2408.0,2173.0" stroke-width="2.4"/>
<path d="M2345.2,2150.6 C2345.8,2149.0 2347.3,2144.0 2348.8,2141.0 C2350.4,2138.0 2352.3,2135.2 2354.5,2132.7 C2356.7,2130.3 2359.3,2128.1 2362.0,2126.4 C2364.7,2124.6 2367.7,2123.3 2370.7,2122.4 C2373.7,2121.5 2376.9,2121.0 2380.0,2121.0 C2383.1,2121.0 2386.3,2121.5 2389.3,2122.4 C2392.3,2123.3 2395.3,2124.6 2398.0,2126.4 C2400.7,2128.1 2403.3,2130.3 2405.5,2132.7 C2407.7,2135.2 2409.6,2138.0 2411.2,2141.0 C2412.7,2144.0 2414.0,2147.3 2414.8,2150.6 C2415.6,2154.0 2415.8,2159.3 2416.0,2161.0" stroke-width="2.4"/>
<path d="M2353.2,2138.6 C2353.8,2137.0 2355.3,2132.0 2356.8,2129.0 C2358.4,2126.0 2360.3,2123.2 2362.5,2120.7 C2364.7,2118.3 2367.3,2116.1 2370.0,2114.4 C2372.7,2112.6 2375.7,2111.3 2378.7,2110.4 C2381.7,2109.5 2384.9,2109.0 2388.0,2109.0 C2391.1,2109.0 2394.3,2109.5 2397.3,2110.4 C2400.3,2111.3 2403.3,2112.6 2406.0,2114.4 C2408.7,2116.1 2411.3,2118.3 2413.5,2120.7 C2415.7,2123.2 2417.6,2126.0 2419.2,2129.0 C2420.7,2132.0 2422.0,2135.3 2422.8,2138.6 C2423.6,2142.0 2423.8,2147.3 2424.0,2149.0" stroke-width="2.4"/>
<path d="M2376.0,2220.9 C2374.4,2223.2 2372.0,2225.2 2369.1,2226.4 C2366.3,2227.6 2362.8,2228.2 2359.2,2228.1 C2355.6,2228.0 2351.5,2227.2 2347.7,2225.9 C2343.9,2224.5 2339.8,2222.4 2336.4,2220.0 C2332.9,2217.6 2329.6,2214.5 2327.0,2211.4 C2324.4,2208.3 2322.3,2204.7 2321.0,2201.4 C2319.7,2198.0 2319.0,2194.5 2319.2,2191.4 C2319.4,2188.4 2320.4,2185.4 2322.0,2183.1 C2323.6,2180.8 2326.0,2178.8 2328.9,2177.6 C2331.7,2176.4 2335.2,2175.8 2338.8,2175.9 C2342.4,2176.0 2346.5,2176.8 2350.3,2178.1 C2354.1,2179.5 2358.2,2181.6 2361.6,2184.0 C2365.1,2186.4 2368.4,2189.5 2371.0,2192.6 C2373.6,2195.7 2375.7,2199.3 2377.0,2202.6 C2378.3,2206.0 2379.0,2209.5 2378.8,2212.6 C2378.6,2215.6 2377.6,2218.6 2376.0,2220.9 Z" stroke-width="3"/>
<path d="M2367.7,2214.8 C2366.6,2216.2 2365.0,2217.4 2363.1,2218.1 C2361.2,2218.8 2358.7,2219.1 2356.2,2218.8 C2353.7,2218.6 2350.8,2217.9 2348.1,2216.9 C2345.4,2215.8 2342.5,2214.2 2340.0,2212.5 C2337.5,2210.7 2335.0,2208.5 2333.1,2206.3 C2331.1,2204.1 2329.5,2201.7 2328.4,2199.4 C2327.4,2197.1 2326.8,2194.7 2326.8,2192.7 C2326.8,2190.6 2327.3,2188.7 2328.3,2187.2 C2329.4,2185.8 2331.0,2184.6 2332.9,2183.9 C2334.8,2183.2 2337.3,2182.9 2339.8,2183.2 C2342.3,2183.4 2345.2,2184.1 2347.9,2185.1 C2350.6,2186.2 2353.5,2187.8 2356.0,2189.5 C2358.5,2191.3 2361.0,2193.5 2362.9,2195.7 C2364.9,2197.9 2366.5,2200.3 2367.6,2202.6 C2368.6,2204.9 2369.2,2207.3 2369.2,2209.3 C2369.2,2211.4 2368.7,2213.3 2367.7,2214.8 Z" stroke-width="2.5"/>
<path d="M2164.5,2157.2 L2309.7,2201.5" stroke-width="2.5"/>
<path d="M2069.1,2452.8 C2083.5,2437.8 2126.7,2388.9 2155.5,2362.9 C2184.4,2337.0 2210.3,2318.0 2242.0,2297.3 C2273.6,2276.5 2311.1,2256.1 2345.7,2238.5 C2380.2,2220.9 2432.1,2199.6 2449.4,2191.8" stroke-width="2.5"/>
<path d="M2093.3,2459.7 C2107.7,2445.3 2149.2,2399.8 2179.7,2373.3 C2210.3,2346.8 2246.0,2321.5 2276.5,2300.7 C2307.1,2280.0 2331.3,2265.3 2362.9,2248.9 C2394.6,2232.5 2449.4,2210.0 2466.6,2202.2" stroke-width="2.5"/>
<path d="M2122.7,2494.3 C2132.2,2483.9 2159.9,2451.1 2179.7,2432.1 C2199.6,2413.1 2220.1,2396.9 2242.0,2380.2 C2263.9,2363.5 2288.1,2346.2 2311.1,2331.8 C2334.1,2317.4 2352.3,2305.6 2380.2,2293.8 C2408.2,2282.0 2462.3,2266.4 2478.7,2261.0" stroke-width="2.5"/>
<path d="M2173.5,2451.1 C2173.5,2452.6 2173.3,2454.3 2172.9,2455.7 C2172.6,2457.1 2172.0,2458.6 2171.3,2459.6 C2170.6,2460.7 2169.7,2461.7 2168.8,2462.3 C2167.9,2462.9 2166.9,2463.2 2165.9,2463.2 C2164.9,2463.2 2163.9,2462.9 2163.0,2462.3 C2162.1,2461.7 2161.2,2460.7 2160.5,2459.6 C2159.9,2458.6 2159.3,2457.1 2158.9,2455.7 C2158.5,2454.3 2158.3,2452.6 2158.3,2451.1 C2158.3,2449.5 2158.5,2447.9 2158.9,2446.5 C2159.3,2445.0 2159.9,2443.6 2160.5,2442.5 C2161.2,2441.4 2162.1,2440.5 2163.0,2439.9 C2163.9,2439.3 2164.9,2439.0 2165.9,2439.0 C2166.9,2439.0 2167.9,2439.3 2168.8,2439.9 C2169.7,2440.5 2170.6,2441.4 2171.3,2442.5 C2172.0,2443.6 2172.6,2445.0 2172.9,2446.5 C2173.3,2447.9 2173.5,2449.5 2173.5,2451.1 Z" stroke-width="2.5"/>
<path d="M2172.8,2451.1 C2172.8,2452.2 2172.7,2453.4 2172.6,2454.4 C2172.4,2455.4 2172.1,2456.4 2171.8,2457.2 C2171.5,2458.0 2171.1,2458.7 2170.7,2459.1 C2170.3,2459.5 2169.8,2459.7 2169.4,2459.7 C2168.9,2459.7 2168.5,2459.5 2168.1,2459.1 C2167.6,2458.7 2167.2,2458.0 2166.9,2457.2 C2166.6,2456.4 2166.3,2455.4 2166.2,2454.4 C2166.0,2453.4 2165.9,2452.2 2165.9,2451.1 C2165.9,2450.0 2166.0,2448.8 2166.2,2447.8 C2166.3,2446.8 2166.6,2445.8 2166.9,2445.0 C2167.2,2444.2 2167.6,2443.5 2168.1,2443.1 C2168.5,2442.7 2168.9,2442.4 2169.4,2442.4 C2169.8,2442.4 2170.3,2442.7 2170.7,2443.1 C2171.1,2443.5 2171.5,2444.2 2171.8,2445.0 C2172.1,2445.8 2172.4,2446.8 2172.6,2447.8 C2172.7,2448.8 2172.8,2450.0 2172.8,2451.1 Z" stroke-width="2"/>
<path d="M2152.1,2416.5 C2148.6,2418.8 2135.7,2424.0 2131.4,2430.3 C2127.0,2436.7 2125.0,2447.6 2126.2,2454.5 C2127.3,2461.5 2133.4,2469.5 2138.3,2471.8 C2143.2,2474.1 2152.7,2468.9 2155.5,2468.4" stroke-width="2.2"/>
<path d="M2232.3,2385.4 C2232.3,2387.0 2232.1,2388.6 2231.7,2390.0 C2231.3,2391.5 2230.7,2392.9 2230.1,2394.0 C2229.4,2395.1 2228.5,2396.0 2227.6,2396.6 C2226.7,2397.2 2225.7,2397.5 2224.7,2397.5 C2223.7,2397.5 2222.7,2397.2 2221.8,2396.6 C2220.9,2396.0 2220.0,2395.1 2219.3,2394.0 C2218.6,2392.9 2218.0,2391.5 2217.7,2390.0 C2217.3,2388.6 2217.1,2387.0 2217.1,2385.4 C2217.1,2383.9 2217.3,2382.2 2217.7,2380.8 C2218.0,2379.4 2218.6,2377.9 2219.3,2376.9 C2220.0,2375.8 2220.9,2374.8 2221.8,2374.2 C2222.7,2373.6 2223.7,2373.3 2224.7,2373.3 C2225.7,2373.3 2226.7,2373.6 2227.6,2374.2 C2228.5,2374.8 2229.4,2375.8 2230.1,2376.9 C2230.7,2377.9 2231.3,2379.4 2231.7,2380.8 C2232.1,2382.2 2232.3,2383.9 2232.3,2385.4 Z" stroke-width="2.5"/>
<path d="M2231.6,2385.4 C2231.6,2386.5 2231.5,2387.7 2231.3,2388.7 C2231.2,2389.7 2230.9,2390.7 2230.6,2391.5 C2230.3,2392.3 2229.9,2393.0 2229.5,2393.4 C2229.1,2393.8 2228.6,2394.1 2228.1,2394.1 C2227.7,2394.1 2227.2,2393.8 2226.8,2393.4 C2226.4,2393.0 2226.0,2392.3 2225.7,2391.5 C2225.4,2390.7 2225.1,2389.7 2224.9,2388.7 C2224.8,2387.7 2224.7,2386.5 2224.7,2385.4 C2224.7,2384.3 2224.8,2383.1 2224.9,2382.1 C2225.1,2381.1 2225.4,2380.1 2225.7,2379.3 C2226.0,2378.5 2226.4,2377.9 2226.8,2377.4 C2227.2,2377.0 2227.7,2376.8 2228.1,2376.8 C2228.6,2376.8 2229.1,2377.0 2229.5,2377.4 C2229.9,2377.9 2230.3,2378.5 2230.6,2379.3 C2230.9,2380.1 2231.2,2381.1 2231.3,2382.1 C2231.5,2383.1 2231.6,2384.3 2231.6,2385.4 Z" stroke-width="2"/>
<path d="M2210.9,2350.8 C2207.4,2353.2 2194.4,2358.3 2190.1,2364.7 C2185.8,2371.0 2183.8,2382.0 2184.9,2388.9 C2186.1,2395.8 2192.1,2403.8 2197.0,2406.2 C2201.9,2408.5 2211.4,2403.3 2214.3,2402.7" stroke-width="2.2"/>
<path d="M2304.9,2324.9 C2304.9,2326.5 2304.7,2328.1 2304.3,2329.6 C2303.9,2331.0 2303.3,2332.4 2302.6,2333.5 C2302.0,2334.6 2301.1,2335.5 2300.2,2336.1 C2299.3,2336.7 2298.2,2337.0 2297.3,2337.0 C2296.3,2337.0 2295.3,2336.7 2294.4,2336.1 C2293.5,2335.5 2292.6,2334.6 2291.9,2333.5 C2291.2,2332.4 2290.6,2331.0 2290.2,2329.6 C2289.9,2328.1 2289.7,2326.5 2289.7,2324.9 C2289.7,2323.4 2289.9,2321.7 2290.2,2320.3 C2290.6,2318.9 2291.2,2317.5 2291.9,2316.4 C2292.6,2315.3 2293.5,2314.3 2294.4,2313.7 C2295.3,2313.2 2296.3,2312.8 2297.3,2312.8 C2298.2,2312.8 2299.3,2313.2 2300.2,2313.7 C2301.1,2314.3 2302.0,2315.3 2302.6,2316.4 C2303.3,2317.5 2303.9,2318.9 2304.3,2320.3 C2304.7,2321.7 2304.9,2323.4 2304.9,2324.9 Z" stroke-width="2.5"/>
<path d="M2304.2,2324.9 C2304.2,2326.0 2304.1,2327.2 2303.9,2328.2 C2303.8,2329.2 2303.5,2330.3 2303.2,2331.0 C2302.9,2331.8 2302.5,2332.5 2302.0,2332.9 C2301.6,2333.3 2301.2,2333.6 2300.7,2333.6 C2300.3,2333.6 2299.8,2333.3 2299.4,2332.9 C2299.0,2332.5 2298.6,2331.8 2298.3,2331.0 C2298.0,2330.3 2297.7,2329.2 2297.5,2328.2 C2297.4,2327.2 2297.3,2326.0 2297.3,2324.9 C2297.3,2323.8 2297.4,2322.6 2297.5,2321.6 C2297.7,2320.6 2298.0,2319.6 2298.3,2318.8 C2298.6,2318.0 2299.0,2317.4 2299.4,2316.9 C2299.8,2316.5 2300.3,2316.3 2300.7,2316.3 C2301.2,2316.3 2301.6,2316.5 2302.0,2316.9 C2302.5,2317.4 2302.9,2318.0 2303.2,2318.8 C2303.5,2319.6 2303.8,2320.6 2303.9,2321.6 C2304.1,2322.6 2304.2,2323.8 2304.2,2324.9 Z" stroke-width="2"/>
<path d="M2283.4,2290.4 C2280.0,2292.7 2267.0,2297.8 2262.7,2304.2 C2258.4,2310.5 2256.4,2321.5 2257.5,2328.4 C2258.7,2335.3 2264.7,2343.4 2269.6,2345.7 C2274.5,2348.0 2284.0,2342.8 2286.9,2342.2" stroke-width="2.2"/>
<path d="M2380.9,2283.4 C2380.9,2285.0 2380.7,2286.6 2380.3,2288.1 C2380.0,2289.5 2379.4,2290.9 2378.7,2292.0 C2378.0,2293.1 2377.1,2294.0 2376.2,2294.6 C2375.3,2295.2 2374.3,2295.5 2373.3,2295.5 C2372.3,2295.5 2371.3,2295.2 2370.4,2294.6 C2369.5,2294.0 2368.6,2293.1 2367.9,2292.0 C2367.3,2290.9 2366.7,2289.5 2366.3,2288.1 C2365.9,2286.6 2365.7,2285.0 2365.7,2283.4 C2365.7,2281.9 2365.9,2280.2 2366.3,2278.8 C2366.7,2277.4 2367.3,2276.0 2367.9,2274.9 C2368.6,2273.8 2369.5,2272.9 2370.4,2272.3 C2371.3,2271.7 2372.3,2271.3 2373.3,2271.3 C2374.3,2271.3 2375.3,2271.7 2376.2,2272.3 C2377.1,2272.9 2378.0,2273.8 2378.7,2274.9 C2379.4,2276.0 2380.0,2277.4 2380.3,2278.8 C2380.7,2280.2 2380.9,2281.9 2380.9,2283.4 Z" stroke-width="2.5"/>
<path d="M2380.2,2283.4 C2380.2,2284.5 2380.1,2285.7 2380.0,2286.7 C2379.8,2287.8 2379.5,2288.8 2379.2,2289.6 C2378.9,2290.3 2378.5,2291.0 2378.1,2291.4 C2377.7,2291.8 2377.2,2292.1 2376.8,2292.1 C2376.3,2292.1 2375.9,2291.8 2375.4,2291.4 C2375.0,2291.0 2374.6,2290.3 2374.3,2289.6 C2374.0,2288.8 2373.7,2287.8 2373.6,2286.7 C2373.4,2285.7 2373.3,2284.5 2373.3,2283.4 C2373.3,2282.3 2373.4,2281.2 2373.6,2280.1 C2373.7,2279.1 2374.0,2278.1 2374.3,2277.3 C2374.6,2276.6 2375.0,2275.9 2375.4,2275.5 C2375.9,2275.0 2376.3,2274.8 2376.8,2274.8 C2377.2,2274.8 2377.7,2275.0 2378.1,2275.5 C2378.5,2275.9 2378.9,2276.6 2379.2,2277.3 C2379.5,2278.1 2379.8,2279.1 2380.0,2280.1 C2380.1,2281.2 2380.2,2282.3 2380.2,2283.4 Z" stroke-width="2"/>
<path d="M2359.5,2248.9 C2356.0,2251.2 2343.1,2256.4 2338.7,2262.7 C2334.4,2269.0 2332.4,2280.0 2333.6,2286.9 C2334.7,2293.8 2340.8,2301.9 2345.7,2304.2 C2350.6,2306.5 2360.1,2301.3 2362.9,2300.7" stroke-width="2.2"/>
<path d="M2460.4,2252.3 C2460.4,2253.9 2460.2,2255.5 2459.8,2257.0 C2459.5,2258.4 2458.9,2259.8 2458.2,2260.9 C2457.5,2262.0 2456.6,2262.9 2455.7,2263.5 C2454.8,2264.1 2453.8,2264.4 2452.8,2264.4 C2451.8,2264.4 2450.8,2264.1 2449.9,2263.5 C2449.0,2262.9 2448.1,2262.0 2447.4,2260.9 C2446.8,2259.8 2446.2,2258.4 2445.8,2257.0 C2445.4,2255.5 2445.2,2253.9 2445.2,2252.3 C2445.2,2250.8 2445.4,2249.1 2445.8,2247.7 C2446.2,2246.3 2446.8,2244.9 2447.4,2243.8 C2448.1,2242.7 2449.0,2241.7 2449.9,2241.2 C2450.8,2240.6 2451.8,2240.2 2452.8,2240.2 C2453.8,2240.2 2454.8,2240.6 2455.7,2241.2 C2456.6,2241.7 2457.5,2242.7 2458.2,2243.8 C2458.9,2244.9 2459.5,2246.3 2459.8,2247.7 C2460.2,2249.1 2460.4,2250.8 2460.4,2252.3 Z" stroke-width="2.5"/>
<path d="M2459.7,2252.3 C2459.7,2253.4 2459.6,2254.6 2459.5,2255.6 C2459.3,2256.7 2459.0,2257.7 2458.7,2258.4 C2458.4,2259.2 2458.0,2259.9 2457.6,2260.3 C2457.2,2260.7 2456.7,2261.0 2456.3,2261.0 C2455.8,2261.0 2455.4,2260.7 2455.0,2260.3 C2454.5,2259.9 2454.1,2259.2 2453.8,2258.4 C2453.5,2257.7 2453.2,2256.7 2453.1,2255.6 C2452.9,2254.6 2452.8,2253.4 2452.8,2252.3 C2452.8,2251.2 2452.9,2250.0 2453.1,2249.0 C2453.2,2248.0 2453.5,2247.0 2453.8,2246.2 C2454.1,2245.4 2454.5,2244.8 2455.0,2244.3 C2455.4,2243.9 2455.8,2243.7 2456.3,2243.7 C2456.7,2243.7 2457.2,2243.9 2457.6,2244.3 C2458.0,2244.8 2458.4,2245.4 2458.7,2246.2 C2459.0,2247.0 2459.3,2248.0 2459.5,2249.0 C2459.6,2250.0 2459.7,2251.2 2459.7,2252.3 Z" stroke-width="2"/>
<path d="M2439.0,2217.8 C2435.5,2220.1 2422.6,2225.3 2418.3,2231.6 C2413.9,2237.9 2411.9,2248.9 2413.1,2255.8 C2414.2,2262.7 2420.3,2270.8 2425.2,2273.1 C2430.1,2275.4 2439.6,2270.2 2442.4,2269.6" stroke-width="2.2"/>
<path d="M2089.9,2428.6 C2091.0,2426.3 2093.3,2418.3 2096.8,2414.8 C2100.2,2411.3 2108.3,2409.0 2110.6,2407.9" stroke-width="2.2"/>
<path d="M2159.0,2366.4 C2160.2,2364.1 2162.5,2356.0 2165.9,2352.6 C2169.4,2349.1 2177.4,2346.8 2179.7,2345.7" stroke-width="2.2"/>
<path d="M2231.6,2302.5 C2232.7,2300.1 2235.1,2292.1 2238.5,2288.6 C2242.0,2285.2 2250.0,2282.9 2252.3,2281.7" stroke-width="2.2"/>
<path d="M2304.2,2252.3 C2305.3,2250.0 2307.6,2242.0 2311.1,2238.5 C2314.6,2235.1 2322.6,2232.7 2324.9,2231.6" stroke-width="2.2"/>
<path d="M2387.1,2209.1 L2449.4,2191.8" stroke-width="2.5"/>
<path d="M1759.0,2322.3 C1771.1,2342.6 1808.2,2406.0 1831.2,2443.7 C1854.2,2481.4 1879.3,2523.5 1896.8,2548.7 C1914.3,2573.8 1926.9,2582.6 1936.2,2594.6 C1945.5,2606.6 1949.0,2612.1 1952.6,2620.8 C1956.1,2629.6 1957.5,2634.5 1957.5,2647.1 C1957.5,2659.6 1954.8,2678.2 1952.6,2696.3 C1950.4,2714.3 1947.1,2735.1 1944.4,2755.3 C1941.6,2775.5 1938.9,2795.2 1936.2,2817.6 C1933.4,2840.0 1929.3,2877.8 1928.0,2889.8" stroke-width="3.5"/>
<path d="M1790.2,2299.4 C1802.5,2319.0 1840.8,2381.4 1864.0,2417.4 C1887.2,2453.5 1911.0,2488.5 1929.6,2515.9 C1948.2,2543.2 1964.6,2564.5 1975.5,2581.5 C1986.5,2598.4 1991.4,2605.5 1995.2,2617.5 C1999.0,2629.6 1998.8,2639.4 1998.5,2653.6 C1998.2,2667.8 1994.9,2682.1 1993.6,2702.8 C1992.2,2723.6 1992.2,2765.7 1990.3,2778.3 C1988.4,2790.8 1984.6,2767.3 1982.1,2778.3 C1979.6,2789.2 1977.7,2824.7 1975.5,2843.9 C1973.3,2863.0 1970.1,2884.9 1969.0,2893.1" stroke-width="3.5"/>
<path d="M1789.4,2303.5 C1790.0,2304.4 1790.1,2305.6 1789.8,2306.9 C1789.5,2308.1 1788.8,2309.7 1787.8,2311.1 C1786.7,2312.6 1785.2,2314.2 1783.6,2315.6 C1781.9,2317.0 1779.9,2318.4 1777.9,2319.6 C1775.9,2320.7 1773.7,2321.8 1771.6,2322.5 C1769.6,2323.2 1767.4,2323.7 1765.7,2323.9 C1763.9,2324.1 1762.2,2323.9 1760.9,2323.5 C1759.7,2323.1 1758.7,2322.4 1758.2,2321.5 C1757.7,2320.6 1757.5,2319.4 1757.8,2318.1 C1758.1,2316.8 1758.8,2315.3 1759.9,2313.8 C1760.9,2312.4 1762.4,2310.8 1764.0,2309.4 C1765.7,2308.0 1767.7,2306.5 1769.7,2305.4 C1771.7,2304.2 1774.0,2303.2 1776.0,2302.5 C1778.0,2301.8 1780.2,2301.3 1782.0,2301.1 C1783.7,2300.9 1785.4,2301.0 1786.7,2301.4 C1787.9,2301.8 1788.9,2302.6 1789.4,2303.5 Z" stroke-width="3"/>
<path d="M1968.9,2895.8 C1968.9,2896.6 1968.3,2897.4 1967.2,2898.0 C1966.1,2898.6 1964.4,2899.2 1962.5,2899.7 C1960.5,2900.1 1958.0,2900.4 1955.5,2900.6 C1953.0,2900.7 1950.1,2900.8 1947.3,2900.6 C1944.6,2900.5 1941.7,2900.2 1939.2,2899.7 C1936.7,2899.3 1934.3,2898.7 1932.4,2898.1 C1930.5,2897.5 1928.9,2896.7 1927.9,2895.9 C1926.9,2895.2 1926.3,2894.4 1926.4,2893.6 C1926.4,2892.8 1927.0,2892.1 1928.1,2891.4 C1929.2,2890.8 1930.9,2890.2 1932.8,2889.8 C1934.8,2889.3 1937.3,2889.0 1939.8,2888.8 C1942.3,2888.7 1945.2,2888.7 1948.0,2888.8 C1950.7,2889.0 1953.6,2889.3 1956.1,2889.7 C1958.6,2890.1 1961.0,2890.7 1962.9,2891.3 C1964.8,2892.0 1966.4,2892.7 1967.4,2893.5 C1968.4,2894.2 1969.0,2895.1 1968.9,2895.8 Z" stroke-width="3"/>
<path d="M1877.1,2699.5 C1878.8,2699.0 1874.9,2695.4 1887.0,2696.3 C1899.0,2697.1 1939.7,2694.9 1949.3,2704.5 C1958.9,2714.0 1956.1,2747.1 1944.4,2753.7 C1932.6,2760.2 1890.8,2748.5 1878.8,2743.8 C1866.7,2739.2 1872.5,2733.2 1872.2,2725.8 C1871.9,2718.4 1876.3,2703.9 1877.1,2699.5" stroke-width="3"/>
<path d="M1914.8,2723.7 C1914.7,2724.7 1914.3,2725.8 1913.5,2726.7 C1912.8,2727.6 1911.7,2728.5 1910.5,2729.1 C1909.2,2729.7 1907.6,2730.2 1906.1,2730.5 C1904.5,2730.8 1902.7,2730.8 1901.0,2730.7 C1899.3,2730.5 1897.6,2730.2 1896.1,2729.6 C1894.6,2729.1 1893.1,2728.3 1892.0,2727.5 C1890.9,2726.6 1889.9,2725.6 1889.4,2724.6 C1888.8,2723.6 1888.6,2722.4 1888.7,2721.4 C1888.8,2720.3 1889.2,2719.2 1889.9,2718.3 C1890.7,2717.4 1891.8,2716.6 1893.0,2715.9 C1894.2,2715.3 1895.8,2714.8 1897.4,2714.5 C1899.0,2714.3 1900.8,2714.2 1902.4,2714.3 C1904.1,2714.5 1905.9,2714.9 1907.4,2715.4 C1908.9,2715.9 1910.4,2716.7 1911.5,2717.5 C1912.6,2718.4 1913.5,2719.4 1914.1,2720.4 C1914.6,2721.5 1914.9,2722.6 1914.8,2723.7 Z" stroke-width="2.5"/>
<path d="M1887.0,2688.1 L1947.7,2696.3" stroke-width="2.5"/>
<path d="M1975.5,2719.2 L1993.6,2706.1 L1996.9,2719.2 L1993.6,2765.1 L1985.4,2775.0 L1970.6,2778.3 L1972.3,2725.8 L1975.5,2719.2" stroke-width="3"/>
<path d="M1982.1,2719.2 L1978.8,2771.7" stroke-width="2"/>
<path d="M1923.3,2936.9 C1925.6,2935.7 1930.8,2930.9 1937.1,2930.0 C1943.5,2929.1 1956.7,2930.6 1961.3,2931.7 C1965.9,2932.9 1964.5,2931.1 1964.8,2936.9 C1965.1,2942.7 1963.6,2951.9 1963.1,2966.3 C1962.5,2980.7 1961.6,3013.8 1961.3,3023.3" stroke-width="3"/>
<path d="M1923.3,2936.9 C1923.0,2940.9 1923.9,2951.3 1921.6,2961.1 C1919.3,2970.9 1912.7,2987.0 1909.5,2995.7 C1906.3,3004.3 1903.2,3007.8 1902.6,3012.9 C1902.0,3018.1 1901.4,3023.3 1906.0,3026.8 C1910.6,3030.2 1921.6,3033.7 1930.2,3033.7 C1938.9,3033.7 1952.7,3029.7 1957.9,3026.8 C1963.1,3023.9 1960.8,3018.1 1961.3,3016.4" stroke-width="3"/>
<path d="M1923.3,2957.6 C1925.6,2958.8 1930.8,2963.7 1937.1,2964.6 C1943.5,2965.4 1957.3,2963.1 1961.3,2962.8" stroke-width="2.5"/>
<path d="M1963.1,2936.9 C1963.1,2937.6 1962.8,2938.3 1962.3,2938.9 C1961.8,2939.5 1961.0,2940.1 1960.0,2940.6 C1959.1,2941.0 1957.9,2941.4 1956.7,2941.7 C1955.4,2941.9 1954.0,2942.1 1952.7,2942.1 C1951.4,2942.1 1949.9,2941.9 1948.7,2941.7 C1947.5,2941.4 1946.3,2941.0 1945.4,2940.6 C1944.4,2940.1 1943.6,2939.5 1943.1,2938.9 C1942.6,2938.3 1942.3,2937.6 1942.3,2936.9 C1942.3,2936.2 1942.6,2935.5 1943.1,2934.9 C1943.6,2934.3 1944.4,2933.7 1945.4,2933.2 C1946.3,2932.8 1947.5,2932.4 1948.7,2932.1 C1949.9,2931.9 1951.4,2931.7 1952.7,2931.7 C1954.0,2931.7 1955.4,2931.9 1956.7,2932.1 C1957.9,2932.4 1959.1,2932.8 1960.0,2933.2 C1961.0,2933.7 1961.8,2934.3 1962.3,2934.9 C1962.8,2935.5 1963.1,2936.2 1963.1,2936.9 Z" stroke-width="2.5"/>
<path d="M1902.6,2981.8 L1874.9,3002.6 L1871.5,3016.4 L1892.2,3040.6 L1964.8,3047.5 L1992.4,3026.8 L1989.0,3016.4 L1970.0,2992.2" stroke-width="3.5"/>
<path d="M1892.2,3040.6 L1895.7,3051.0 L1961.3,3057.9 L1964.8,3047.5" stroke-width="3"/>
<path d="M1885.3,3054.4 C1884.7,3057.3 1880.1,3067.4 1881.8,3071.7 C1883.6,3076.0 1887.6,3078.3 1895.7,3080.3 C1903.7,3082.4 1919.9,3084.1 1930.2,3083.8 C1940.6,3083.5 1952.7,3081.8 1957.9,3078.6 C1963.1,3075.5 1960.8,3067.1 1961.3,3064.8" stroke-width="2.5"/>
<path d="M1885.3,3070.0 C1884.7,3072.9 1880.1,3082.9 1881.8,3087.3 C1883.6,3091.6 1887.6,3093.9 1895.7,3095.9 C1903.7,3097.9 1919.9,3099.6 1930.2,3099.4 C1940.6,3099.1 1952.7,3097.3 1957.9,3094.2 C1963.1,3091.0 1960.8,3082.7 1961.3,3080.3" stroke-width="2.5"/>
<path d="M1885.3,3083.8 C1884.7,3086.7 1880.1,3096.8 1881.8,3101.1 C1883.6,3105.4 1887.6,3107.7 1895.7,3109.7 C1903.7,3111.7 1919.9,3113.5 1930.2,3113.2 C1940.6,3112.9 1952.7,3111.2 1957.9,3108.0 C1963.1,3104.8 1960.8,3096.5 1961.3,3094.2" stroke-width="2.5"/>
<path d="M1885.3,3097.6 C1884.7,3100.5 1880.1,3110.6 1881.8,3114.9 C1883.6,3119.2 1887.6,3121.5 1895.7,3123.6 C1903.7,3125.6 1919.9,3127.3 1930.2,3127.0 C1940.6,3126.7 1952.7,3125.0 1957.9,3121.8 C1963.1,3118.7 1960.8,3110.3 1961.3,3108.0" stroke-width="2.5"/>
<path d="M1878.4,3085.5 C1878.3,3087.8 1876.5,3095.3 1877.7,3099.4 C1878.8,3103.4 1879.4,3106.8 1885.3,3109.7 C1891.2,3112.6 1904.3,3115.8 1912.9,3116.6 C1921.6,3117.5 1929.7,3116.6 1937.1,3114.9 C1944.6,3113.2 1954.4,3107.7 1957.9,3106.3" stroke-width="3"/>
<path d="M1895.7,3064.8 L1961.3,3057.9" stroke-width="2.5"/>
<path d="M1262.3,1898.0 L1180.2,1940.5 L1245.8,2052.1 L1251.5,2053.5 L1263.0,2049.9 L1266.6,2056.4 L1266.6,2032.6 L1345.9,2077.3 L1363.9,2068.7 L1363.9,1988.0 L1266.6,1933.3 L1266.6,1898.7 L1262.3,1898.0" stroke-width="7"/>
<path d="M1259.4,1906.6 L1191.0,1941.9 L1250.8,2045.6 L1259.4,2042.7 L1259.4,2005.3 L1357.4,2062.2 L1357.4,1992.3" stroke-width="5"/>
<path d="M1200.4,1937.6 L1256.6,2037.0" stroke-width="3"/>
<path d="M1266.6,2022.6 L1354.5,2061.5" stroke-width="3"/>
<path d="M2193.5,1885.4 C2195.8,1887.4 2203.9,1892.0 2207.4,1897.5 C2210.8,1903.0 2213.4,1911.9 2214.3,1918.2 C2215.1,1924.6 2212.8,1932.6 2212.5,1935.5" stroke-width="3"/>
<path d="M2210.0,1935.5 C2211.2,1935.2 2215.3,1933.8 2217.7,1933.8 C2220.2,1933.8 2223.3,1932.4 2224.6,1935.5 C2225.9,1938.7 2226.1,1947.6 2225.5,1952.8 C2224.9,1958.0 2223.6,1964.0 2221.2,1966.6 C2218.7,1969.2 2212.5,1968.1 2210.8,1968.4" stroke-width="3"/>
<path d="M2222.9,1956.3 C2224.2,1956.8 2229.2,1956.5 2230.7,1959.7 C2232.1,1962.9 2232.3,1971.8 2231.6,1975.3 C2230.8,1978.7 2229.8,1979.6 2226.4,1980.4 C2222.9,1981.3 2213.4,1980.4 2210.8,1980.4" stroke-width="3"/>
<path d="M2210.8,1980.4 C2211.4,1983.9 2212.0,1998.3 2214.3,2001.2 C2216.6,2004.1 2222.0,2001.5 2224.6,1997.7 C2227.2,1994.0 2229.0,1981.9 2229.8,1978.7" stroke-width="3"/>
<path d="M2229.8,1978.7 C2229.1,1985.9 2226.7,2012.7 2225.5,2021.9 C2224.4,2031.1 2225.1,2031.4 2222.9,2034.0 C2220.8,2036.6 2215.7,2037.8 2212.5,2037.5 C2209.4,2037.2 2205.3,2033.2 2203.9,2032.3" stroke-width="3"/>
<path d="M2210.0,1935.5 C2209.5,1941.3 2208.1,1960.0 2207.4,1970.1 C2206.6,1980.2 2207.1,1989.1 2205.6,1996.0 C2204.2,2002.9 2199.9,2009.0 2198.7,2011.6" stroke-width="3"/>
<path d="M2191.8,2013.3 C2193.2,2015.3 2197.9,2021.3 2200.4,2025.4 C2203.0,2029.4 2206.2,2035.5 2207.4,2037.5" stroke-width="3"/>
</g>
<g class="t">
<text x="173.9" y="405.0" font-size="52.5" letter-spacing="-1.76">568</text>
<text x="330.8" y="407.0" font-size="45.7" letter-spacing="-0.78">6064</text>
<text x="170.9" y="820.0" font-size="51.4" letter-spacing="-1.00">176</text>
<text x="328.2" y="821.0" font-size="45.0" letter-spacing="0.07">5647</text>
<text x="383.9" y="1233.0" font-size="51.4" letter-spacing="-1.00">168</text>
<text x="532.2" y="1233.0" font-size="44.3" letter-spacing="0.41">5648</text>
<text x="723.4" y="1410.0" font-size="52.1" letter-spacing="-0.70">160</text>
<text x="869.3" y="1404.8" font-size="45.4" letter-spacing="0.03">6100</text>
<text x="1810.2" y="356.0" font-size="44.3" letter-spacing="-1.00">5431</text>
<text x="1978.9" y="268.0" font-size="51.4" letter-spacing="-1.00">581</text>
<text x="1974.9" y="329.6" font-size="52.5" letter-spacing="-1.26">582</text>
<text x="1975.1" y="389.4" font-size="49.0" letter-spacing="1.76">584</text>
<text x="1975.0" y="449.6" font-size="50.9" letter-spacing="-0.18">588</text>
<text x="2040.2" y="696.7" font-size="46.5" letter-spacing="-1.18">6065</text>
<text x="2211.0" y="608.4" font-size="50.6" letter-spacing="0.05">573</text>
<text x="2210.9" y="669.0" font-size="51.4" letter-spacing="-1.14">574</text>
<text x="2210.9" y="731.0" font-size="52.5" letter-spacing="-1.76">576</text>
<text x="2211.0" y="791.0" font-size="50.9" letter-spacing="-0.18">580</text>
<text x="1825.0" y="775.0" font-size="49.3" letter-spacing="1.06">500</text>
<text x="1582.9" y="1078.0" font-size="50.7" letter-spacing="-0.75">100</text>
<text x="2040.8" y="1100.0" font-size="45.0" letter-spacing="0.03">5652</text>
<text x="2214.9" y="948.0" font-size="51.4" letter-spacing="-0.63">557</text>
<text x="2215.0" y="1008.6" font-size="50.9" letter-spacing="-0.18">558</text>
<text x="2214.9" y="1069.0" font-size="51.4" letter-spacing="-0.63">560</text>
<text x="2215.0" y="1129.0" font-size="50.0" letter-spacing="-1.00">561</text>
<text x="2215.0" y="1194.5" font-size="50.7" letter-spacing="-0.06">562</text>
<text x="2215.0" y="1251.0" font-size="50.0" letter-spacing="0.00">564</text>
<text x="646.7" y="1669.3" font-size="51.3" letter-spacing="-1.00">201</text>
<text x="637.4" y="1739.5" font-size="52.1" letter-spacing="-0.92">200</text>
<text x="540.6" y="1845.6" font-size="50.9" letter-spacing="-0.02">202</text>
<text x="755.6" y="1827.0" font-size="51.4" letter-spacing="-0.70">100</text>
<text x="131.1" y="2054.5" font-size="49.3" letter-spacing="0.30">100</text>
<text x="431.1" y="2076.0" font-size="49.0" letter-spacing="2.50">214</text>
<text x="318.0" y="2138.5" font-size="50.7" letter-spacing="-0.44">5 POSITIONS</text>
<text x="610.1" y="2256.7" font-size="49.0" letter-spacing="2.08">242</text>
<text x="555.9" y="2334.4" font-size="49.1" letter-spacing="1.77">240</text>
<text x="521.1" y="2407.0" font-size="49.0" letter-spacing="-0.11">241</text>
<text x="992.9" y="2591.3" font-size="51.9" letter-spacing="-0.94">SEE 72–38–25</text>
<text x="1089.8" y="2652.2" font-size="51.1" letter-spacing="-1.00">FIG 01</text>
<text x="309.8" y="2982.0" font-size="52.5" letter-spacing="-1.55">SEE FIG 02</text>
<text x="2144.0" y="1675.6" font-size="49.4" letter-spacing="0.07">SEE 75–23–51</text>
<text x="2234.9" y="1736.0" font-size="51.4" letter-spacing="-1.00">FIG 01</text>
<text x="1708.9" y="1763.0" font-size="49.0" letter-spacing="1.88">601</text>
<text x="1627.1" y="1839.0" font-size="49.0" letter-spacing="2.50">602</text>
<text x="1568.0" y="1949.7" font-size="50.1" letter-spacing="2.39">600</text>
<text x="1352.1" y="2263.0" font-size="49.0" letter-spacing="1.43">500</text>
<text x="1705.0" y="2578.6" font-size="49.4" letter-spacing="1.20">614</text>
<text x="1608.5" y="2638.5" font-size="49.3" letter-spacing="0.39">1 POSITION</text>
<text x="1753.7" y="2911.0" font-size="49.4" letter-spacing="1.60">642</text>
<text transform="translate(1243,1983) skewY(28) scale(0.78,1)" x="0" y="0" font-size="61" font-weight="bold" stroke-width="0.5">FWD</text>
<text transform="translate(85.5,3213.5) rotate(-90)" x="0" y="0" font-size="44.5" letter-spacing="0">bmis000225</text>
</g>
</svg>
</body></html>
